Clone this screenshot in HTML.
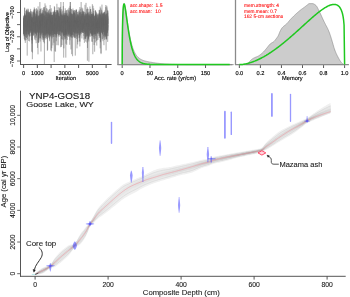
<!DOCTYPE html>
<html><head><meta charset="utf-8"><style>
html,body{margin:0;padding:0;background:#fff;overflow:hidden;}
svg{display:block;will-change:transform;font-family:"Liberation Sans", sans-serif;}
</style></head><body>
<svg width="350" height="297" viewBox="0 0 350 297">
<rect width="350" height="297" fill="#fff"/>
<line x1="20.5" y1="0" x2="20.5" y2="64.9" stroke="#555" stroke-width="1"/>
<line x1="20" y1="64.5" x2="111.6" y2="64.5" stroke="#555" stroke-width="1"/>
<line x1="17" y1="12.5" x2="20.5" y2="12.5" stroke="#555" stroke-width="0.9"/>
<line x1="17" y1="24.62" x2="20.5" y2="24.62" stroke="#555" stroke-width="0.9"/>
<line x1="17" y1="36.75" x2="20.5" y2="36.75" stroke="#555" stroke-width="0.9"/>
<line x1="17" y1="48.88" x2="20.5" y2="48.88" stroke="#555" stroke-width="0.9"/>
<line x1="17" y1="61" x2="20.5" y2="61" stroke="#555" stroke-width="0.9"/>
<text transform="translate(14.1,12.5) rotate(-90)" text-anchor="middle" font-size="5.5" fill="#000" stroke="#000" stroke-width="0.14" text-rendering="geometricPrecision">−700</text>
<text transform="translate(14.1,36.75) rotate(-90)" text-anchor="middle" font-size="5.5" fill="#000" stroke="#000" stroke-width="0.14" text-rendering="geometricPrecision">−720</text>
<text transform="translate(14.1,61) rotate(-90)" text-anchor="middle" font-size="5.5" fill="#000" stroke="#000" stroke-width="0.14" text-rendering="geometricPrecision">−740</text>
<text transform="translate(8.6,32.1) rotate(-90)" text-anchor="middle" font-size="5.5" fill="#000" stroke="#000" stroke-width="0.14" text-rendering="geometricPrecision">Log of Objective</text>
<line x1="23.6" y1="65" x2="23.6" y2="68" stroke="#444" stroke-width="0.9"/>
<line x1="37.35" y1="65" x2="37.35" y2="68" stroke="#444" stroke-width="0.9"/>
<line x1="51.1" y1="65" x2="51.1" y2="68" stroke="#444" stroke-width="0.9"/>
<line x1="64.85" y1="65" x2="64.85" y2="68" stroke="#444" stroke-width="0.9"/>
<line x1="78.6" y1="65" x2="78.6" y2="68" stroke="#444" stroke-width="0.9"/>
<line x1="92.35" y1="65" x2="92.35" y2="68" stroke="#444" stroke-width="0.9"/>
<line x1="106.1" y1="65" x2="106.1" y2="68" stroke="#444" stroke-width="0.9"/>
<text x="23.6" y="75" text-anchor="middle" font-size="5.7" fill="#000" stroke="#000" stroke-width="0.14" text-rendering="geometricPrecision">0</text>
<text x="37.35" y="75" text-anchor="middle" font-size="5.7" fill="#000" stroke="#000" stroke-width="0.14" text-rendering="geometricPrecision">1000</text>
<text x="64.85" y="75" text-anchor="middle" font-size="5.7" fill="#000" stroke="#000" stroke-width="0.14" text-rendering="geometricPrecision">3000</text>
<text x="92.35" y="75" text-anchor="middle" font-size="5.7" fill="#000" stroke="#000" stroke-width="0.14" text-rendering="geometricPrecision">5000</text>
<text x="65.8" y="80.1" text-anchor="middle" font-size="5.7" fill="#000" stroke="#000" stroke-width="0.14" text-rendering="geometricPrecision">Iteration</text>
<polyline points="23.50,22.0 23.52,26.8 23.53,34.3 23.55,26.3 23.57,25.1 23.58,20.7 23.60,22.6 23.61,34.0 23.63,19.4 23.65,34.4 23.66,22.9 23.68,22.9 23.70,17.7 23.71,20.1 23.73,16.7 23.74,20.1 23.76,28.4 23.78,23.6 23.79,24.4 23.81,15.4 23.83,17.5 23.84,20.3 23.86,32.7 23.87,27.2 23.89,20.6 23.91,29.8 23.92,24.0 23.94,20.3 23.96,16.0 23.97,26.1 23.99,18.5 24.00,26.6 24.02,24.1 24.04,26.0 24.05,18.1 24.07,29.6 24.09,22.7 24.10,21.7 24.12,18.6 24.13,28.0 24.15,26.6 24.17,28.5 24.18,36.3 24.20,25.6 24.22,21.5 24.23,26.0 24.25,26.1 24.26,25.1 24.28,38.9 24.30,22.8 24.31,36.1 24.33,21.9 24.35,24.7 24.36,15.9 24.38,35.9 24.39,22.4 24.41,17.9 24.43,22.9 24.44,30.2 24.46,21.7 24.48,24.4 24.49,28.0 24.51,27.5 24.52,24.6 24.54,25.7 24.56,13.3 24.57,28.9 24.59,7.6 24.61,25.2 24.62,26.5 24.64,31.8 24.65,7.9 24.67,40.3 24.69,25.1 24.70,31.8 24.72,15.1 24.74,19.4 24.75,21.1 24.77,15.5 24.78,25.8 24.80,19.9 24.82,32.5 24.83,13.6 24.85,25.3 24.87,24.2 24.88,20.7 24.90,15.5 24.91,23.2 24.93,16.1 24.95,23.3 24.96,32.7 24.98,20.1 25.00,34.9 25.01,19.4 25.03,23.7 25.04,26.1 25.06,21.6 25.08,14.6 25.09,29.7 25.11,21.7 25.13,16.7 25.14,26.8 25.16,29.9 25.17,24.6 25.19,40.4 25.21,30.8 25.22,34.2 25.24,26.3 25.26,25.6 25.27,19.2 25.29,25.4 25.30,42.9 25.32,24.4 25.34,21.1 25.35,19.4 25.37,30.4 25.39,23.8 25.40,26.6 25.42,20.0 25.43,33.6 25.45,36.9 25.47,24.1 25.48,26.3 25.50,22.4 25.52,17.7 25.53,28.3 25.55,21.2 25.56,15.9 25.58,23.3 25.60,18.8 25.61,21.1 25.63,19.1 25.65,19.0 25.66,25.2 25.68,27.0 25.69,22.4 25.71,27.9 25.73,30.6 25.74,22.1 25.76,27.9 25.78,20.9 25.79,10.9 25.81,33.9 25.82,14.7 25.84,24.9 25.86,20.4 25.87,27.5 25.89,16.2 25.91,26.9 25.92,24.3 25.94,17.5 25.95,27.6 25.97,15.8 25.99,23.5 26.00,28.0 26.02,25.8 26.04,17.4 26.05,23.8 26.07,22.0 26.08,21.6 26.10,24.7 26.12,23.2 26.13,21.7 26.15,30.9 26.17,26.6 26.18,40.1 26.20,18.9 26.21,25.2 26.23,28.4 26.25,29.6 26.26,31.0 26.28,17.2 26.30,16.7 26.31,24.0 26.33,23.8 26.34,23.3 26.36,20.5 26.38,10.4 26.39,18.6 26.41,21.1 26.43,20.3 26.44,38.0 26.46,12.6 26.47,34.9 26.49,25.7 26.51,20.7 26.52,37.4 26.54,19.5 26.56,20.5 26.57,33.5 26.59,17.7 26.60,21.4 26.62,19.2 26.64,23.7 26.65,24.6 26.67,26.2 26.69,11.7 26.70,18.0 26.72,21.6 26.73,27.6 26.75,15.0 26.77,14.5 26.78,8.9 26.80,29.0 26.82,27.3 26.83,19.3 26.85,34.0 26.86,10.3 26.88,17.4 26.90,9.9 26.91,21.9 26.93,23.0 26.95,22.5 26.96,26.7 26.98,30.5 26.99,26.9 27.01,28.9 27.03,24.0 27.04,19.0 27.06,24.3 27.08,30.9 27.09,24.6 27.11,30.3 27.12,21.6 27.14,26.6 27.16,13.7 27.17,25.5 27.19,19.5 27.21,55.6 27.22,23.7 27.24,27.4 27.25,28.6 27.27,29.5 27.29,25.9 27.30,28.7 27.32,16.9 27.34,19.2 27.35,29.9 27.37,26.7 27.38,22.7 27.40,30.7 27.42,17.6 27.43,18.2 27.45,33.6 27.47,36.7 27.48,29.0 27.50,21.4 27.51,39.3 27.53,23.5 27.55,24.1 27.56,28.1 27.58,24.3 27.60,23.6 27.61,30.3 27.63,22.8 27.64,11.9 27.66,17.9 27.68,32.0 27.69,31.4 27.71,25.3 27.73,23.4 27.74,26.2 27.76,24.2 27.77,30.1 27.79,22.0 27.81,20.8 27.82,23.3 27.84,19.4 27.86,18.7 27.87,21.0 27.89,26.9 27.90,15.0 27.92,33.4 27.94,11.8 27.95,11.0 27.97,16.3 27.99,26.2 28.00,8.6 28.02,21.2 28.03,26.2 28.05,23.9 28.07,24.5 28.08,26.8 28.10,34.3 28.12,15.0 28.13,20.8 28.15,22.5 28.16,28.9 28.18,12.7 28.20,29.9 28.21,23.8 28.23,24.3 28.25,25.6 28.26,18.9 28.28,31.1 28.29,28.3 28.31,9.4 28.33,21.7 28.34,24.7 28.36,26.7 28.38,29.2 28.39,20.8 28.41,24.6 28.42,19.2 28.44,24.9 28.46,29.8 28.47,26.9 28.49,22.2 28.51,17.1 28.52,18.9 28.54,15.3 28.55,34.0 28.57,24.6 28.59,34.3 28.60,26.2 28.62,25.7 28.64,40.9 28.65,25.9 28.67,17.5 28.68,23.4 28.70,22.3 28.72,12.1 28.73,26.9 28.75,24.5 28.77,30.9 28.78,34.9 28.80,27.4 28.81,20.7 28.83,31.4 28.85,36.1 28.86,29.4 28.88,28.7 28.90,12.2 28.91,17.3 28.93,25.1 28.94,18.9 28.96,13.1 28.98,25.0 28.99,31.9 29.01,23.0 29.03,18.6 29.04,19.1 29.06,25.7 29.07,22.5 29.09,16.3 29.11,19.4 29.12,27.9 29.14,21.8 29.16,20.7 29.17,17.3 29.19,19.4 29.20,18.2 29.22,31.1 29.24,32.3 29.25,26.9 29.27,22.3 29.29,25.1 29.30,34.3 29.32,23.4 29.33,22.9 29.35,19.3 29.37,27.6 29.38,19.5 29.40,12.1 29.42,25.4 29.43,16.2 29.45,24.4 29.46,22.8 29.48,23.5 29.50,18.0 29.51,17.0 29.53,16.5 29.55,19.6 29.56,11.8 29.58,41.4 29.59,32.9 29.61,21.9 29.63,26.5 29.64,23.4 29.66,21.3 29.68,25.4 29.69,22.1 29.71,36.7 29.72,26.6 29.74,20.1 29.76,19.8 29.77,22.7 29.79,29.6 29.81,16.6 29.82,36.1 29.84,13.6 29.85,27.8 29.87,25.4 29.89,23.0 29.90,24.2 29.92,23.5 29.94,17.8 29.95,23.8 29.97,25.7 29.98,33.1 30.00,25.9 30.02,14.1 30.03,26.5 30.05,31.7 30.07,17.4 30.08,23.6 30.10,23.9 30.12,13.1 30.13,28.7 30.15,15.9 30.16,20.7 30.18,22.0 30.20,20.5 30.21,32.9 30.23,20.1 30.25,30.4 30.26,23.2 30.28,20.7 30.29,26.5 30.31,13.8 30.33,28.6 30.34,29.6 30.36,18.9 30.38,18.4 30.39,29.2 30.41,20.0 30.42,21.3 30.44,10.8 30.46,19.2 30.47,18.2 30.49,25.6 30.51,13.8 30.52,18.9 30.54,19.1 30.55,24.7 30.57,22.5 30.59,26.6 30.60,8.9 30.62,22.1 30.64,16.2 30.65,27.7 30.67,22.2 30.68,31.6 30.70,26.5 30.72,21.7 30.73,18.0 30.75,19.2 30.77,22.9 30.78,25.5 30.80,12.3 30.81,29.3 30.83,22.3 30.85,21.4 30.86,31.2 30.88,22.9 30.90,24.6 30.91,22.7 30.93,28.2 30.94,20.4 30.96,30.0 30.98,24.3 30.99,20.3 31.01,20.9 31.03,19.6 31.04,21.5 31.06,26.6 31.07,15.1 31.09,16.7 31.11,26.7 31.12,32.8 31.14,19.0 31.16,21.9 31.17,20.2 31.19,24.3 31.20,35.7 31.22,24.1 31.24,19.0 31.25,28.2 31.27,32.1 31.29,25.1 31.30,11.3 31.32,23.1 31.33,27.5 31.35,19.0 31.37,17.5 31.38,26.2 31.40,17.5 31.42,27.8 31.43,25.1 31.45,18.1 31.46,24.0 31.48,20.4 31.50,27.7 31.51,23.8 31.53,30.9 31.55,18.9 31.56,21.8 31.58,19.6 31.59,51.7 31.61,25.2 31.63,28.5 31.64,13.7 31.66,20.8 31.68,34.6 31.69,26.7 31.71,19.1 31.72,40.0 31.74,16.8 31.76,24.5 31.77,27.1 31.79,29.3 31.81,30.3 31.82,24.4 31.84,25.5 31.85,31.3 31.87,28.1 31.89,33.5 31.90,21.4 31.92,19.8 31.94,33.0 31.95,18.1 31.97,29.7 31.98,17.7 32.00,30.5 32.02,34.0 32.03,43.6 32.05,26.2 32.07,18.6 32.08,21.2 32.10,29.8 32.11,31.5 32.13,16.7 32.15,40.5 32.16,11.5 32.18,21.8 32.20,35.8 32.21,30.5 32.23,27.7 32.24,24.5 32.26,32.2 32.28,23.7 32.29,12.4 32.31,24.5 32.33,31.8 32.34,20.1 32.36,21.4 32.37,17.7 32.39,59.2 32.41,30.6 32.42,29.1 32.44,52.5 32.46,23.4 32.47,22.8 32.49,34.5 32.50,29.8 32.52,22.8 32.54,28.4 32.55,24.5 32.57,35.2 32.59,34.5 32.60,20.6 32.62,18.1 32.63,23.9 32.65,25.3 32.67,24.6 32.68,21.9 32.70,26.9 32.72,24.8 32.73,14.7 32.75,17.8 32.76,19.8 32.78,19.0 32.80,24.2 32.81,25.2 32.83,26.2 32.85,21.4 32.86,18.8 32.88,18.6 32.89,34.5 32.91,27.1 32.93,22.9 32.94,30.1 32.96,27.2 32.98,30.0 32.99,36.1 33.01,28.3 33.02,23.4 33.04,27.8 33.06,27.9 33.07,26.6 33.09,24.7 33.11,16.3 33.12,19.6 33.14,22.9 33.15,26.2 33.17,26.6 33.19,31.0 33.20,28.1 33.22,20.6 33.24,21.1 33.25,23.2 33.27,21.5 33.28,22.5 33.30,23.6 33.32,28.3 33.33,34.5 33.35,31.2 33.37,23.8 33.38,28.7 33.40,12.1 33.41,35.5 33.43,28.4 33.45,22.3 33.46,23.3 33.48,24.2 33.50,31.6 33.51,16.8 33.53,20.1 33.54,26.7 33.56,24.5 33.58,20.8 33.59,25.5 33.61,23.5 33.63,19.8 33.64,27.7 33.66,17.1 33.67,23.9 33.69,29.3 33.71,33.2 33.72,12.4 33.74,15.7 33.76,31.5 33.77,27.0 33.79,24.1 33.80,24.3 33.82,11.4 33.84,22.4 33.85,31.4 33.87,9.5 33.89,29.9 33.90,10.5 33.92,14.8 33.93,25.5 33.95,26.2 33.97,23.7 33.98,26.3 34.00,21.1 34.02,20.2 34.03,18.3 34.05,24.7 34.06,22.8 34.08,23.1 34.10,18.4 34.11,23.9 34.13,35.2 34.15,28.8 34.16,23.3 34.18,20.6 34.19,20.5 34.21,28.6 34.23,13.3 34.24,22.4 34.26,20.0 34.28,19.5 34.29,7.4 34.31,23.8 34.32,18.8 34.34,19.8 34.36,17.4 34.37,28.7 34.39,16.8 34.41,23.6 34.42,21.2 34.44,22.3 34.45,27.7 34.47,22.8 34.49,9.4 34.50,23.8 34.52,14.1 34.54,22.6 34.55,32.6 34.57,20.6 34.58,16.0 34.60,20.5 34.62,8.7 34.63,8.8 34.65,16.4 34.67,39.5 34.68,19.3 34.70,12.7 34.71,21.7 34.73,30.9 34.75,18.9 34.76,23.5 34.78,22.6 34.80,32.6 34.81,26.0 34.83,30.6 34.84,31.8 34.86,23.5 34.88,25.9 34.89,25.4 34.91,34.0 34.93,21.5 34.94,26.0 34.96,27.9 34.97,32.1 34.99,25.5 35.01,37.5 35.02,20.3 35.04,25.8 35.06,18.7 35.07,23.9 35.09,29.9 35.10,12.5 35.12,24.7 35.14,28.7 35.15,22.7 35.17,21.7 35.19,24.9 35.20,21.1 35.22,28.4 35.23,22.8 35.25,20.9 35.27,29.5 35.28,13.8 35.30,27.8 35.32,22.5 35.33,30.3 35.35,30.8 35.36,23.8 35.38,32.2 35.40,18.8 35.41,22.3 35.43,22.5 35.45,29.4 35.46,29.9 35.48,28.7 35.49,21.9 35.51,27.8 35.53,32.7 35.54,17.7 35.56,32.9 35.58,25.4 35.59,22.1 35.61,19.1 35.62,34.0 35.64,33.1 35.66,23.8 35.67,28.7 35.69,28.0 35.71,16.7 35.72,23.4 35.74,16.1 35.75,22.1 35.77,22.4 35.79,40.3 35.80,18.2 35.82,23.1 35.84,26.3 35.85,22.8 35.87,19.6 35.88,9.2 35.90,30.4 35.92,23.0 35.93,31.5 35.95,29.1 35.97,25.8 35.98,21.1 36.00,14.6 36.01,29.0 36.03,21.3 36.05,17.8 36.06,33.6 36.08,17.9 36.10,19.5 36.11,23.0 36.13,26.9 36.14,27.8 36.16,27.2 36.18,43.2 36.19,24.9 36.21,20.8 36.23,22.4 36.24,37.7 36.26,24.3 36.27,17.6 36.29,28.3 36.31,27.1 36.32,31.9 36.34,28.6 36.36,14.5 36.37,18.2 36.39,26.1 36.40,15.5 36.42,15.2 36.44,19.9 36.45,31.2 36.47,8.2 36.49,29.4 36.50,35.7 36.52,23.8 36.54,19.6 36.55,17.2 36.57,29.9 36.58,11.5 36.60,23.7 36.62,27.0 36.63,34.9 36.65,10.8 36.67,19.7 36.68,15.9 36.70,20.4 36.71,20.7 36.73,21.1 36.75,24.5 36.76,15.6 36.78,22.1 36.80,20.7 36.81,22.7 36.83,23.5 36.84,30.9 36.86,18.6 36.88,22.9 36.89,14.1 36.91,20.5 36.93,33.1 36.94,30.7 36.96,24.1 36.97,20.2 36.99,32.0 37.01,24.4 37.02,30.3 37.04,17.9 37.06,28.7 37.07,32.7 37.09,28.0 37.10,24.1 37.12,30.0 37.14,28.3 37.15,23.5 37.17,27.7 37.19,26.6 37.20,24.0 37.22,21.2 37.23,17.9 37.25,31.8 37.27,9.3 37.28,24.1 37.30,22.0 37.32,19.9 37.33,24.2 37.35,28.6 37.36,25.4 37.38,19.1 37.40,25.6 37.41,23.0 37.43,25.7 37.45,22.9 37.46,28.6 37.48,47.9 37.49,18.4 37.51,17.6 37.53,17.0 37.54,32.4 37.56,20.0 37.58,19.7 37.59,21.9 37.61,30.8 37.62,23.1 37.64,24.1 37.66,24.2 37.67,24.7 37.69,27.2 37.71,28.9 37.72,22.7 37.74,29.5 37.75,23.1 37.77,10.2 37.79,26.1 37.80,22.4 37.82,19.4 37.84,21.1 37.85,20.3 37.87,28.3 37.88,11.6 37.90,30.0 37.92,17.3 37.93,19.8 37.95,18.0 37.97,19.9 37.98,19.6 38.00,54.3 38.01,16.3 38.03,25.5 38.05,26.5 38.06,15.5 38.08,21.6 38.10,23.3 38.11,18.7 38.13,26.1 38.14,6.4 38.16,24.2 38.18,24.2 38.19,28.1 38.21,24.2 38.23,15.6 38.24,23.5 38.26,28.1 38.27,42.6 38.29,31.0 38.31,22.8 38.32,17.5 38.34,42.5 38.36,25.1 38.37,21.9 38.39,20.5 38.40,20.4 38.42,26.7 38.44,33.8 38.45,20.3 38.47,22.0 38.49,25.9 38.50,19.0 38.52,20.1 38.53,15.8 38.55,28.0 38.57,19.6 38.58,29.7 38.60,39.2 38.62,23.3 38.63,20.8 38.65,32.3 38.66,20.4 38.68,22.9 38.70,22.0 38.71,42.7 38.73,26.0 38.75,28.0 38.76,28.6 38.78,20.5 38.79,23.6 38.81,27.2 38.83,39.7 38.84,28.0 38.86,26.0 38.88,33.2 38.89,24.2 38.91,36.3 38.92,22.2 38.94,29.7 38.96,22.5 38.97,32.2 38.99,23.9 39.01,23.8 39.02,27.8 39.04,32.8 39.05,26.6 39.07,23.9 39.09,23.6 39.10,28.2 39.12,23.4 39.14,17.6 39.15,28.4 39.17,19.3 39.18,22.4 39.20,22.2 39.22,16.1 39.23,16.0 39.25,22.2 39.27,26.7 39.28,17.3 39.30,29.5 39.31,25.3 39.33,23.6 39.35,26.5 39.36,29.0 39.38,26.9 39.40,26.8 39.41,13.5 39.43,24.1 39.44,31.1 39.46,27.3 39.48,25.0 39.49,25.0 39.51,21.2 39.53,23.6 39.54,15.2 39.56,21.8 39.57,29.8 39.59,11.0 39.61,16.8 39.62,29.9 39.64,18.7 39.66,38.1 39.67,17.4 39.69,17.5 39.70,27.2 39.72,27.8 39.74,22.6 39.75,24.9 39.77,23.9 39.79,32.6 39.80,29.1 39.82,21.5 39.83,23.8 39.85,28.8 39.87,2.0 39.88,22.8 39.90,28.5 39.92,19.4 39.93,23.1 39.95,28.4 39.96,27.8 39.98,18.4 40.00,20.6 40.01,28.8 40.03,25.3 40.05,21.9 40.06,34.7 40.08,9.5 40.09,31.4 40.11,41.5 40.13,27.4 40.14,25.9 40.16,16.6 40.18,25.5 40.19,20.6 40.21,26.9 40.22,8.5 40.24,22.7 40.26,20.2 40.27,18.8 40.29,20.9 40.31,25.6 40.32,18.7 40.34,20.8 40.35,20.1 40.37,15.0 40.39,27.7 40.40,38.5 40.42,23.2 40.44,9.1 40.45,23.9 40.47,21.0 40.48,22.9 40.50,31.6 40.52,37.8 40.53,22.5 40.55,21.9 40.57,28.4 40.58,33.6 40.60,13.1 40.61,24.7 40.63,21.6 40.65,20.9 40.66,25.6 40.68,26.9 40.70,20.0 40.71,24.0 40.73,20.5 40.74,22.9 40.76,20.8 40.78,26.7 40.79,17.3 40.81,18.2 40.83,14.9 40.84,19.5 40.86,29.8 40.87,24.8 40.89,19.5 40.91,21.4 40.92,20.0 40.94,32.1 40.96,17.3 40.97,51.5 40.99,21.3 41.00,25.1 41.02,21.7 41.04,26.5 41.05,34.8 41.07,23.4 41.09,23.7 41.10,14.6 41.12,32.0 41.13,29.1 41.15,23.5 41.17,20.2 41.18,29.2 41.20,13.7 41.22,27.3 41.23,19.7 41.25,34.5 41.26,21.4 41.28,19.1 41.30,24.8 41.31,15.0 41.33,30.5 41.35,21.4 41.36,25.1 41.38,33.3 41.39,14.0 41.41,18.1 41.43,19.3 41.44,21.8 41.46,20.0 41.48,17.8 41.49,20.6 41.51,29.4 41.52,22.0 41.54,17.8 41.56,28.2 41.57,24.6 41.59,20.3 41.61,25.3 41.62,19.1 41.64,17.5 41.65,23.1 41.67,18.7 41.69,18.8 41.70,18.2 41.72,29.0 41.74,25.7 41.75,23.3 41.77,23.7 41.78,12.9 41.80,36.3 41.82,17.7 41.83,23.5 41.85,14.6 41.87,8.3 41.88,31.9 41.90,33.2 41.91,21.3 41.93,28.7 41.95,13.7 41.96,29.0 41.98,34.7 42.00,39.4 42.01,20.3 42.03,20.7 42.04,29.7 42.06,28.4 42.08,22.5 42.09,16.5 42.11,15.3 42.13,14.8 42.14,20.2 42.16,18.5 42.17,15.6 42.19,18.2 42.21,21.2 42.22,13.5 42.24,20.4 42.26,20.4 42.27,32.1 42.29,11.8 42.30,32.8 42.32,21.2 42.34,26.9 42.35,26.3 42.37,21.6 42.39,29.2 42.40,16.1 42.42,29.8 42.43,14.4 42.45,10.1 42.47,23.6 42.48,26.0 42.50,21.3 42.52,31.4 42.53,27.1 42.55,31.5 42.56,28.9 42.58,30.4 42.60,28.9 42.61,30.0 42.63,37.5 42.65,25.0 42.66,32.4 42.68,24.8 42.69,13.4 42.71,30.9 42.73,24.9 42.74,18.1 42.76,20.4 42.78,35.0 42.79,23.3 42.81,20.3 42.82,24.1 42.84,21.4 42.86,27.0 42.87,16.9 42.89,22.9 42.91,14.5 42.92,20.0 42.94,15.4 42.95,13.7 42.97,23.1 42.99,29.5 43.00,27.4 43.02,24.7 43.04,26.0 43.05,25.4 43.07,33.1 43.09,17.7 43.10,16.7 43.12,36.3 43.13,40.3 43.15,17.6 43.17,27.0 43.18,13.7 43.20,39.5 43.22,19.3 43.23,29.0 43.25,18.8 43.26,21.4 43.28,25.6 43.30,15.9 43.31,27.4 43.33,17.3 43.35,24.8 43.36,21.1 43.38,16.9 43.39,24.9 43.41,42.1 43.43,17.3 43.44,15.7 43.46,24.5 43.48,38.1 43.49,22.2 43.51,21.2 43.52,22.6 43.54,19.7 43.56,19.0 43.57,10.7 43.59,14.8 43.61,23.8 43.62,23.8 43.64,29.7 43.65,30.2 43.67,29.9 43.69,18.0 43.70,21.9 43.72,28.4 43.74,27.2 43.75,34.8 43.77,22.2 43.78,16.7 43.80,22.7 43.82,22.4 43.83,7.9 43.85,27.5 43.87,18.2 43.88,22.3 43.90,19.0 43.91,7.0 43.93,29.8 43.95,34.1 43.96,22.2 43.98,34.3 44.00,14.3 44.01,25.7 44.03,16.1 44.04,18.3 44.06,29.4 44.08,9.2 44.09,20.1 44.11,27.3 44.13,27.9 44.14,27.5 44.16,23.3 44.17,19.0 44.19,18.8 44.21,32.4 44.22,21.6 44.24,22.9 44.26,25.8 44.27,7.0 44.29,24.3 44.30,27.9 44.32,26.7 44.34,35.7 44.35,43.3 44.37,30.6 44.39,16.0 44.40,64.0 44.42,31.3 44.43,38.3 44.45,33.9 44.47,24.6 44.48,24.0 44.50,23.0 44.52,20.2 44.53,27.2 44.55,26.7 44.56,24.3 44.58,27.7 44.60,18.2 44.61,23.5 44.63,28.8 44.65,28.3 44.66,25.7 44.68,30.6 44.69,32.6 44.71,20.5 44.73,35.7 44.74,20.7 44.76,29.6 44.78,34.7 44.79,17.6 44.81,26.1 44.82,21.6 44.84,21.8 44.86,22.2 44.87,23.5 44.89,15.0 44.91,23.7 44.92,22.8 44.94,11.2 44.95,11.8 44.97,15.8 44.99,23.5 45.00,3.4 45.02,24.4 45.04,30.7 45.05,20.4 45.07,20.6 45.08,26.0 45.10,39.5 45.12,29.6 45.13,30.6 45.15,15.8 45.17,25.9 45.18,27.1 45.20,22.7 45.21,27.9 45.23,25.2 45.25,30.7 45.26,17.6 45.28,21.9 45.30,26.9 45.31,36.1 45.33,21.0 45.34,19.3 45.36,17.4 45.38,27.9 45.39,25.6 45.41,27.6 45.43,32.4 45.44,22.5 45.46,21.4 45.47,23.9 45.49,22.8 45.51,30.3 45.52,38.0 45.54,25.3 45.56,29.8 45.57,17.7 45.59,30.8 45.60,23.4 45.62,25.3 45.64,10.5 45.65,16.2 45.67,34.2 45.69,30.0 45.70,24.9 45.72,11.7 45.73,27.2 45.75,33.7 45.77,31.1 45.78,18.2 45.80,24.5 45.82,27.7 45.83,19.9 45.85,5.6 45.86,19.7 45.88,30.2 45.90,26.1 45.91,24.5 45.93,22.7 45.95,34.7 45.96,32.0 45.98,20.1 45.99,25.1 46.01,34.8 46.03,20.6 46.04,12.6 46.06,20.4 46.08,22.2 46.09,23.9 46.11,23.3 46.12,24.5 46.14,28.7 46.16,25.1 46.17,28.8 46.19,25.2 46.21,11.9 46.22,25.7 46.24,37.5 46.25,35.3 46.27,18.2 46.29,17.7 46.30,22.8 46.32,29.2 46.34,26.3 46.35,20.6 46.37,30.1 46.38,36.8 46.40,17.1 46.42,23.3 46.43,25.3 46.45,28.7 46.47,20.0 46.48,21.4 46.50,25.3 46.51,26.7 46.53,25.8 46.55,28.5 46.56,33.1 46.58,26.7 46.60,23.0 46.61,8.1 46.63,26.3 46.64,23.3 46.66,20.3 46.68,21.1 46.69,27.6 46.71,27.0 46.73,19.2 46.74,13.4 46.76,38.7 46.77,36.1 46.79,14.4 46.81,19.5 46.82,28.2 46.84,29.1 46.86,20.1 46.87,33.6 46.89,18.1 46.90,23.4 46.92,32.8 46.94,17.6 46.95,33.6 46.97,33.1 46.99,26.8 47.00,17.0 47.02,21.5 47.03,24.9 47.05,22.8 47.07,32.7 47.08,26.0 47.10,28.7 47.12,8.8 47.13,31.9 47.15,17.6 47.16,13.5 47.18,17.4 47.20,21.4 47.21,19.9 47.23,39.3 47.25,33.5 47.26,30.0 47.28,27.8 47.29,23.2 47.31,12.3 47.33,16.4 47.34,30.4 47.36,23.1 47.38,19.6 47.39,50.9 47.41,16.0 47.42,13.5 47.44,20.2 47.46,31.0 47.47,24.7 47.49,31.0 47.51,20.3 47.52,19.7 47.54,20.7 47.55,24.2 47.57,24.0 47.59,23.3 47.60,31.2 47.62,15.0 47.64,18.4 47.65,49.9 47.67,11.9 47.68,22.1 47.70,20.5 47.72,24.1 47.73,18.9 47.75,22.4 47.77,27.1 47.78,19.6 47.80,23.5 47.81,30.3 47.83,21.2 47.85,32.4 47.86,28.0 47.88,17.8 47.90,31.3 47.91,35.9 47.93,24.1 47.94,18.1 47.96,27.5 47.98,27.0 47.99,22.5 48.01,21.1 48.03,18.4 48.04,32.1 48.06,32.5 48.07,14.9 48.09,33.7 48.11,18.0 48.12,24.4 48.14,19.3 48.16,28.1 48.17,17.8 48.19,35.2 48.20,24.8 48.22,20.3 48.24,21.0 48.25,10.0 48.27,29.6 48.29,20.6 48.30,34.3 48.32,30.4 48.33,24.5 48.35,24.5 48.37,27.2 48.38,31.4 48.40,17.9 48.42,26.1 48.43,22.5 48.45,19.8 48.46,28.5 48.48,26.4 48.50,11.2 48.51,27.5 48.53,32.5 48.55,12.8 48.56,23.4 48.58,16.6 48.59,15.6 48.61,28.4 48.63,37.5 48.64,19.6 48.66,32.8 48.68,17.3 48.69,19.2 48.71,33.2 48.72,18.6 48.74,24.0 48.76,29.9 48.77,32.2 48.79,26.1 48.81,22.5 48.82,28.3 48.84,18.7 48.85,29.6 48.87,27.8 48.89,13.9 48.90,33.9 48.92,27.4 48.94,13.7 48.95,20.5 48.97,24.1 48.98,31.4 49.00,23.0 49.02,27.9 49.03,35.2 49.05,30.5 49.07,25.1 49.08,27.3 49.10,21.9 49.11,17.9 49.13,23.6 49.15,23.6 49.16,37.5 49.18,24.8 49.20,14.8 49.21,33.4 49.23,17.7 49.24,30.7 49.26,9.2 49.28,20.4 49.29,25.7 49.31,18.2 49.33,29.5 49.34,12.8 49.36,35.4 49.37,16.7 49.39,28.8 49.41,18.0 49.42,17.7 49.44,18.3 49.46,17.7 49.47,18.4 49.49,39.5 49.51,25.7 49.52,30.8 49.54,41.2 49.55,15.2 49.57,26.8 49.59,22.5 49.60,24.1 49.62,22.7 49.64,28.1 49.65,21.5 49.67,27.1 49.68,29.1 49.70,23.1 49.72,27.1 49.73,32.4 49.75,23.2 49.77,15.0 49.78,34.1 49.80,14.0 49.81,17.6 49.83,17.3 49.85,27.7 49.86,24.2 49.88,35.3 49.90,18.1 49.91,32.8 49.93,9.3 49.94,23.9 49.96,31.3 49.98,28.4 49.99,23.7 50.01,27.3 50.03,21.0 50.04,25.2 50.06,22.1 50.07,22.1 50.09,22.0 50.11,16.2 50.12,36.7 50.14,31.0 50.16,15.9 50.17,5.0 50.19,15.8 50.20,34.3 50.22,26.1 50.24,22.2 50.25,12.1 50.27,23.9 50.29,28.2 50.30,29.2 50.32,25.5 50.33,23.3 50.35,31.5 50.37,26.4 50.38,22.4 50.40,19.3 50.42,29.5 50.43,16.9 50.45,17.0 50.46,30.0 50.48,17.9 50.50,36.1 50.51,14.1 50.53,11.6 50.55,20.4 50.56,28.8 50.58,16.1 50.59,23.5 50.61,21.9 50.63,34.3 50.64,30.3 50.66,20.2 50.68,26.6 50.69,17.0 50.71,21.5 50.72,29.2 50.74,25.6 50.76,14.6 50.77,50.4 50.79,25.8 50.81,25.1 50.82,19.3 50.84,17.6 50.85,24.1 50.87,31.0 50.89,13.3 50.90,25.1 50.92,27.0 50.94,31.5 50.95,13.0 50.97,33.6 50.98,32.9 51.00,28.0 51.02,24.4 51.03,15.3 51.05,15.6 51.07,27.4 51.08,35.4 51.10,22.9 51.11,25.1 51.13,26.7 51.15,26.6 51.16,37.4 51.18,35.9 51.20,22.3 51.21,24.8 51.23,8.3 51.24,26.0 51.26,27.9 51.28,17.0 51.29,23.7 51.31,16.8 51.33,26.4 51.34,23.6 51.36,21.2 51.37,33.1 51.39,17.5 51.41,23.8 51.42,19.1 51.44,51.3 51.46,30.5 51.47,29.7 51.49,20.1 51.50,29.2 51.52,18.7 51.54,15.7 51.55,12.1 51.57,28.4 51.59,19.7 51.60,15.0 51.62,17.7 51.63,15.9 51.65,27.2 51.67,30.2 51.68,21.1 51.70,21.3 51.72,25.1 51.73,15.5 51.75,23.7 51.76,17.6 51.78,48.1 51.80,29.0 51.81,25.8 51.83,34.7 51.85,28.2 51.86,15.2 51.88,22.8 51.89,31.2 51.91,26.4 51.93,28.0 51.94,30.4 51.96,23.2 51.98,23.1 51.99,19.1 52.01,25.9 52.02,20.9 52.04,28.8 52.06,38.5 52.07,21.5 52.09,17.6 52.11,25.3 52.12,23.1 52.14,25.1 52.15,29.2 52.17,31.6 52.19,35.2 52.20,22.6 52.22,17.8 52.24,17.5 52.25,17.9 52.27,23.3 52.28,35.5 52.30,24.5 52.32,18.4 52.33,14.9 52.35,27.3 52.37,20.0 52.38,23.4 52.40,27.0 52.41,31.1 52.43,28.9 52.45,32.8 52.46,19.3 52.48,22.6 52.50,15.4 52.51,26.3 52.53,28.1 52.54,30.1 52.56,30.0 52.58,25.1 52.59,21.4 52.61,30.3 52.63,23.7 52.64,24.4 52.66,37.1 52.67,23.5 52.69,22.7 52.71,25.9 52.72,25.0 52.74,11.8 52.76,15.8 52.77,28.7 52.79,14.8 52.80,15.2 52.82,15.4 52.84,14.7 52.85,23.0 52.87,17.0 52.89,19.7 52.90,31.2 52.92,25.0 52.93,18.4 52.95,45.4 52.97,29.7 52.98,17.1 53.00,23.5 53.02,18.6 53.03,28.1 53.05,26.7 53.06,15.7 53.08,26.6 53.10,20.6 53.11,17.0 53.13,22.8 53.15,22.2 53.16,24.4 53.18,23.0 53.19,21.4 53.21,29.7 53.23,25.4 53.24,26.0 53.26,24.9 53.28,19.4 53.29,34.8 53.31,29.7 53.32,21.4 53.34,20.7 53.36,15.7 53.37,18.9 53.39,25.6 53.41,33.3 53.42,29.4 53.44,13.6 53.45,23.4 53.47,36.8 53.49,22.0 53.50,20.4 53.52,20.8 53.54,34.6 53.55,29.6 53.57,13.9 53.58,25.9 53.60,19.3 53.62,15.8 53.63,16.7 53.65,30.5 53.67,19.6 53.68,23.2 53.70,11.8 53.71,26.2 53.73,30.1 53.75,12.4 53.76,16.0 53.78,31.9 53.80,28.2 53.81,30.4 53.83,22.7 53.84,19.2 53.86,26.6 53.88,42.7 53.89,39.6 53.91,24.3 53.93,17.1 53.94,19.9 53.96,36.7 53.97,30.8 53.99,20.9 54.01,16.1 54.02,20.3 54.04,26.0 54.06,12.0 54.07,15.3 54.09,21.6 54.10,25.7 54.12,15.9 54.14,11.0 54.15,22.3 54.17,26.4 54.19,26.2 54.20,62.0 54.22,30.4 54.23,23.5 54.25,22.1 54.27,25.8 54.28,13.1 54.30,29.9 54.32,17.3 54.33,23.9 54.35,27.4 54.36,27.1 54.38,18.3 54.40,6.2 54.41,28.0 54.43,32.3 54.45,31.8 54.46,29.7 54.48,27.9 54.49,10.2 54.51,33.9 54.53,17.9 54.54,20.6 54.56,33.8 54.58,10.9 54.59,21.9 54.61,21.2 54.62,7.2 54.64,21.8 54.66,14.9 54.67,25.0 54.69,19.2 54.71,19.2 54.72,20.2 54.74,23.7 54.75,31.2 54.77,12.2 54.79,19.7 54.80,29.9 54.82,33.9 54.84,21.8 54.85,26.8 54.87,31.8 54.88,31.4 54.90,26.7 54.92,51.3 54.93,32.4 54.95,29.8 54.97,18.0 54.98,34.1 55.00,28.3 55.01,17.0 55.03,32.0 55.05,13.4 55.06,25.5 55.08,13.0 55.10,12.3 55.11,26.0 55.13,24.9 55.14,25.7 55.16,23.8 55.18,31.2 55.19,24.2 55.21,34.7 55.23,27.9 55.24,28.1 55.26,21.3 55.27,28.2 55.29,36.7 55.31,16.5 55.32,23.4 55.34,26.5 55.36,30.8 55.37,23.2 55.39,30.0 55.40,29.9 55.42,18.4 55.44,23.1 55.45,30.0 55.47,20.4 55.49,20.6 55.50,18.9 55.52,25.7 55.53,19.8 55.55,51.6 55.57,13.9 55.58,11.9 55.60,17.5 55.62,30.5 55.63,26.8 55.65,19.7 55.66,28.9 55.68,19.3 55.70,25.7 55.71,20.8 55.73,21.9 55.75,24.5 55.76,34.3 55.78,18.8 55.79,15.2 55.81,30.9 55.83,25.9 55.84,20.0 55.86,20.0 55.88,26.4 55.89,17.3 55.91,20.0 55.92,18.4 55.94,14.8 55.96,21.8 55.97,30.4 55.99,24.2 56.01,24.7 56.02,33.4 56.04,13.2 56.06,10.1 56.07,31.4 56.09,25.1 56.10,25.3 56.12,25.4 56.14,23.4 56.15,23.6 56.17,14.0 56.19,27.2 56.20,23.0 56.22,19.5 56.23,22.5 56.25,15.4 56.27,25.3 56.28,25.9 56.30,28.4 56.32,21.7 56.33,41.2 56.35,18.7 56.36,24.7 56.38,37.7 56.40,24.3 56.41,26.6 56.43,17.6 56.45,20.4 56.46,15.8 56.48,35.3 56.49,32.3 56.51,33.4 56.53,33.2 56.54,25.7 56.56,14.3 56.58,23.7 56.59,29.5 56.61,32.8 56.62,28.7 56.64,33.6 56.66,25.8 56.67,34.1 56.69,29.2 56.71,22.1 56.72,26.5 56.74,22.5 56.75,36.5 56.77,32.9 56.79,10.2 56.80,17.7 56.82,12.3 56.84,30.0 56.85,29.6 56.87,16.3 56.88,32.1 56.90,45.2 56.92,3.8 56.93,16.5 56.95,33.9 56.97,23.3 56.98,20.7 57.00,25.5 57.01,26.6 57.03,18.8 57.05,16.3 57.06,23.9 57.08,28.3 57.10,19.0 57.11,11.6 57.13,18.0 57.14,29.2 57.16,14.0 57.18,10.7 57.19,24.9 57.21,23.0 57.23,19.4 57.24,17.1 57.26,33.4 57.27,31.5 57.29,29.9 57.31,10.5 57.32,18.2 57.34,24.0 57.36,15.4 57.37,18.1 57.39,21.4 57.40,24.6 57.42,24.2 57.44,33.9 57.45,27.1 57.47,22.6 57.49,25.6 57.50,20.0 57.52,12.9 57.53,31.7 57.55,14.2 57.57,28.7 57.58,24.5 57.60,10.5 57.62,25.8 57.63,19.4 57.65,25.9 57.66,19.1 57.68,30.5 57.70,22.5 57.71,18.1 57.73,28.6 57.75,27.2 57.76,20.0 57.78,22.2 57.79,23.4 57.81,32.0 57.83,10.8 57.84,28.8 57.86,20.5 57.88,29.1 57.89,25.7 57.91,10.1 57.92,14.2 57.94,22.1 57.96,17.4 57.97,31.1 57.99,13.7 58.01,31.8 58.02,23.3 58.04,27.9 58.05,22.3 58.07,28.5 58.09,29.8 58.10,17.5 58.12,27.3 58.14,16.1 58.15,22.6 58.17,25.2 58.18,20.2 58.20,18.7 58.22,29.6 58.23,7.2 58.25,45.3 58.27,33.0 58.28,27.9 58.30,21.6 58.31,29.1 58.33,35.2 58.35,15.7 58.36,17.7 58.38,29.1 58.40,24.2 58.41,20.2 58.43,35.4 58.44,20.5 58.46,25.6 58.48,20.9 58.49,25.5 58.51,24.4 58.53,21.0 58.54,24.3 58.56,15.8 58.57,34.1 58.59,31.0 58.61,20.5 58.62,12.8 58.64,24.3 58.66,13.9 58.67,12.4 58.69,26.4 58.70,28.0 58.72,19.6 58.74,18.0 58.75,21.6 58.77,20.5 58.79,25.7 58.80,17.3 58.82,22.0 58.83,29.7 58.85,30.8 58.87,24.5 58.88,23.9 58.90,24.1 58.92,20.0 58.93,18.6 58.95,24.3 58.96,22.8 58.98,16.4 59.00,15.9 59.01,17.0 59.03,22.0 59.05,16.5 59.06,26.3 59.08,19.0 59.09,18.6 59.11,36.8 59.13,17.2 59.14,21.1 59.16,33.4 59.18,20.8 59.19,28.2 59.21,28.3 59.22,23.8 59.24,24.9 59.26,19.9 59.27,16.4 59.29,22.0 59.31,20.7 59.32,28.5 59.34,35.1 59.35,25.9 59.37,26.3 59.39,18.6 59.40,30.5 59.42,21.0 59.44,28.3 59.45,30.9 59.47,26.6 59.48,7.5 59.50,28.4 59.52,22.9 59.53,31.6 59.55,24.9 59.57,20.2 59.58,18.0 59.60,29.8 59.61,25.7 59.63,22.4 59.65,34.9 59.66,23.4 59.68,18.7 59.70,22.6 59.71,27.2 59.73,18.2 59.74,31.3 59.76,24.8 59.78,26.2 59.79,30.2 59.81,26.9 59.83,27.2 59.84,34.1 59.86,27.6 59.87,8.5 59.89,14.3 59.91,24.7 59.92,30.3 59.94,26.9 59.96,29.0 59.97,30.7 59.99,28.9 60.00,20.7 60.02,18.3 60.04,14.2 60.05,25.2 60.07,10.8 60.09,19.5 60.10,16.6 60.12,16.1 60.13,29.9 60.15,21.1 60.17,25.9 60.18,23.4 60.20,30.3 60.22,24.5 60.23,27.3 60.25,35.5 60.26,17.7 60.28,22.3 60.30,21.9 60.31,23.6 60.33,24.7 60.35,17.4 60.36,35.9 60.38,9.6 60.39,19.5 60.41,15.7 60.43,29.3 60.44,24.3 60.46,23.8 60.48,23.1 60.49,25.9 60.51,12.8 60.52,19.0 60.54,6.9 60.56,14.3 60.57,29.1 60.59,47.2 60.61,16.4 60.62,25.8 60.64,23.4 60.65,21.3 60.67,16.3 60.69,19.7 60.70,11.0 60.72,17.4 60.74,23.0 60.75,22.6 60.77,14.9 60.78,24.7 60.80,31.6 60.82,13.7 60.83,12.8 60.85,21.1 60.87,31.0 60.88,2.0 60.90,18.0 60.91,27.0 60.93,29.7 60.95,22.4 60.96,26.5 60.98,31.9 61.00,26.8 61.01,29.2 61.03,19.5 61.04,15.5 61.06,23.5 61.08,17.5 61.09,29.1 61.11,25.7 61.13,22.2 61.14,31.0 61.16,14.6 61.17,15.2 61.19,19.4 61.21,25.0 61.22,26.7 61.24,30.0 61.26,15.2 61.27,25.1 61.29,25.6 61.30,24.8 61.32,31.9 61.34,33.1 61.35,28.8 61.37,29.6 61.39,21.5 61.40,24.6 61.42,15.8 61.43,23.9 61.45,19.2 61.47,25.4 61.48,33.3 61.50,46.8 61.52,22.1 61.53,27.4 61.55,21.1 61.56,30.5 61.58,28.1 61.60,14.2 61.61,22.4 61.63,20.3 61.65,27.5 61.66,25.2 61.68,29.4 61.69,9.2 61.71,16.2 61.73,39.0 61.74,36.0 61.76,20.4 61.78,19.6 61.79,24.5 61.81,28.5 61.82,24.3 61.84,21.2 61.86,33.4 61.87,32.5 61.89,18.8 61.91,25.4 61.92,12.4 61.94,18.0 61.95,22.4 61.97,37.8 61.99,45.1 62.00,21.2 62.02,15.3 62.04,23.0 62.05,18.3 62.07,22.3 62.08,29.3 62.10,26.2 62.12,28.4 62.13,29.3 62.15,16.3 62.17,25.7 62.18,32.2 62.20,24.2 62.21,25.4 62.23,39.5 62.25,22.2 62.26,31.5 62.28,18.3 62.30,25.5 62.31,28.3 62.33,25.2 62.34,31.5 62.36,31.5 62.38,26.8 62.39,26.6 62.41,24.5 62.43,23.7 62.44,32.2 62.46,27.1 62.47,15.4 62.49,16.5 62.51,26.2 62.52,25.0 62.54,31.7 62.56,21.7 62.57,16.0 62.59,26.9 62.61,17.7 62.62,30.0 62.64,26.6 62.65,17.2 62.67,19.2 62.69,22.7 62.70,30.6 62.72,10.7 62.74,21.1 62.75,18.4 62.77,25.8 62.78,14.3 62.80,32.4 62.82,25.4 62.83,16.1 62.85,25.1 62.87,29.5 62.88,23.7 62.90,33.4 62.91,18.9 62.93,21.9 62.95,23.1 62.96,30.1 62.98,19.1 63.00,20.7 63.01,14.6 63.03,30.6 63.04,16.2 63.06,25.7 63.08,21.5 63.09,21.7 63.11,24.0 63.13,34.9 63.14,29.4 63.16,22.5 63.17,19.9 63.19,19.3 63.21,31.8 63.22,22.6 63.24,19.2 63.26,21.3 63.27,40.3 63.29,6.1 63.30,24.7 63.32,19.7 63.34,17.0 63.35,28.5 63.37,17.0 63.39,2.0 63.40,23.2 63.42,30.4 63.43,34.0 63.45,23.3 63.47,18.6 63.48,23.4 63.50,30.1 63.52,15.7 63.53,24.1 63.55,16.4 63.56,22.0 63.58,36.1 63.60,18.4 63.61,22.0 63.63,25.5 63.65,33.3 63.66,57.6 63.68,18.5 63.69,27.9 63.71,23.2 63.73,24.3 63.74,35.6 63.76,29.8 63.78,22.1 63.79,21.9 63.81,35.2 63.82,21.3 63.84,28.7 63.86,13.4 63.87,17.9 63.89,34.7 63.91,48.3 63.92,25.7 63.94,14.9 63.95,21.8 63.97,16.5 63.99,22.5 64.00,21.6 64.02,20.3 64.04,26.6 64.05,27.5 64.07,17.4 64.08,28.0 64.10,13.5 64.12,21.8 64.13,21.5 64.15,30.0 64.17,15.2 64.18,28.8 64.20,20.5 64.21,18.1 64.23,20.6 64.25,18.7 64.26,29.5 64.28,31.1 64.30,15.8 64.31,27.3 64.33,29.3 64.34,21.6 64.36,19.4 64.38,27.9 64.39,20.7 64.41,16.7 64.43,24.3 64.44,22.4 64.46,18.7 64.47,19.0 64.49,32.8 64.51,32.4 64.52,21.6 64.54,35.3 64.56,30.0 64.57,27.1 64.59,19.7 64.60,34.8 64.62,20.5 64.64,23.7 64.65,31.0 64.67,27.2 64.69,29.3 64.70,37.1 64.72,24.1 64.73,25.1 64.75,28.3 64.77,31.5 64.78,39.4 64.80,36.6 64.82,30.6 64.83,29.9 64.85,20.4 64.86,15.5 64.88,12.9 64.90,31.6 64.91,37.5 64.93,14.5 64.95,29.7 64.96,14.0 64.98,11.3 64.99,20.4 65.01,34.7 65.03,30.5 65.04,16.4 65.06,28.1 65.08,17.3 65.09,25.1 65.11,24.2 65.12,15.7 65.14,32.8 65.16,15.0 65.17,26.1 65.19,20.5 65.21,19.5 65.22,35.6 65.24,22.0 65.25,39.2 65.27,8.3 65.29,19.1 65.30,30.2 65.32,17.5 65.34,29.2 65.35,19.7 65.37,22.0 65.38,21.4 65.40,30.9 65.42,19.0 65.43,29.6 65.45,26.1 65.47,23.2 65.48,12.9 65.50,14.4 65.51,21.8 65.53,34.3 65.55,28.9 65.56,34.0 65.58,26.8 65.60,29.7 65.61,27.2 65.63,25.7 65.64,20.4 65.66,26.3 65.68,28.5 65.69,24.5 65.71,15.4 65.73,20.5 65.74,20.2 65.76,23.0 65.77,27.7 65.79,20.2 65.81,57.6 65.82,19.5 65.84,21.0 65.86,31.1 65.87,34.1 65.89,29.4 65.90,28.6 65.92,21.8 65.94,21.9 65.95,43.7 65.97,13.6 65.99,10.3 66.00,26.5 66.02,22.7 66.03,14.3 66.05,22.8 66.07,35.7 66.08,19.0 66.10,19.5 66.12,21.5 66.13,25.9 66.15,22.9 66.16,38.2 66.18,24.3 66.20,20.8 66.21,32.8 66.23,21.1 66.25,34.2 66.26,29.1 66.28,27.5 66.29,27.6 66.31,26.4 66.33,23.8 66.34,23.5 66.36,12.4 66.38,10.5 66.39,34.8 66.41,19.9 66.42,32.0 66.44,22.3 66.46,16.2 66.47,29.4 66.49,14.3 66.51,16.1 66.52,25.7 66.54,24.8 66.55,26.4 66.57,34.0 66.59,16.5 66.60,25.5 66.62,31.0 66.64,27.6 66.65,27.5 66.67,25.0 66.68,22.3 66.70,44.8 66.72,21.3 66.73,26.3 66.75,24.4 66.77,24.4 66.78,30.7 66.80,22.0 66.81,22.1 66.83,13.0 66.85,24.1 66.86,31.2 66.88,23.8 66.90,16.4 66.91,19.5 66.93,12.6 66.94,22.5 66.96,19.1 66.98,29.4 66.99,19.2 67.01,10.0 67.03,31.8 67.04,15.7 67.06,19.5 67.07,29.3 67.09,27.8 67.11,29.0 67.12,29.8 67.14,30.4 67.16,35.5 67.17,25.4 67.19,22.4 67.20,20.3 67.22,22.2 67.24,30.1 67.25,33.9 67.27,21.7 67.29,32.7 67.30,25.5 67.32,19.9 67.33,39.9 67.35,32.6 67.37,29.6 67.38,22.3 67.40,16.2 67.42,29.4 67.43,19.8 67.45,24.5 67.46,20.3 67.48,35.6 67.50,24.3 67.51,31.7 67.53,16.3 67.55,18.7 67.56,26.5 67.58,28.8 67.59,19.0 67.61,24.8 67.63,17.5 67.64,21.8 67.66,26.1 67.68,23.9 67.69,15.4 67.71,20.3 67.72,21.3 67.74,23.4 67.76,30.9 67.77,23.8 67.79,26.1 67.81,25.3 67.82,21.7 67.84,28.9 67.85,21.4 67.87,19.7 67.89,9.3 67.90,31.1 67.92,23.6 67.94,16.8 67.95,22.4 67.97,16.8 67.98,29.6 68.00,24.1 68.02,20.6 68.03,19.8 68.05,20.6 68.07,29.2 68.08,27.1 68.10,27.5 68.11,14.1 68.13,27.7 68.15,15.7 68.16,36.5 68.18,32.0 68.20,21.7 68.21,27.6 68.23,30.2 68.24,27.4 68.26,28.3 68.28,22.7 68.29,17.4 68.31,27.1 68.33,28.4 68.34,20.1 68.36,21.9 68.37,16.9 68.39,32.2 68.41,26.0 68.42,29.5 68.44,23.4 68.46,27.2 68.47,34.1 68.49,20.9 68.50,17.4 68.52,21.1 68.54,25.9 68.55,20.4 68.57,32.4 68.59,22.8 68.60,24.0 68.62,17.1 68.63,33.9 68.65,22.6 68.67,21.0 68.68,29.4 68.70,20.9 68.72,31.4 68.73,34.8 68.75,22.4 68.76,36.5 68.78,25.3 68.80,21.2 68.81,30.5 68.83,25.9 68.85,20.6 68.86,22.1 68.88,7.8 68.89,26.4 68.91,17.7 68.93,17.5 68.94,20.4 68.96,10.2 68.98,28.6 68.99,15.6 69.01,25.5 69.03,34.9 69.04,15.5 69.06,10.5 69.07,32.7 69.09,28.5 69.11,22.6 69.12,36.4 69.14,17.2 69.16,25.6 69.17,30.1 69.19,19.3 69.20,22.5 69.22,18.2 69.24,19.0 69.25,25.6 69.27,31.9 69.29,26.9 69.30,32.2 69.32,24.0 69.33,25.3 69.35,30.6 69.37,11.9 69.38,20.7 69.40,32.3 69.42,31.4 69.43,23.8 69.45,22.4 69.46,22.4 69.48,18.0 69.50,28.6 69.51,20.2 69.53,22.2 69.55,29.7 69.56,26.0 69.58,17.2 69.59,19.5 69.61,20.0 69.63,18.6 69.64,24.1 69.66,21.7 69.68,21.8 69.69,16.3 69.71,44.8 69.72,16.5 69.74,25.7 69.76,28.3 69.77,25.3 69.79,12.9 69.81,34.6 69.82,18.8 69.84,25.5 69.85,22.4 69.87,26.7 69.89,30.1 69.90,22.7 69.92,26.2 69.94,21.3 69.95,40.3 69.97,21.9 69.98,32.4 70.00,23.5 70.02,20.7 70.03,26.9 70.05,20.8 70.07,5.9 70.08,29.0 70.10,7.7 70.11,28.0 70.13,2.0 70.15,21.3 70.16,37.3 70.18,20.9 70.20,23.8 70.21,26.0 70.23,16.7 70.24,18.1 70.26,33.0 70.28,33.8 70.29,19.6 70.31,31.3 70.33,25.3 70.34,33.7 70.36,23.5 70.37,31.5 70.39,13.4 70.41,18.8 70.42,29.1 70.44,26.9 70.46,21.5 70.47,23.3 70.49,18.3 70.50,2.0 70.52,7.0 70.54,30.0 70.55,12.0 70.57,26.5 70.59,18.4 70.60,24.9 70.62,21.8 70.63,20.3 70.65,33.8 70.67,23.5 70.68,35.9 70.70,29.5 70.72,23.7 70.73,22.8 70.75,33.9 70.76,35.5 70.78,26.0 70.80,24.3 70.81,23.1 70.83,36.7 70.85,18.4 70.86,31.8 70.88,33.3 70.89,8.9 70.91,20.9 70.93,14.4 70.94,31.1 70.96,49.4 70.98,26.4 70.99,26.1 71.01,24.5 71.02,18.2 71.04,17.3 71.06,26.4 71.07,19.0 71.09,17.8 71.11,26.2 71.12,18.5 71.14,24.3 71.15,27.1 71.17,32.0 71.19,17.3 71.20,35.3 71.22,25.7 71.24,30.3 71.25,26.6 71.27,19.2 71.28,26.8 71.30,14.0 71.32,37.7 71.33,28.1 71.35,13.4 71.37,20.0 71.38,25.3 71.40,17.3 71.41,17.7 71.43,20.0 71.45,9.0 71.46,23.4 71.48,28.5 71.50,17.3 71.51,28.9 71.53,25.0 71.54,27.2 71.56,35.5 71.58,25.4 71.59,24.8 71.61,28.9 71.63,54.2 71.64,17.4 71.66,15.0 71.67,34.8 71.69,16.2 71.71,21.6 71.72,26.9 71.74,13.4 71.76,37.3 71.77,19.7 71.79,29.3 71.80,33.5 71.82,28.6 71.84,31.6 71.85,22.8 71.87,29.9 71.89,14.5 71.90,30.8 71.92,26.8 71.93,22.9 71.95,17.0 71.97,35.0 71.98,20.1 72.00,27.0 72.02,15.4 72.03,26.8 72.05,25.7 72.06,16.2 72.08,24.3 72.10,9.8 72.11,16.2 72.13,21.8 72.15,21.1 72.16,29.2 72.18,14.8 72.19,21.1 72.21,22.0 72.23,23.8 72.24,14.0 72.26,34.9 72.28,22.3 72.29,28.9 72.31,26.7 72.32,28.1 72.34,29.1 72.36,30.6 72.37,29.1 72.39,20.6 72.41,20.9 72.42,21.3 72.44,34.3 72.45,27.4 72.47,18.3 72.49,23.9 72.50,19.4 72.52,23.7 72.54,15.5 72.55,22.0 72.57,56.2 72.58,15.6 72.60,20.7 72.62,25.6 72.63,14.1 72.65,13.8 72.67,30.7 72.68,25.1 72.70,21.2 72.71,20.5 72.73,25.4 72.75,28.1 72.76,22.1 72.78,17.5 72.80,38.1 72.81,18.8 72.83,28.7 72.84,25.2 72.86,27.7 72.88,19.0 72.89,19.3 72.91,23.0 72.93,24.7 72.94,16.8 72.96,30.1 72.97,8.5 72.99,34.8 73.01,25.2 73.02,21.2 73.04,18.9 73.06,28.0 73.07,24.6 73.09,24.2 73.10,23.8 73.12,24.7 73.14,31.3 73.15,16.5 73.17,22.3 73.19,29.4 73.20,21.5 73.22,23.5 73.23,18.0 73.25,36.8 73.27,16.1 73.28,21.0 73.30,27.5 73.32,25.2 73.33,19.3 73.35,32.2 73.36,18.6 73.38,10.8 73.40,19.0 73.41,32.1 73.43,20.3 73.45,10.1 73.46,21.1 73.48,16.4 73.49,32.0 73.51,19.2 73.53,35.6 73.54,27.8 73.56,18.5 73.58,24.7 73.59,26.5 73.61,23.1 73.62,26.0 73.64,21.9 73.66,11.2 73.67,30.9 73.69,13.7 73.71,26.1 73.72,12.8 73.74,29.8 73.75,19.1 73.77,27.3 73.79,17.7 73.80,24.9 73.82,18.8 73.84,22.3 73.85,19.3 73.87,30.3 73.88,21.1 73.90,21.3 73.92,24.2 73.93,15.9 73.95,28.8 73.97,15.4 73.98,31.1 74.00,26.6 74.01,24.0 74.03,22.4 74.05,13.1 74.06,26.9 74.08,13.1 74.10,26.7 74.11,19.6 74.13,21.6 74.14,22.8 74.16,37.1 74.18,19.7 74.19,12.1 74.21,18.3 74.23,19.6 74.24,19.6 74.26,22.2 74.27,23.9 74.29,20.3 74.31,33.4 74.32,24.6 74.34,36.6 74.36,34.6 74.37,16.5 74.39,30.4 74.40,13.8 74.42,25.7 74.44,25.6 74.45,26.2 74.47,21.9 74.49,19.1 74.50,21.9 74.52,15.8 74.53,26.3 74.55,23.4 74.57,10.0 74.58,27.5 74.60,38.2 74.62,12.5 74.63,15.2 74.65,30.8 74.66,25.8 74.68,19.6 74.70,23.9 74.71,33.0 74.73,23.1 74.75,15.7 74.76,21.7 74.78,24.9 74.79,10.6 74.81,20.4 74.83,26.1 74.84,17.5 74.86,28.9 74.88,22.9 74.89,13.1 74.91,29.2 74.92,20.9 74.94,35.4 74.96,14.7 74.97,38.0 74.99,35.8 75.01,21.0 75.02,13.8 75.04,26.0 75.05,15.3 75.07,23.9 75.09,20.9 75.10,22.5 75.12,23.3 75.14,26.2 75.15,18.9 75.17,22.9 75.18,27.7 75.20,25.6 75.22,17.9 75.23,29.8 75.25,21.9 75.27,20.6 75.28,25.9 75.30,55.6 75.31,21.7 75.33,19.6 75.35,29.4 75.36,23.4 75.38,30.6 75.40,33.8 75.41,32.3 75.43,24.2 75.44,18.2 75.46,29.3 75.48,29.4 75.49,10.9 75.51,17.8 75.53,21.9 75.54,30.6 75.56,32.0 75.58,19.5 75.59,24.8 75.61,20.3 75.62,27.3 75.64,26.1 75.66,21.0 75.67,37.7 75.69,26.4 75.71,27.7 75.72,26.3 75.74,26.6 75.75,21.9 75.77,31.3 75.79,24.6 75.80,28.8 75.82,33.4 75.84,22.8 75.85,26.4 75.87,21.3 75.88,9.7 75.90,18.9 75.92,21.8 75.93,28.3 75.95,29.9 75.97,24.0 75.98,20.5 76.00,17.2 76.01,21.5 76.03,29.6 76.05,22.5 76.06,32.6 76.08,19.1 76.10,28.6 76.11,29.4 76.13,28.6 76.14,30.4 76.16,31.1 76.18,25.8 76.19,21.5 76.21,33.0 76.23,22.3 76.24,27.5 76.26,18.9 76.27,20.7 76.29,25.4 76.31,21.6 76.32,26.2 76.34,22.9 76.36,21.1 76.37,9.9 76.39,25.5 76.40,9.7 76.42,29.4 76.44,20.3 76.45,22.6 76.47,36.5 76.49,31.1 76.50,9.6 76.52,14.3 76.53,33.8 76.55,25.6 76.57,28.1 76.58,28.0 76.60,22.1 76.62,17.8 76.63,18.3 76.65,38.9 76.66,16.6 76.68,25.8 76.70,27.5 76.71,29.8 76.73,23.8 76.75,26.6 76.76,18.8 76.78,18.8 76.79,31.4 76.81,22.4 76.83,17.9 76.84,22.5 76.86,28.8 76.88,17.5 76.89,21.7 76.91,21.2 76.92,24.7 76.94,20.8 76.96,22.2 76.97,26.2 76.99,14.5 77.01,48.3 77.02,26.9 77.04,29.7 77.05,25.6 77.07,21.2 77.09,26.0 77.10,27.6 77.12,26.5 77.14,27.7 77.15,25.1 77.17,28.8 77.18,23.7 77.20,18.4 77.22,25.9 77.23,15.6 77.25,18.8 77.27,29.0 77.28,23.6 77.30,22.3 77.31,27.3 77.33,15.4 77.35,24.6 77.36,23.6 77.38,25.4 77.40,26.7 77.41,22.4 77.43,23.4 77.44,26.9 77.46,21.9 77.48,33.3 77.49,27.8 77.51,26.4 77.53,22.2 77.54,20.4 77.56,32.8 77.57,19.5 77.59,20.5 77.61,44.4 77.62,21.5 77.64,30.4 77.66,32.9 77.67,17.2 77.69,14.3 77.70,36.2 77.72,16.3 77.74,12.0 77.75,17.5 77.77,31.1 77.79,41.9 77.80,11.7 77.82,16.5 77.83,26.4 77.85,21.1 77.87,19.7 77.88,24.4 77.90,19.5 77.92,17.1 77.93,24.5 77.95,16.6 77.96,20.3 77.98,13.7 78.00,27.9 78.01,38.2 78.03,27.3 78.05,21.3 78.06,22.2 78.08,26.9 78.09,15.2 78.11,15.1 78.13,17.0 78.14,16.7 78.16,19.2 78.18,33.0 78.19,21.5 78.21,33.4 78.22,29.8 78.24,22.0 78.26,24.9 78.27,24.1 78.29,14.4 78.31,31.0 78.32,22.0 78.34,21.5 78.35,20.7 78.37,25.2 78.39,30.5 78.40,20.4 78.42,26.5 78.44,18.4 78.45,28.1 78.47,22.3 78.48,16.7 78.50,21.7 78.52,21.3 78.53,18.0 78.55,15.6 78.57,24.8 78.58,20.4 78.60,21.0 78.61,18.6 78.63,20.7 78.65,22.4 78.66,21.3 78.68,16.2 78.70,23.8 78.71,24.4 78.73,21.0 78.74,27.5 78.76,20.4 78.78,24.4 78.79,27.6 78.81,20.8 78.83,28.6 78.84,32.4 78.86,34.5 78.87,21.7 78.89,21.9 78.91,27.8 78.92,17.7 78.94,29.2 78.96,34.6 78.97,16.7 78.99,21.1 79.00,16.1 79.02,26.4 79.04,35.1 79.05,31.7 79.07,27.5 79.09,22.4 79.10,23.4 79.12,11.1 79.13,27.3 79.15,9.7 79.17,30.0 79.18,25.8 79.20,24.9 79.22,18.0 79.23,12.8 79.25,25.6 79.26,31.3 79.28,25.8 79.30,11.7 79.31,21.8 79.33,30.9 79.35,19.6 79.36,20.7 79.38,26.5 79.39,23.7 79.41,37.8 79.43,26.9 79.44,21.4 79.46,21.9 79.48,22.2 79.49,30.1 79.51,19.0 79.52,21.6 79.54,17.2 79.56,18.6 79.57,18.4 79.59,20.0 79.61,22.4 79.62,17.0 79.64,41.2 79.65,36.0 79.67,25.8 79.69,18.9 79.70,20.6 79.72,25.4 79.74,21.1 79.75,18.1 79.77,23.5 79.78,37.5 79.80,24.5 79.82,26.9 79.83,46.4 79.85,17.9 79.87,29.7 79.88,19.2 79.90,7.0 79.91,17.5 79.93,13.0 79.95,15.9 79.96,15.2 79.98,41.8 80.00,24.1 80.01,29.8 80.03,21.9 80.04,23.0 80.06,26.0 80.08,28.0 80.09,25.0 80.11,26.2 80.13,23.5 80.14,29.5 80.16,18.8 80.17,21.7 80.19,33.3 80.21,32.8 80.22,18.7 80.24,28.7 80.26,19.6 80.27,24.1 80.29,30.1 80.30,25.9 80.32,13.7 80.34,11.9 80.35,22.7 80.37,33.5 80.39,28.0 80.40,31.7 80.42,18.5 80.43,16.2 80.45,30.8 80.47,18.8 80.48,24.9 80.50,23.9 80.52,12.3 80.53,28.0 80.55,23.5 80.56,18.8 80.58,35.4 80.60,35.2 80.61,27.8 80.63,18.5 80.65,16.7 80.66,20.5 80.68,32.1 80.69,17.3 80.71,8.8 80.73,15.9 80.74,20.7 80.76,32.4 80.78,18.3 80.79,17.6 80.81,28.8 80.82,25.0 80.84,25.5 80.86,29.0 80.87,23.7 80.89,21.3 80.91,22.9 80.92,22.3 80.94,33.3 80.95,27.4 80.97,22.2 80.99,24.8 81.00,23.5 81.02,18.6 81.04,18.3 81.05,16.9 81.07,24.6 81.08,26.1 81.10,21.9 81.12,14.1 81.13,27.5 81.15,2.0 81.17,22.3 81.18,18.8 81.20,23.9 81.21,22.6 81.23,25.1 81.25,16.9 81.26,16.2 81.28,32.0 81.30,23.2 81.31,33.7 81.33,26.1 81.34,26.6 81.36,23.5 81.38,19.3 81.39,24.8 81.41,19.4 81.43,22.0 81.44,24.8 81.46,29.7 81.47,16.5 81.49,26.8 81.51,27.5 81.52,26.0 81.54,19.2 81.56,24.3 81.57,25.9 81.59,32.1 81.60,14.2 81.62,21.2 81.64,16.2 81.65,25.1 81.67,22.6 81.69,18.7 81.70,23.5 81.72,12.4 81.73,20.9 81.75,28.9 81.77,23.5 81.78,16.4 81.80,21.2 81.82,23.7 81.83,26.4 81.85,19.1 81.86,23.0 81.88,38.4 81.90,7.6 81.91,25.7 81.93,30.5 81.95,19.8 81.96,19.8 81.98,20.6 81.99,21.1 82.01,32.0 82.03,20.8 82.04,19.5 82.06,11.7 82.08,22.2 82.09,26.2 82.11,27.6 82.13,21.1 82.14,18.6 82.16,22.5 82.17,17.3 82.19,23.0 82.21,22.3 82.22,14.8 82.24,30.3 82.26,19.6 82.27,14.1 82.29,29.9 82.30,21.5 82.32,29.6 82.34,27.7 82.35,18.3 82.37,17.0 82.39,16.0 82.40,29.3 82.42,22.5 82.43,17.6 82.45,26.2 82.47,21.5 82.48,32.5 82.50,30.4 82.52,26.0 82.53,27.9 82.55,23.6 82.56,24.0 82.58,15.8 82.60,31.8 82.61,10.4 82.63,30.2 82.65,17.6 82.66,23.4 82.68,23.7 82.69,8.5 82.71,20.5 82.73,20.8 82.74,19.1 82.76,31.4 82.78,23.5 82.79,24.9 82.81,28.0 82.82,24.3 82.84,32.9 82.86,30.9 82.87,24.5 82.89,21.4 82.91,30.7 82.92,25.1 82.94,29.1 82.95,21.0 82.97,16.7 82.99,32.9 83.00,27.4 83.02,11.6 83.04,25.7 83.05,24.3 83.07,32.1 83.08,33.0 83.10,12.8 83.12,11.0 83.13,20.1 83.15,25.8 83.17,28.1 83.18,28.7 83.20,13.4 83.21,31.5 83.23,20.1 83.25,13.5 83.26,18.8 83.28,16.5 83.30,26.4 83.31,20.0 83.33,16.5 83.34,27.6 83.36,14.2 83.38,22.2 83.39,25.7 83.41,21.0 83.43,27.4 83.44,24.3 83.46,28.7 83.47,23.4 83.49,26.5 83.51,20.6 83.52,21.7 83.54,19.7 83.56,23.6 83.57,17.0 83.59,28.4 83.60,25.2 83.62,24.1 83.64,21.2 83.65,19.0 83.67,18.6 83.69,11.8 83.70,23.6 83.72,33.0 83.73,22.1 83.75,28.8 83.77,25.1 83.78,21.5 83.80,12.0 83.82,25.2 83.83,39.6 83.85,18.5 83.86,24.9 83.88,25.5 83.90,25.6 83.91,23.5 83.93,36.0 83.95,22.2 83.96,25.2 83.98,24.1 83.99,30.8 84.01,27.1 84.03,19.4 84.04,16.1 84.06,26.7 84.08,18.7 84.09,26.0 84.11,28.4 84.12,24.7 84.14,27.2 84.16,19.7 84.17,11.8 84.19,13.3 84.21,15.6 84.22,27.9 84.24,27.7 84.25,17.9 84.27,22.5 84.29,26.5 84.30,14.5 84.32,32.0 84.34,23.5 84.35,17.8 84.37,26.9 84.38,26.3 84.40,42.9 84.42,27.2 84.43,23.9 84.45,21.0 84.47,28.8 84.48,23.3 84.50,22.6 84.51,28.5 84.53,15.7 84.55,25.4 84.56,22.7 84.58,27.5 84.60,30.0 84.61,34.2 84.63,33.6 84.64,23.8 84.66,32.0 84.68,24.8 84.69,23.2 84.71,23.9 84.73,38.7 84.74,33.4 84.76,14.3 84.77,28.5 84.79,31.1 84.81,26.6 84.82,26.9 84.84,26.5 84.86,23.6 84.87,15.8 84.89,18.8 84.90,17.3 84.92,23.8 84.94,21.5 84.95,18.5 84.97,25.0 84.99,4.8 85.00,28.3 85.02,20.8 85.03,31.1 85.05,17.0 85.07,21.7 85.08,20.2 85.10,23.0 85.12,25.8 85.13,19.2 85.15,21.3 85.16,26.9 85.18,29.8 85.20,19.6 85.21,22.5 85.23,22.7 85.25,25.0 85.26,19.2 85.28,20.0 85.29,17.3 85.31,18.7 85.33,19.1 85.34,31.9 85.36,38.6 85.38,22.4 85.39,18.7 85.41,26.3 85.42,26.1 85.44,27.1 85.46,20.3 85.47,20.0 85.49,12.5 85.51,15.4 85.52,15.9 85.54,17.8 85.55,28.0 85.57,22.8 85.59,14.8 85.60,41.6 85.62,15.9 85.64,23.9 85.65,20.4 85.67,38.9 85.68,34.0 85.70,15.4 85.72,13.7 85.73,32.4 85.75,30.6 85.77,27.2 85.78,20.6 85.80,32.5 85.81,27.1 85.83,37.8 85.85,38.3 85.86,30.8 85.88,33.9 85.90,24.4 85.91,36.2 85.93,30.1 85.94,28.6 85.96,28.7 85.98,23.0 85.99,24.4 86.01,24.3 86.03,2.9 86.04,14.5 86.06,32.0 86.07,23.1 86.09,33.7 86.11,15.4 86.12,25.2 86.14,19.4 86.16,28.3 86.17,22.2 86.19,36.6 86.20,28.6 86.22,25.3 86.24,17.0 86.25,18.0 86.27,17.9 86.29,18.5 86.30,14.0 86.32,20.1 86.33,19.8 86.35,17.9 86.37,26.6 86.38,20.7 86.40,22.9 86.42,24.1 86.43,18.6 86.45,15.9 86.46,16.7 86.48,24.1 86.50,31.4 86.51,26.9 86.53,22.0 86.55,29.4 86.56,23.0 86.58,17.7 86.59,29.0 86.61,14.3 86.63,24.5 86.64,36.6 86.66,20.3 86.68,9.3 86.69,27.8 86.71,31.3 86.72,28.9 86.74,31.7 86.76,22.5 86.77,26.2 86.79,29.6 86.81,23.1 86.82,21.8 86.84,27.1 86.85,21.9 86.87,16.8 86.89,24.3 86.90,42.5 86.92,21.2 86.94,13.4 86.95,24.4 86.97,26.0 86.98,22.8 87.00,35.0 87.02,25.8 87.03,26.2 87.05,22.5 87.07,16.1 87.08,17.6 87.10,26.8 87.11,22.8 87.13,25.9 87.15,33.0 87.16,18.0 87.18,33.0 87.20,13.6 87.21,9.0 87.23,29.2 87.24,24.6 87.26,15.7 87.28,29.7 87.29,35.6 87.31,22.0 87.33,26.3 87.34,19.8 87.36,23.7 87.37,22.5 87.39,22.0 87.41,60.7 87.42,30.3 87.44,19.2 87.46,7.4 87.47,22.9 87.49,14.0 87.50,48.0 87.52,24.8 87.54,35.5 87.55,18.8 87.57,17.0 87.59,27.1 87.60,23.7 87.62,35.9 87.63,29.7 87.65,34.3 87.67,32.3 87.68,26.6 87.70,31.8 87.72,23.3 87.73,19.3 87.75,24.4 87.76,23.5 87.78,13.5 87.80,26.2 87.81,24.8 87.83,13.5 87.85,34.5 87.86,22.5 87.88,11.7 87.89,16.2 87.91,21.3 87.93,27.5 87.94,26.1 87.96,19.6 87.98,25.6 87.99,16.3 88.01,32.5 88.02,26.7 88.04,16.4 88.06,17.2 88.07,32.6 88.09,18.2 88.11,16.9 88.12,37.3 88.14,17.0 88.15,8.9 88.17,20.3 88.19,13.4 88.20,33.9 88.22,12.3 88.24,20.9 88.25,36.0 88.27,18.3 88.28,23.1 88.30,27.0 88.32,19.9 88.33,23.5 88.35,23.4 88.37,17.7 88.38,15.0 88.40,14.9 88.41,23.8 88.43,28.9 88.45,26.6 88.46,23.9 88.48,33.3 88.50,39.4 88.51,23.4 88.53,39.3 88.55,16.1 88.56,37.8 88.58,29.7 88.59,27.9 88.61,26.3 88.63,28.0 88.64,23.6 88.66,26.1 88.68,25.9 88.69,18.0 88.71,22.4 88.72,23.0 88.74,24.8 88.76,20.9 88.77,29.8 88.79,41.5 88.81,20.6 88.82,22.6 88.84,24.6 88.85,21.5 88.87,24.0 88.89,61.7 88.90,41.6 88.92,26.4 88.94,24.6 88.95,15.2 88.97,24.5 88.98,30.0 89.00,19.6 89.02,20.0 89.03,19.8 89.05,22.3 89.07,29.7 89.08,20.0 89.10,24.9 89.11,27.5 89.13,22.8 89.15,25.9 89.16,16.9 89.18,17.5 89.20,26.7 89.21,34.7 89.23,17.7 89.24,18.2 89.26,18.8 89.28,31.0 89.29,26.3 89.31,20.0 89.33,14.5 89.34,34.2 89.36,35.8 89.37,26.2 89.39,19.5 89.41,27.1 89.42,22.1 89.44,11.7 89.46,17.0 89.47,24.6 89.49,26.7 89.50,24.6 89.52,22.4 89.54,20.5 89.55,25.8 89.57,20.1 89.59,20.2 89.60,26.7 89.62,28.3 89.63,19.5 89.65,25.3 89.67,19.7 89.68,13.6 89.70,16.5 89.72,22.5 89.73,20.1 89.75,24.8 89.76,27.2 89.78,27.9 89.80,30.2 89.81,24.3 89.83,22.7 89.85,24.3 89.86,37.1 89.88,25.4 89.89,24.4 89.91,32.1 89.93,26.3 89.94,25.4 89.96,8.1 89.98,6.5 89.99,29.8 90.01,23.0 90.02,23.1 90.04,16.3 90.06,15.9 90.07,23.8 90.09,17.0 90.11,16.5 90.12,36.4 90.14,36.0 90.15,21.6 90.17,15.0 90.19,26.9 90.20,21.8 90.22,27.6 90.24,20.6 90.25,33.7 90.27,9.3 90.28,12.3 90.30,26.2 90.32,21.9 90.33,33.2 90.35,19.8 90.37,28.0 90.38,9.1 90.40,27.9 90.41,25.2 90.43,28.6 90.45,25.2 90.46,24.9 90.48,24.6 90.50,31.6 90.51,29.5 90.53,24.3 90.54,25.1 90.56,20.7 90.58,22.3 90.59,16.9 90.61,25.0 90.63,32.7 90.64,32.6 90.66,22.9 90.67,17.5 90.69,16.7 90.71,27.5 90.72,28.2 90.74,9.0 90.76,15.5 90.77,31.8 90.79,32.7 90.80,22.4 90.82,20.6 90.84,17.9 90.85,23.4 90.87,19.9 90.89,30.4 90.90,24.4 90.92,24.8 90.93,24.0 90.95,14.5 90.97,13.8 90.98,19.9 91.00,27.2 91.02,26.8 91.03,26.1 91.05,29.7 91.06,26.0 91.08,21.8 91.10,19.1 91.11,26.2 91.13,34.3 91.15,22.2 91.16,23.8 91.18,28.9 91.19,21.9 91.21,30.0 91.23,19.5 91.24,21.9 91.26,16.7 91.28,33.2 91.29,22.1 91.31,25.6 91.32,22.2 91.34,17.1 91.36,29.6 91.37,17.7 91.39,33.2 91.41,30.4 91.42,15.4 91.44,22.7 91.45,22.3 91.47,14.0 91.49,33.3 91.50,32.3 91.52,18.7 91.54,20.8 91.55,35.8 91.57,14.0 91.58,32.1 91.60,24.2 91.62,17.9 91.63,20.1 91.65,32.8 91.67,21.2 91.68,19.4 91.70,21.4 91.71,17.2 91.73,11.7 91.75,14.5 91.76,34.0 91.78,29.6 91.80,21.3 91.81,20.3 91.83,27.9 91.84,28.8 91.86,25.3 91.88,26.8 91.89,19.7 91.91,41.4 91.93,14.7 91.94,36.2 91.96,20.1 91.97,34.2 91.99,21.6 92.01,24.5 92.02,19.8 92.04,14.8 92.06,35.2 92.07,32.3 92.09,13.7 92.10,25.7 92.12,17.7 92.14,31.7 92.15,19.8 92.17,25.5 92.19,31.6 92.20,42.0 92.22,36.3 92.23,16.2 92.25,30.3 92.27,34.1 92.28,21.7 92.30,29.7 92.32,24.8 92.33,30.6 92.35,20.8 92.36,4.2 92.38,28.0 92.40,27.4 92.41,16.4 92.43,28.5 92.45,25.2 92.46,13.6 92.48,23.8 92.49,25.5 92.51,27.6 92.53,35.9 92.54,27.2 92.56,24.9 92.58,25.4 92.59,22.0 92.61,24.1 92.62,29.2 92.64,23.0 92.66,26.7 92.67,22.8 92.69,33.6 92.71,28.9 92.72,23.4 92.74,18.1 92.75,26.9 92.77,36.4 92.79,25.8 92.80,16.7 92.82,54.2 92.84,17.7 92.85,34.3 92.87,19.0 92.88,21.3 92.90,26.9 92.92,14.8 92.93,23.9 92.95,15.1 92.97,34.4 92.98,22.3 93.00,27.0 93.01,21.7 93.03,5.8 93.05,29.3 93.06,34.9 93.08,18.1 93.10,30.0 93.11,30.0 93.13,29.1 93.14,13.7 93.16,20.4 93.18,32.9 93.19,23.5 93.21,17.5 93.23,26.7 93.24,25.5 93.26,16.8 93.27,22.4 93.29,26.3 93.31,14.2 93.32,15.4 93.34,28.8 93.36,31.7 93.37,15.2 93.39,29.0 93.40,27.0 93.42,29.8 93.44,27.0 93.45,20.4 93.47,13.3 93.49,26.7 93.50,31.5 93.52,22.6 93.53,21.3 93.55,28.4 93.57,16.3 93.58,24.2 93.60,34.4 93.62,29.5 93.63,24.8 93.65,29.1 93.66,18.8 93.68,17.9 93.70,8.4 93.71,37.4 93.73,25.5 93.75,25.2 93.76,11.0 93.78,18.5 93.79,28.2 93.81,24.4 93.83,28.7 93.84,27.2 93.86,25.6 93.88,26.9 93.89,17.4 93.91,21.6 93.92,39.1 93.94,25.2 93.96,21.6 93.97,24.1 93.99,20.9 94.01,29.3 94.02,15.8 94.04,22.3 94.05,27.4 94.07,23.8 94.09,30.2 94.10,45.0 94.12,39.4 94.14,27.1 94.15,16.2 94.17,24.6 94.18,29.3 94.20,30.4 94.22,29.3 94.23,23.8 94.25,24.1 94.27,28.9 94.28,17.9 94.30,24.8 94.31,19.3 94.33,19.1 94.35,33.3 94.36,19.5 94.38,26.0 94.40,20.1 94.41,30.2 94.43,34.8 94.44,30.5 94.46,24.9 94.48,29.8 94.49,25.4 94.51,31.4 94.53,27.4 94.54,25.1 94.56,30.7 94.57,19.6 94.59,24.2 94.61,51.7 94.62,36.4 94.64,25.7 94.66,27.1 94.67,26.6 94.69,15.8 94.70,24.5 94.72,33.7 94.74,23.0 94.75,27.1 94.77,32.2 94.79,31.9 94.80,21.9 94.82,22.6 94.83,27.8 94.85,25.7 94.87,31.6 94.88,25.8 94.90,30.5 94.92,15.6 94.93,24.7 94.95,33.2 94.96,28.2 94.98,18.7 95.00,27.1 95.01,18.9 95.03,22.6 95.05,33.8 95.06,20.6 95.08,22.2 95.10,16.3 95.11,18.0 95.13,19.4 95.14,14.7 95.16,14.8 95.18,17.4 95.19,19.5 95.21,33.8 95.23,21.5 95.24,18.9 95.26,38.5 95.27,26.4 95.29,17.0 95.31,27.6 95.32,25.9 95.34,17.0 95.36,19.1 95.37,42.4 95.39,27.5 95.40,10.1 95.42,18.1 95.44,28.5 95.45,21.7 95.47,27.3 95.49,10.7 95.50,34.2 95.52,19.4 95.53,27.3 95.55,27.8 95.57,22.6 95.58,23.9 95.60,20.2 95.62,31.4 95.63,25.7 95.65,14.2 95.66,31.0 95.68,35.9 95.70,19.2 95.71,28.7 95.73,32.2 95.75,21.8 95.76,14.3 95.78,20.8 95.79,19.3 95.81,11.2 95.83,28.4 95.84,17.2 95.86,27.5 95.88,20.7 95.89,34.1 95.91,26.8 95.92,23.9 95.94,20.9 95.96,22.0 95.97,22.2 95.99,29.1 96.01,27.4 96.02,24.1 96.04,22.1 96.05,20.9 96.07,30.7 96.09,25.8 96.10,12.8 96.12,23.8 96.14,16.1 96.15,27.5 96.17,35.6 96.18,21.0 96.20,19.8 96.22,14.6 96.23,29.9 96.25,22.9 96.27,18.4 96.28,16.5 96.30,30.0 96.31,15.4 96.33,12.2 96.35,17.0 96.36,21.8 96.38,23.1 96.40,26.2 96.41,20.4 96.43,24.8 96.44,22.1 96.46,24.3 96.48,17.1 96.49,31.4 96.51,29.7 96.53,26.1 96.54,26.4 96.56,26.2 96.57,19.4 96.59,15.6 96.61,40.8 96.62,20.4 96.64,31.5 96.66,32.8 96.67,13.6 96.69,27.2 96.70,27.4 96.72,26.7 96.74,45.5 96.75,22.1 96.77,20.8 96.79,22.9 96.80,25.8 96.82,24.6 96.83,31.7 96.85,25.9 96.87,22.3 96.88,27.9 96.90,23.3 96.92,25.1 96.93,28.5 96.95,20.8 96.96,17.9 96.98,21.6 97.00,40.2 97.01,20.2 97.03,22.9 97.05,25.6 97.06,21.4 97.08,31.6 97.09,23.7 97.11,27.6 97.13,27.5 97.14,25.9 97.16,24.0 97.18,20.3 97.19,33.3 97.21,25.8 97.22,19.2 97.24,25.7 97.26,21.1 97.27,23.7 97.29,33.2 97.31,24.8 97.32,26.6 97.34,21.6 97.35,21.7 97.37,22.3 97.39,32.7 97.40,26.7 97.42,30.0 97.44,20.4 97.45,27.3 97.47,27.8 97.48,22.2 97.50,26.6 97.52,33.5 97.53,22.9 97.55,26.2 97.57,15.1 97.58,24.9 97.60,20.9 97.61,28.4 97.63,23.5 97.65,21.6 97.66,30.1 97.68,13.5 97.70,20.6 97.71,22.1 97.73,19.4 97.74,24.8 97.76,26.5 97.78,17.4 97.79,19.8 97.81,23.1 97.83,27.6 97.84,25.4 97.86,27.1 97.87,14.8 97.89,24.1 97.91,20.8 97.92,36.8 97.94,39.8 97.96,24.0 97.97,31.0 97.99,16.5 98.00,28.7 98.02,20.3 98.04,21.5 98.05,31.0 98.07,16.7 98.09,16.2 98.10,14.1 98.12,27.6 98.13,26.0 98.15,28.3 98.17,19.5 98.18,22.7 98.20,26.8 98.22,18.2 98.23,33.8 98.25,32.6 98.26,21.9 98.28,25.0 98.30,23.2 98.31,23.3 98.33,29.2 98.35,23.6 98.36,32.5 98.38,25.4 98.39,18.6 98.41,28.0 98.43,26.4 98.44,24.1 98.46,29.9 98.48,25.4 98.49,22.2 98.51,25.5 98.52,16.6 98.54,21.0 98.56,24.3 98.57,31.9 98.59,22.1 98.61,19.9 98.62,23.8 98.64,23.5 98.65,25.5 98.67,29.3 98.69,23.2 98.70,23.6 98.72,31.1 98.74,24.4 98.75,13.4 98.77,20.8 98.78,20.7 98.80,26.5 98.82,32.2 98.83,14.9 98.85,35.8 98.87,21.6 98.88,20.4 98.90,27.4 98.91,24.7 98.93,26.0 98.95,20.8 98.96,25.6 98.98,28.2 99.00,19.9 99.01,29.2 99.03,23.8 99.04,21.7 99.06,26.3 99.08,18.4 99.09,29.0 99.11,15.7 99.13,32.2 99.14,17.8 99.16,25.0 99.17,17.8 99.19,33.8 99.21,30.0 99.22,10.0 99.24,27.0 99.26,25.8 99.27,26.9 99.29,25.0 99.30,38.0 99.32,26.9 99.34,13.6 99.35,24.4 99.37,31.8 99.39,17.4 99.40,11.5 99.42,21.9 99.43,20.0 99.45,9.8 99.47,21.9 99.48,27.6 99.50,31.2 99.52,22.2 99.53,21.5 99.55,28.9 99.56,31.9 99.58,22.9 99.60,16.9 99.61,36.4 99.63,20.5 99.65,28.0 99.66,19.4 99.68,20.7 99.69,21.0 99.71,33.8 99.73,20.3 99.74,19.3 99.76,20.5 99.78,21.2 99.79,18.6 99.81,29.1 99.82,20.5 99.84,19.1 99.86,21.1 99.87,27.2 99.89,25.7 99.91,27.7 99.92,31.3 99.94,14.9 99.95,27.6 99.97,28.5 99.99,13.4 100.00,22.4 100.02,15.5 100.04,25.5 100.05,19.8 100.07,13.9 100.08,24.2 100.10,22.5 100.12,25.3 100.13,14.3 100.15,19.1 100.17,14.9 100.18,48.3 100.20,6.6 100.21,13.4 100.23,36.9 100.25,27.1 100.26,16.2 100.28,23.7 100.30,38.1 100.31,24.0 100.33,25.2 100.34,34.7 100.36,32.3 100.38,29.2 100.39,20.1 100.41,32.6 100.43,41.5 100.44,25.6 100.46,16.5 100.47,42.3 100.49,31.9 100.51,30.8 100.52,23.8 100.54,26.4 100.56,27.8 100.57,28.1 100.59,27.2 100.60,25.0 100.62,16.1 100.64,27.2 100.65,26.5 100.67,25.2 100.69,23.9 100.70,18.8 100.72,31.1 100.73,27.4 100.75,30.5 100.77,15.8 100.78,8.2 100.80,12.6 100.82,17.0 100.83,14.8 100.85,23.4 100.86,21.6 100.88,21.6 100.90,18.6 100.91,28.1 100.93,28.7 100.95,18.2 100.96,25.0 100.98,21.9 100.99,53.0 101.01,17.6 101.03,27.7 101.04,54.1 101.06,25.1 101.08,22.9 101.09,19.7 101.11,19.9 101.12,12.7 101.14,26.4 101.16,29.8 101.17,25.8 101.19,24.6 101.21,28.3 101.22,17.0 101.24,16.5 101.25,23.3 101.27,19.2 101.29,19.9 101.30,21.6 101.32,9.7 101.34,21.3 101.35,27.6 101.37,20.1 101.38,28.6 101.40,25.1 101.42,19.5 101.43,17.2 101.45,21.1 101.47,29.1 101.48,18.3 101.50,29.1 101.52,22.1 101.53,31.0 101.55,19.7 101.56,15.5 101.58,22.1 101.60,23.5 101.61,29.8 101.63,28.8 101.65,18.7 101.66,25.0 101.68,28.9 101.69,32.5 101.71,26.6 101.73,12.4 101.74,15.4 101.76,32.5 101.78,21.7 101.79,18.2 101.81,24.2 101.82,27.1 101.84,29.6 101.86,25.8 101.87,22.4 101.89,29.2 101.91,32.7 101.92,10.6 101.94,32.6 101.95,22.7 101.97,4.6 101.99,27.1 102.00,18.9 102.02,25.8 102.04,17.3 102.05,27.4 102.07,23.9 102.08,18.3 102.10,31.4 102.12,19.1 102.13,35.8 102.15,39.4 102.17,37.2 102.18,17.1 102.20,26.5 102.21,27.7 102.23,33.2 102.25,14.0 102.26,23.7 102.28,25.5 102.30,20.1 102.31,18.2 102.33,30.1 102.34,28.5 102.36,12.9 102.38,28.3 102.39,18.3 102.41,22.6 102.43,17.5 102.44,34.3 102.46,32.8 102.47,19.3 102.49,25.3 102.51,34.2 102.52,26.5 102.54,15.7 102.56,26.1 102.57,17.4 102.59,23.3 102.60,33.2 102.62,27.0 102.64,26.6 102.65,28.9 102.67,22.8 102.69,22.0 102.70,26.3 102.72,17.8 102.73,25.9 102.75,16.5 102.77,38.9 102.78,21.1 102.80,24.1 102.82,18.1 102.83,34.3 102.85,24.4 102.86,13.5 102.88,21.9 102.90,14.1 102.91,15.1 102.93,24.9 102.95,41.2 102.96,32.3 102.98,21.4 102.99,30.5 103.01,23.7 103.03,26.4 103.04,21.8 103.06,19.7 103.08,14.2 103.09,20.4 103.11,27.0 103.12,22.3 103.14,27.3 103.16,18.1 103.17,25.8 103.19,29.7 103.21,21.6 103.22,28.9 103.24,18.9 103.25,15.8 103.27,27.1 103.29,23.4 103.30,30.6 103.32,20.8 103.34,15.3 103.35,15.0 103.37,31.7 103.38,14.8 103.40,25.7 103.42,32.0 103.43,16.3 103.45,27.8 103.47,12.8 103.48,24.8 103.50,26.1 103.51,24.4 103.53,27.9 103.55,27.9 103.56,27.8 103.58,20.4 103.60,24.6 103.61,21.8 103.63,25.9 103.64,20.6 103.66,26.1 103.68,13.8 103.69,26.8 103.71,13.7 103.73,23.2 103.74,23.3 103.76,25.2 103.77,27.8 103.79,16.7 103.81,12.1 103.82,19.6 103.84,19.2 103.86,32.4 103.87,36.0 103.89,28.4 103.90,30.4 103.92,37.3 103.94,45.2 103.95,13.0 103.97,37.8 103.99,18.3 104.00,25.9 104.02,27.5 104.03,17.1 104.05,27.2 104.07,27.9 104.08,16.4 104.10,13.8 104.12,16.4 104.13,26.3 104.15,21.7 104.16,29.9 104.18,24.3 104.20,23.2 104.21,22.9 104.23,18.4 104.25,36.6 104.26,21.2 104.28,17.3 104.29,30.2 104.31,23.6 104.33,31.7 104.34,32.4 104.36,27.3 104.38,19.1 104.39,26.3 104.41,24.5 104.42,17.3 104.44,22.4 104.46,20.5 104.47,12.0 104.49,39.8 104.51,26.2 104.52,12.0 104.54,15.2 104.55,26.7 104.57,27.1 104.59,31.3 104.60,20.0 104.62,34.9 104.64,19.3 104.65,20.0 104.67,27.6 104.68,22.7 104.70,33.3 104.72,18.2 104.73,18.3 104.75,27.7 104.77,28.2 104.78,24.4 104.80,20.3 104.81,10.6 104.83,30.1 104.85,30.6 104.86,23.0 104.88,27.0 104.90,22.7 104.91,24.0 104.93,14.8 104.94,20.5 104.96,23.3 104.98,26.1 104.99,13.6 105.01,23.6 105.03,15.8 105.04,26.9 105.06,16.7 105.07,32.1 105.09,27.6 105.11,23.7 105.12,25.4 105.14,13.9 105.16,28.6 105.17,24.8 105.19,15.0 105.20,25.5 105.22,24.5 105.24,34.6 105.25,27.7 105.27,30.7 105.29,25.4 105.30,29.7 105.32,25.4 105.33,15.7 105.35,23.0 105.37,24.7 105.38,21.5 105.40,25.5 105.42,21.2 105.43,24.9 105.45,35.8 105.46,19.8 105.48,37.1 105.50,21.8 105.51,29.0 105.53,27.9 105.55,25.3 105.56,26.5 105.58,24.6 105.59,25.0 105.61,19.5 105.63,20.4 105.64,32.9 105.66,29.5 105.68,28.5 105.69,7.1 105.71,25.7 105.72,21.9 105.74,25.1 105.76,23.6 105.77,22.7 105.79,36.3 105.81,16.4 105.82,5.0 105.84,22.9 105.85,29.8 105.87,27.2 105.89,20.2 105.90,19.7 105.92,28.5 105.94,30.6 105.95,15.5 105.97,23.2 105.98,17.1 106.00,20.2 106.02,23.5 106.03,18.1 106.05,22.6 106.07,17.8 106.08,38.7 106.10,50.4 106.11,21.7 106.13,39.3 106.15,17.2 106.16,31.4 106.18,13.6 106.20,19.6 106.21,25.4 106.23,22.7 106.24,29.3 106.26,38.7 106.28,20.9 106.29,39.6 106.31,30.5 106.33,30.3 106.34,35.2 106.36,27.2 106.37,17.2 106.39,27.5 106.41,35.7 106.42,19.9 106.44,23.2 106.46,36.2 106.47,27.2 106.49,18.1 106.50,31.3 106.52,20.9 106.54,30.0 106.55,23.7 106.57,31.3 106.59,27.6 106.60,38.9 106.62,25.1 106.63,14.2 106.65,25.9 106.67,34.2 106.68,18.5 106.70,33.2 106.72,14.1 106.73,17.5 106.75,20.1 106.76,26.2 106.78,26.5 106.80,5.8 106.81,30.3 106.83,17.6 106.85,30.7 106.86,26.2 106.88,30.4 106.89,26.5 106.91,29.2 106.93,22.6 106.94,25.4 106.96,7.4 106.98,23.1 106.99,32.8 107.01,19.4 107.02,28.4 107.04,30.2 107.06,17.4 107.07,30.0 107.09,13.2 107.11,23.8 107.12,25.4 107.14,13.8 107.15,24.2 107.17,32.0 107.19,20.4 107.20,30.0 107.22,26.4 107.24,33.0 107.25,30.7 107.27,24.8 107.28,32.4 107.30,11.0 107.32,22.9 107.33,25.3 107.35,23.3 107.37,29.9 107.38,29.6 107.40,23.6 107.41,25.5 107.43,25.8 107.45,21.3 107.46,16.7 107.48,20.7 107.50,19.9 107.51,21.2 107.53,22.4 107.54,17.8 107.56,9.8 107.58,23.7 107.59,24.5 107.61,21.8 107.63,25.4 107.64,25.4 107.66,41.9 107.67,15.7 107.69,30.9 107.71,18.8 107.72,36.3 107.74,28.8 107.76,20.5 107.77,17.5 107.79,19.6 107.80,18.8 107.82,30.3 107.84,25.1 107.85,27.5 107.87,12.6 107.89,14.3 107.90,20.6 107.92,24.2 107.93,36.0 107.95,29.3 107.97,10.7 107.98,23.7 108.00,15.6" fill="none" stroke="#666" stroke-width="0.3"/>
<polygon points="122.2,64.6 122.26,47.89 122.31,41.25 122.37,36.38 122.42,32.44 122.48,29.13 122.53,26.27 122.59,23.77 122.64,21.55 122.7,19.57 122.76,17.8 122.81,16.21 122.87,14.77 122.92,13.46 122.98,12.28 123.03,11.22 123.09,10.25 123.14,9.37 123.2,8.58 123.26,7.87 123.31,7.23 123.37,6.65 123.42,6.14 123.48,5.68 123.53,5.28 123.59,4.92 123.64,4.62 123.7,4.35 123.76,4.13 123.81,3.94 123.87,3.79 123.92,3.68 123.98,3.6 124.03,3.54 124.09,3.52 124.14,3.52 124.2,3.55 124.26,3.6 124.31,3.67 124.37,3.76 124.42,3.87 124.48,4.01 124.53,4.16 124.59,4.32 124.64,4.5 124.7,4.7 124.76,4.91 124.81,5.14 124.87,5.37 124.92,5.62 124.98,5.88 125.03,6.15 125.09,6.43 125.14,6.72 125.2,7.01 125.26,7.32 125.31,7.63 125.37,7.95 125.42,8.28 125.48,8.61 125.53,8.95 125.81,10.71 126.09,12.56 126.37,14.47 126.64,16.41 126.92,18.35 127.2,20.28 127.48,22.19 127.76,24.06 128.03,25.88 128.31,27.65 128.59,29.37 128.87,31.02 129.15,32.62 129.42,34.15 129.7,35.62 129.98,37.02 130.26,38.36 130.53,39.64 130.81,40.86 131.09,42.02 131.37,43.12 131.65,44.17 131.92,45.16 132.2,46.1 132.48,46.98 132.76,47.83 133.03,48.62 133.31,49.37 133.59,50.08 133.87,50.76 134.15,51.39 134.42,51.99 134.7,52.55 134.98,53.08 135.26,53.58 135.53,54.05 135.81,54.5 136.09,54.92 136.37,55.31 136.65,55.69 136.92,56.04 137.2,56.37 137.48,56.68 137.76,56.98 138.03,57.25 138.31,57.51 138.59,57.76 138.87,58 139.15,58.22 139.42,58.42 139.7,58.62 139.98,58.81 140.26,58.98 140.53,59.15 140.81,59.31 141.09,59.46 141.37,59.6 141.65,59.74 141.92,59.87 142.2,59.99 142.48,60.11 142.76,60.22 143.03,60.33 143.31,60.43 143.59,60.53 143.87,60.62 144.15,60.71 144.42,60.8 144.7,60.88 144.98,60.96 145.26,61.04 145.54,61.11 145.81,61.19 146.09,61.26 146.37,61.33 146.65,61.39 146.92,61.46 147.2,61.52 147.48,61.58 147.76,61.64 148.04,61.7 148.31,61.76 148.59,61.82 148.87,61.87 149.15,61.92 149.42,61.98 149.7,62.03 149.98,62.08 150.26,62.13 150.54,62.18 150.81,62.23 151.09,62.28 151.37,62.32 151.65,62.37 151.92,62.42 152.2,62.46 152.48,62.51 152.76,62.55 153.04,62.59 153.31,62.64 153.59,62.68 153.87,62.72 154.15,62.76 154.42,62.8 154.7,62.84 154.98,62.88 155.26,62.92 155.54,62.96 155.81,63 156.09,63.04 156.37,63.07 156.65,63.11 156.93,63.15 157.2,63.18 157.48,63.22 157.76,63.25 158.04,63.28 158.31,63.32 158.59,63.35 158.87,63.38 159.15,63.42 159.43,63.45 159.7,63.48 159.98,63.51 160.26,63.54 160.54,63.57 160.81,63.6 161.09,63.62 161.37,63.65 161.65,63.68 161.93,63.71 162.2,63.73 162.48,63.76 162.76,63.78 163.04,63.81 163.31,63.83 163.59,63.85 163.87,63.88 164.15,63.9 164.43,63.92 164.7,63.94 164.98,63.97 165.26,63.99 165.54,64.01 165.81,64.03 166.09,64.04 166.37,64.06 166.65,64.08 166.93,64.1 167.2,64.12 167.48,64.13 167.76,64.15 168.04,64.17 168.31,64.18 168.59,64.2 168.87,64.21 169.15,64.22 169.43,64.24 169.7,64.25 169.98,64.26 170.26,64.28 170.54,64.29 170.81,64.3 171.09,64.31 171.37,64.32 171.65,64.34 171.93,64.35 172.2,64.36 172.48,64.37 172.76,64.37 173.04,64.38 173.32,64.39 173.59,64.4 173.87,64.41 174.15,64.42 174.43,64.43 174.7,64.43 174.98,64.44 175.26,64.45 175.54,64.45 175.82,64.46 176.09,64.47 176.37,64.47 176.65,64.48 176.93,64.48 177.2,64.49 177.48,64.49 177.76,64.5 178.04,64.5 178.32,64.51 178.59,64.51 178.87,64.52 179.15,64.52 179.43,64.52 179.7,64.53 179.98,64.53 180.26,64.53 180.54,64.54 180.82,64.54 181.09,64.54 181.37,64.55 181.65,64.55 181.93,64.55 182.2,64.55 182.48,64.56 182.76,64.56 183.04,64.56 183.32,64.56 183.59,64.56 183.87,64.57 184.15,64.57 184.43,64.57 184.7,64.57 184.98,64.57 185.26,64.57 185.54,64.58 185.82,64.58 186.09,64.58 186.37,64.58 186.65,64.58 186.93,64.58 187.21,64.58 187.48,64.58 187.76,64.58 188.04,64.59 188.32,64.59 188.59,64.59 188.87,64.59 189.15,64.59 189.43,64.59 189.71,64.59 189.98,64.59 190.26,64.59 190.54,64.59 190.82,64.59 191.09,64.59 191.37,64.59 191.65,64.59 191.93,64.59 192.21,64.59 192.48,64.59 192.76,64.59 193.04,64.6 193.32,64.6 193.59,64.6 193.87,64.6 194.15,64.6 194.43,64.6 194.71,64.6 194.98,64.6 195.26,64.6 195.54,64.6 195.82,64.6 196.09,64.6 196.37,64.6 196.65,64.6 196.93,64.6 197.21,64.6 197.48,64.6 197.76,64.6 198.04,64.6 198.32,64.6 198.59,64.6 198.87,64.6 199.15,64.6 199.43,64.6 199.71,64.6 199.98,64.6 200.26,64.6 200.54,64.6 200.82,64.6 201.1,64.6 201.37,64.6 201.65,64.6 201.93,64.6 202.21,64.6 202.48,64.6 202.76,64.6 203.04,64.6 203.32,64.6 203.6,64.6 203.87,64.6 204.15,64.6 204.43,64.6 204.71,64.6 204.98,64.6 205.26,64.6 205.54,64.6 205.82,64.6 206.1,64.6 206.37,64.6 206.65,64.6 206.93,64.6 207.21,64.6 207.48,64.6 207.76,64.6 208.04,64.6 208.32,64.6 208.6,64.6 208.87,64.6 209.15,64.6 209.43,64.6 209.71,64.6 209.98,64.6 210.26,64.6 210.54,64.6 210.82,64.6 211.1,64.6 211.37,64.6 211.65,64.6 211.93,64.6 212.21,64.6 212.49,64.6 212.76,64.6 213.04,64.6 213.32,64.6 213.6,64.6 213.87,64.6 214.15,64.6 214.43,64.6 214.71,64.6 214.99,64.6 215.26,64.6 215.54,64.6 215.82,64.6 216.1,64.6 216.37,64.6 216.65,64.6 216.93,64.6 217.21,64.6 217.49,64.6 217.76,64.6 218.04,64.6 218.32,64.6 218.6,64.6 218.87,64.6 219.15,64.6 219.43,64.6 219.71,64.6 219.99,64.6 220.26,64.6 220.54,64.6 220.82,64.6 221.1,64.6 221.37,64.6 221.65,64.6 221.93,64.6 222.21,64.6 222.49,64.6 222.76,64.6 223.04,64.6 223.32,64.6 223.6,64.6 223.87,64.6 224.15,64.6 224.43,64.6 224.71,64.6 224.99,64.6 225.26,64.6 225.54,64.6 225.82,64.6 226.1,64.6 226.38,64.6 226.65,64.6 226.93,64.6 227.21,64.6 227.49,64.6 227.76,64.6 228.04,64.6 228.32,64.6 228.6,64.6 228.88,64.6 229.15,64.6 229.43,64.6 229.71,64.6 229.99,64.6 230.26,64.6 230.54,64.6 230.82,64.6 231.1,64.6 231.38,64.6 231.65,64.6 231.93,64.6 232.21,64.6 232.49,64.6 232.76,64.6 233.04,64.6 233.32,64.6 233.6,64.6 233.32,64.6" fill="#cccccc" stroke="#888" stroke-width="0.6"/>
<line x1="118" y1="0" x2="118" y2="65" stroke="#9a9a9a" stroke-width="1.6"/>
<line x1="117.4" y1="64.6" x2="232.3" y2="64.6" stroke="#8a8a8a" stroke-width="1.2"/>
<polyline points="122.2,64.6 122.26,47.55 122.31,40.85 122.37,35.95 122.42,32 122.48,28.7 122.53,25.86 122.59,23.38 122.64,21.19 122.7,19.24 122.76,17.5 122.81,15.93 122.87,14.53 122.92,13.26 122.98,12.11 123.03,11.08 123.09,10.15 123.14,9.31 123.2,8.55 123.26,7.87 123.31,7.27 123.37,6.73 123.42,6.25 123.48,5.82 123.53,5.45 123.59,5.13 123.64,4.86 123.7,4.62 123.76,4.43 123.81,4.28 123.87,4.16 123.92,4.08 123.98,4.02 124.03,4 124.09,4.01 124.14,4.04 124.2,4.09 124.26,4.17 124.31,4.27 124.37,4.39 124.42,4.53 124.7,5.49 124.98,6.8 125.26,8.36 125.53,10.1 125.81,11.97 126.09,13.93 126.37,15.94 126.64,17.98 126.92,20.02 127.2,22.04 127.48,24.03 127.76,25.99 128.03,27.89 128.31,29.74 128.59,31.53 128.87,33.26 129.15,34.93 129.42,36.53 129.7,38.06 129.98,39.53 130.26,40.93 130.53,42.26 130.81,43.53 131.09,44.74 131.37,45.89 131.65,46.98 131.92,48.02 132.2,49 132.48,49.92 132.76,50.8 133.03,51.63 133.31,52.42 133.59,53.16 133.87,53.85 134.15,54.51 134.42,55.13 134.7,55.72 134.98,56.27 135.26,56.79 135.53,57.27 135.81,57.73 136.09,58.17 136.37,58.57 136.65,58.95 136.92,59.31 137.2,59.65 137.48,59.96 137.76,60.26 138.03,60.54 138.31,60.8 138.59,61.04 138.87,61.27 139.15,61.49 139.42,61.69 139.7,61.88 139.98,62.05 140.26,62.22 140.53,62.37 140.81,62.52 141.09,62.65 141.37,62.78 141.65,62.9 141.92,63.01 142.2,63.12 142.48,63.21 142.76,63.31 143.03,63.39 143.31,63.47 143.59,63.55 143.87,63.62 144.15,63.68 144.42,63.74 144.7,63.8 144.98,63.85 145.26,63.9 145.54,63.95 145.81,63.99 146.09,64.03 146.37,64.07 146.65,64.11 146.92,64.14 147.2,64.17 147.48,64.2 147.76,64.23 148.04,64.25 148.31,64.27 148.59,64.3 148.87,64.32 149.15,64.34 149.42,64.35 149.7,64.37 149.98,64.39 150.26,64.4 150.54,64.41 150.81,64.43 151.09,64.44 151.37,64.45 151.65,64.46 151.92,64.47 152.2,64.48 152.48,64.49 152.76,64.49 153.04,64.5 153.31,64.51 153.59,64.51 153.87,64.52 154.15,64.53 154.42,64.53 154.7,64.54 154.98,64.54 155.26,64.54 155.54,64.55 155.81,64.55 156.09,64.55 156.37,64.56 156.65,64.56 156.93,64.56 157.2,64.57 157.48,64.57 157.76,64.57 158.04,64.57 158.31,64.57 158.59,64.58 158.87,64.58 159.15,64.58 159.43,64.58 159.7,64.58 159.98,64.58 160.26,64.58 160.54,64.59 160.81,64.59 161.09,64.59 161.37,64.59 161.65,64.59 161.93,64.59 162.2,64.59 162.48,64.59 162.76,64.59 163.04,64.59 163.31,64.59 163.59,64.59 163.87,64.59 164.15,64.59 164.43,64.59 164.7,64.6 164.98,64.6 165.26,64.6 165.54,64.6 165.81,64.6 166.09,64.6 166.37,64.6 166.65,64.6 166.93,64.6 167.2,64.6 167.48,64.6 167.76,64.6 168.04,64.6 168.31,64.6 168.59,64.6 168.87,64.6 169.15,64.6 169.43,64.6 169.7,64.6 169.98,64.6 170.26,64.6 170.54,64.6 170.81,64.6 171.09,64.6 171.37,64.6 171.65,64.6 171.93,64.6 172.2,64.6 172.48,64.6 172.76,64.6 173.04,64.6 173.32,64.6 173.59,64.6 173.87,64.6 174.15,64.6 174.43,64.6 174.7,64.6 174.98,64.6 175.26,64.6 175.54,64.6 175.82,64.6 176.09,64.6 176.37,64.6 176.65,64.6 176.93,64.6 177.2,64.6 177.48,64.6 177.76,64.6 178.04,64.6 178.32,64.6 178.59,64.6 178.87,64.6 179.15,64.6 179.43,64.6 179.7,64.6 179.98,64.6 180.26,64.6 180.54,64.6 180.82,64.6 181.09,64.6 181.37,64.6 181.65,64.6 181.93,64.6 182.2,64.6 182.48,64.6 182.76,64.6 183.04,64.6 183.32,64.6 183.59,64.6 183.87,64.6 184.15,64.6 184.43,64.6 184.7,64.6 184.98,64.6 185.26,64.6 185.54,64.6 185.82,64.6 186.09,64.6 186.37,64.6 186.65,64.6 186.93,64.6 187.21,64.6 187.48,64.6 187.76,64.6 188.04,64.6 188.32,64.6 188.59,64.6 188.87,64.6 189.15,64.6 189.43,64.6 189.71,64.6 189.98,64.6 190.26,64.6 190.54,64.6 190.82,64.6 191.09,64.6 191.37,64.6 191.65,64.6 191.93,64.6 192.21,64.6 192.48,64.6 192.76,64.6 193.04,64.6 193.32,64.6 193.59,64.6 193.87,64.6 194.15,64.6 194.43,64.6 194.71,64.6 194.98,64.6 195.26,64.6 195.54,64.6 195.82,64.6 196.09,64.6 196.37,64.6 196.65,64.6 196.93,64.6 197.21,64.6 197.48,64.6 197.76,64.6 198.04,64.6 198.32,64.6 198.59,64.6 198.87,64.6 199.15,64.6 199.43,64.6 199.71,64.6 199.98,64.6 200.26,64.6 200.54,64.6 200.82,64.6 201.1,64.6 201.37,64.6 201.65,64.6 201.93,64.6 202.21,64.6 202.48,64.6 202.76,64.6 203.04,64.6 203.32,64.6 203.6,64.6 203.87,64.6 204.15,64.6 204.43,64.6 204.71,64.6 204.98,64.6 205.26,64.6 205.54,64.6 205.82,64.6 206.1,64.6 206.37,64.6 206.65,64.6 206.93,64.6 207.21,64.6 207.48,64.6 207.76,64.6 208.04,64.6 208.32,64.6 208.6,64.6 208.87,64.6 209.15,64.6 209.43,64.6 209.71,64.6 209.98,64.6 210.26,64.6 210.54,64.6 210.82,64.6 211.1,64.6 211.37,64.6 211.65,64.6 211.93,64.6 212.21,64.6 212.49,64.6 212.76,64.6 213.04,64.6 213.32,64.6 213.6,64.6 213.87,64.6 214.15,64.6 214.43,64.6 214.71,64.6 214.99,64.6 215.26,64.6 215.54,64.6 215.82,64.6 216.1,64.6 216.37,64.6 216.65,64.6 216.93,64.6 217.21,64.6 217.49,64.6 217.76,64.6 218.04,64.6 218.32,64.6 218.6,64.6 218.87,64.6 219.15,64.6 219.43,64.6 219.71,64.6 219.99,64.6 220.26,64.6 220.54,64.6 220.82,64.6 221.1,64.6 221.37,64.6 221.65,64.6 221.93,64.6 222.21,64.6 222.49,64.6 222.76,64.6 223.04,64.6 223.32,64.6 223.6,64.6 223.87,64.6 224.15,64.6 224.43,64.6 224.71,64.6 224.99,64.6 225.26,64.6 225.54,64.6 225.82,64.6 226.1,64.6 226.38,64.6 226.65,64.6 226.93,64.6 227.21,64.6 227.49,64.6 227.76,64.6 228.04,64.6 228.32,64.6 228.6,64.6 228.88,64.6 229.15,64.6 229.43,64.6 229.71,64.6" fill="none" stroke="#1fc81f" stroke-width="1.5"/>
<line x1="122.2" y1="65.2" x2="122.2" y2="68" stroke="#444" stroke-width="0.9"/>
<text x="122.2" y="75" text-anchor="middle" font-size="5.7" fill="#000" stroke="#000" stroke-width="0.14" text-rendering="geometricPrecision">0</text>
<line x1="149.98" y1="65.2" x2="149.98" y2="68" stroke="#444" stroke-width="0.9"/>
<text x="149.98" y="75" text-anchor="middle" font-size="5.7" fill="#000" stroke="#000" stroke-width="0.14" text-rendering="geometricPrecision">50</text>
<line x1="177.76" y1="65.2" x2="177.76" y2="68" stroke="#444" stroke-width="0.9"/>
<text x="177.76" y="75" text-anchor="middle" font-size="5.7" fill="#000" stroke="#000" stroke-width="0.14" text-rendering="geometricPrecision">100</text>
<line x1="205.54" y1="65.2" x2="205.54" y2="68" stroke="#444" stroke-width="0.9"/>
<text x="205.54" y="75" text-anchor="middle" font-size="5.7" fill="#000" stroke="#000" stroke-width="0.14" text-rendering="geometricPrecision">150</text>
<text x="175.2" y="80.1" text-anchor="middle" font-size="5.7" fill="#000" stroke="#000" stroke-width="0.14" text-rendering="geometricPrecision">Acc. rate (yr/cm)</text>
<text x="130" y="7.0" font-size="5.0" textLength="23.0" lengthAdjust="spacingAndGlyphs" fill="#ff0000" stroke="#ff0000" stroke-width="0.07" text-rendering="geometricPrecision">acc.shape:</text>
<text x="155.6" y="7.0" font-size="5.0" fill="#ff0000" stroke="#ff0000" stroke-width="0.07" text-rendering="geometricPrecision">1.5</text>
<text x="130" y="13.1" font-size="5.0" textLength="21.8" lengthAdjust="spacingAndGlyphs" fill="#ff0000" stroke="#ff0000" stroke-width="0.07" text-rendering="geometricPrecision">acc.mean:</text>
<text x="155.2" y="13.1" font-size="5.0" fill="#ff0000" stroke="#ff0000" stroke-width="0.07" text-rendering="geometricPrecision">10</text>
<polygon points="246.50,64.60 246.95,64.18 247.39,63.76 247.84,63.34 248.28,62.91 248.73,62.47 249.18,62.01 249.62,61.52 250.07,61.03 250.52,60.55 250.96,60.09 251.41,59.66 251.85,59.28 252.30,58.96 252.75,58.68 253.19,58.42 253.64,58.18 254.08,57.95 254.53,57.73 254.98,57.51 255.42,57.30 255.87,57.12 256.31,56.94 256.76,56.76 257.21,56.58 257.65,56.38 258.10,56.15 258.55,55.90 258.99,55.63 259.44,55.33 259.88,55.02 260.33,54.69 260.78,54.34 261.22,53.97 261.67,53.59 262.11,53.20 262.56,52.80 263.01,52.39 263.45,51.96 263.90,51.49 264.34,51.00 264.79,50.48 265.24,49.95 265.68,49.41 266.13,48.88 266.58,48.35 267.02,47.82 267.47,47.25 267.91,46.67 268.36,46.09 268.81,45.52 269.25,44.98 269.70,44.48 270.14,44.04 270.59,43.66 271.04,43.35 271.48,43.06 271.93,42.80 272.37,42.55 272.82,42.29 273.27,41.99 273.71,41.66 274.16,41.26 274.61,40.79 275.05,40.27 275.50,39.70 275.94,39.11 276.39,38.51 276.84,37.92 277.28,37.31 277.73,36.65 278.17,35.91 278.62,35.04 279.07,33.90 279.51,32.67 279.96,31.59 280.41,30.69 280.85,29.84 281.30,29.06 281.74,28.37 282.19,27.79 282.64,27.29 283.08,26.83 283.53,26.42 283.97,26.05 284.42,25.69 284.87,25.34 285.31,24.99 285.76,24.64 286.20,24.26 286.65,23.85 287.10,23.40 287.54,22.91 287.99,22.39 288.44,21.85 288.88,21.31 289.33,20.76 289.77,20.23 290.22,19.71 290.67,19.22 291.11,18.75 291.56,18.28 292.00,17.82 292.45,17.36 292.90,16.91 293.34,16.47 293.79,16.03 294.23,15.60 294.68,15.18 295.13,14.76 295.57,14.34 296.02,13.93 296.47,13.52 296.91,13.11 297.36,12.71 297.80,12.32 298.25,11.93 298.70,11.54 299.14,11.17 299.59,10.80 300.03,10.43 300.48,10.08 300.93,9.74 301.37,9.40 301.82,9.08 302.26,8.75 302.71,8.44 303.16,8.12 303.60,7.80 304.05,7.48 304.50,7.15 304.94,6.82 305.39,6.48 305.83,6.12 306.28,5.75 306.73,5.39 307.17,5.04 307.62,4.71 308.06,4.33 308.51,3.95 308.96,3.68 309.40,3.60 309.85,3.60 310.29,3.60 310.74,3.60 311.19,3.60 311.63,3.60 312.08,3.60 312.53,3.60 312.97,3.67 313.42,3.80 313.86,3.99 314.31,4.24 314.76,4.54 315.20,4.86 315.65,5.21 316.09,5.58 316.54,6.10 316.99,6.80 317.43,7.62 317.88,8.52 318.33,9.44 318.77,10.35 319.22,11.22 319.66,12.14 320.11,13.09 320.56,14.05 321.00,15.00 321.45,15.97 321.89,16.94 322.34,17.93 322.79,18.90 323.23,19.86 323.68,20.79 324.12,21.72 324.57,22.63 325.02,23.54 325.46,24.43 325.91,25.29 326.36,26.11 326.80,26.93 327.25,27.78 327.69,28.67 328.14,29.65 328.59,30.68 329.03,31.78 329.48,32.94 329.92,34.18 330.37,35.52 330.82,36.90 331.26,38.32 331.71,39.79 332.15,41.31 332.60,42.83 333.05,44.35 333.49,45.92 333.94,47.45 334.39,48.86 334.83,50.11 335.28,51.27 335.72,52.36 336.17,53.38 336.62,54.34 337.06,55.26 337.51,56.13 337.95,57.00 338.40,57.85 338.85,58.67 339.29,59.45 339.74,60.19 340.18,60.90 340.63,61.57 341.08,62.17 341.52,62.72 341.97,63.24 342.42,63.66 342.86,63.97 343.31,64.25 343.75,64.46 344.20,64.60" fill="#cccccc" stroke="#888" stroke-width="0.6"/>
<line x1="235.5" y1="0" x2="235.5" y2="65" stroke="#8a8a8a" stroke-width="1.3"/>
<line x1="235" y1="64.7" x2="348.9" y2="64.7" stroke="#8a8a8a" stroke-width="1.2"/>
<polyline points="239.35,64.6 239.88,64.59 240.4,64.57 240.93,64.54 241.45,64.5 241.98,64.45 242.51,64.39 243.03,64.33 243.56,64.25 244.09,64.17 244.61,64.08 245.14,63.98 245.66,63.88 246.19,63.77 246.72,63.65 247.24,63.53 247.77,63.4 248.3,63.26 248.82,63.12 249.35,62.97 249.88,62.81 250.4,62.65 250.93,62.48 251.45,62.31 251.98,62.13 252.51,61.94 253.03,61.75 253.56,61.55 254.09,61.35 254.61,61.14 255.14,60.93 255.66,60.71 256.19,60.49 256.72,60.26 257.24,60.02 257.77,59.78 258.3,59.54 258.82,59.29 259.35,59.04 259.87,58.78 260.4,58.51 260.93,58.24 261.45,57.97 261.98,57.69 262.5,57.41 263.03,57.12 263.56,56.83 264.08,56.53 264.61,56.23 265.14,55.93 265.66,55.62 266.19,55.31 266.71,54.99 267.24,54.67 267.77,54.34 268.29,54.01 268.82,53.68 269.35,53.34 269.87,53 270.4,52.65 270.93,52.3 271.45,51.95 271.98,51.59 272.5,51.23 273.03,50.87 273.56,50.5 274.08,50.13 274.61,49.75 275.13,49.38 275.66,48.99 276.19,48.61 276.71,48.22 277.24,47.83 277.77,47.44 278.29,47.04 278.82,46.64 279.34,46.23 279.87,45.83 280.4,45.42 280.92,45 281.45,44.59 281.98,44.17 282.5,43.75 283.03,43.32 283.56,42.9 284.08,42.47 284.61,42.04 285.13,41.6 285.66,41.17 286.19,40.73 286.71,40.29 287.24,39.85 287.76,39.4 288.29,38.95 288.82,38.5 289.34,38.05 289.87,37.6 290.4,37.14 290.92,36.69 291.45,36.23 291.98,35.77 292.5,35.3 293.03,34.84 293.55,34.38 294.08,33.91 294.61,33.44 295.13,32.97 295.66,32.5 296.19,32.03 296.71,31.56 297.24,31.08 297.76,30.61 298.29,30.13 298.82,29.66 299.34,29.18 299.87,28.7 300.39,28.23 300.92,27.75 301.45,27.27 301.97,26.79 302.5,26.31 303.03,25.84 303.55,25.36 304.08,24.88 304.61,24.4 305.13,23.92 305.66,23.45 306.18,22.97 306.71,22.49 307.24,22.02 307.76,21.55 308.29,21.07 308.81,20.6 309.34,20.13 309.87,19.66 310.39,19.2 310.92,18.73 311.45,18.27 311.97,17.81 312.5,17.35 313.02,16.9 313.55,16.44 314.08,15.99 314.6,15.55 315.13,15.1 315.66,14.66 316.18,14.23 316.71,13.79 317.24,13.36 317.76,12.94 318.29,12.52 318.81,12.11 319.34,11.7 319.87,11.3 320.39,10.9 320.92,10.51 321.44,10.12 321.97,9.75 322.5,9.38 323.02,9.01 323.55,8.66 324.08,8.31 324.6,7.98 325.13,7.65 325.65,7.34 326.18,7.03 326.71,6.74 327.23,6.46 327.76,6.19 328.29,5.94 328.81,5.7 329.34,5.47 329.87,5.27 330.39,5.08 330.92,4.91 331.44,4.76 331.97,4.64 332.5,4.54 333.02,4.46 333.55,4.42 334.07,4.4 334.6,4.42 335.13,4.47 335.65,4.57 336.18,4.7 336.71,4.89 337.23,5.14 337.76,5.44 338.28,5.82 338.81,6.28 339.34,6.84 339.86,7.5 340.39,8.31 340.92,9.27 341.44,10.45 341.97,11.91 342.5,13.74 343.02,16.14 343.55,19.51 344.07,24.99 344.6,64.6" fill="none" stroke="#1fc81f" stroke-width="1.5"/>
<line x1="239.35" y1="65.2" x2="239.35" y2="68" stroke="#444" stroke-width="0.9"/>
<text x="239.35" y="75" text-anchor="middle" font-size="5.7" fill="#000" stroke="#000" stroke-width="0.14" text-rendering="geometricPrecision">0.0</text>
<line x1="260.4" y1="65.2" x2="260.4" y2="68" stroke="#444" stroke-width="0.9"/>
<text x="260.4" y="75" text-anchor="middle" font-size="5.7" fill="#000" stroke="#000" stroke-width="0.14" text-rendering="geometricPrecision">0.2</text>
<line x1="281.45" y1="65.2" x2="281.45" y2="68" stroke="#444" stroke-width="0.9"/>
<text x="281.45" y="75" text-anchor="middle" font-size="5.7" fill="#000" stroke="#000" stroke-width="0.14" text-rendering="geometricPrecision">0.4</text>
<line x1="302.5" y1="65.2" x2="302.5" y2="68" stroke="#444" stroke-width="0.9"/>
<text x="302.5" y="75" text-anchor="middle" font-size="5.7" fill="#000" stroke="#000" stroke-width="0.14" text-rendering="geometricPrecision">0.6</text>
<line x1="323.55" y1="65.2" x2="323.55" y2="68" stroke="#444" stroke-width="0.9"/>
<text x="323.55" y="75" text-anchor="middle" font-size="5.7" fill="#000" stroke="#000" stroke-width="0.14" text-rendering="geometricPrecision">0.8</text>
<line x1="344.6" y1="65.2" x2="344.6" y2="68" stroke="#444" stroke-width="0.9"/>
<text x="344.6" y="75" text-anchor="middle" font-size="5.7" fill="#000" stroke="#000" stroke-width="0.14" text-rendering="geometricPrecision">1.0</text>
<text x="292.3" y="80.1" text-anchor="middle" font-size="5.7" fill="#000" stroke="#000" stroke-width="0.14" text-rendering="geometricPrecision">Memory</text>
<text x="244" y="6.8" font-size="5.1" textLength="35.0" lengthAdjust="spacingAndGlyphs" fill="#ff0000" stroke="#ff0000" stroke-width="0.07" text-rendering="geometricPrecision">mem.strength: 4</text>
<text x="244" y="12.9" font-size="5.1" textLength="32.9" lengthAdjust="spacingAndGlyphs" fill="#ff0000" stroke="#ff0000" stroke-width="0.07" text-rendering="geometricPrecision">mem.mean: 0.7</text>
<text x="244" y="18.2" font-size="5.1" textLength="39.2" lengthAdjust="spacingAndGlyphs" fill="#ff0000" stroke="#ff0000" stroke-width="0.07" text-rendering="geometricPrecision">162 5-cm sections</text>
<polygon points="35.30,273.20 36.29,272.34 37.27,271.52 38.26,270.75 39.25,269.99 40.24,269.25 41.22,268.55 42.21,267.93 43.20,267.43 44.19,267.03 45.17,266.69 46.16,266.37 47.15,266.05 48.13,265.67 49.12,265.20 50.11,264.61 51.10,263.69 52.08,262.30 53.07,260.67 54.06,259.01 55.05,257.53 56.03,256.39 57.02,255.28 58.01,254.18 58.99,253.12 59.98,252.10 60.97,251.15 61.96,250.28 62.94,249.45 63.93,248.66 64.92,247.90 65.91,247.16 66.89,246.44 67.88,245.73 68.87,245.13 69.86,244.79 70.84,244.60 71.83,244.46 72.82,244.25 73.80,243.85 74.79,243.15 75.78,242.01 76.77,240.48 77.75,238.70 78.74,236.82 79.73,235.00 80.72,233.40 81.70,232.11 82.69,230.91 83.68,229.72 84.66,228.53 85.65,227.29 86.64,226.02 87.63,224.91 88.61,223.86 89.60,222.68 90.59,221.22 91.58,219.57 92.56,217.85 93.55,216.13 94.54,214.31 95.52,212.45 96.51,210.67 97.50,209.04 98.49,207.66 99.47,206.43 100.46,205.30 101.45,204.23 102.44,203.22 103.42,202.22 104.41,201.21 105.40,200.22 106.38,199.24 107.37,198.28 108.36,197.34 109.35,196.42 110.33,195.52 111.32,194.63 112.31,193.72 113.30,192.82 114.28,191.93 115.27,191.06 116.26,190.20 117.25,189.35 118.23,188.50 119.22,187.65 120.21,186.81 121.19,186.00 122.18,185.23 123.17,184.50 124.16,183.90 125.14,183.41 126.13,182.99 127.12,182.62 128.11,182.25 129.09,181.83 130.08,181.35 131.07,180.87 132.05,180.42 133.04,179.99 134.03,179.57 135.02,179.15 136.00,178.73 136.99,178.31 137.98,177.89 138.97,177.49 139.95,177.09 140.94,176.67 141.93,176.20 142.91,175.69 143.90,175.17 144.89,174.65 145.88,174.15 146.86,173.67 147.85,173.19 148.84,172.69 149.83,172.18 150.81,171.67 151.80,171.19 152.79,170.73 153.77,170.32 154.76,169.96 155.75,169.65 156.74,169.37 157.72,169.10 158.71,168.85 159.70,168.62 160.69,168.40 161.67,168.20 162.66,168.01 163.65,167.83 164.64,167.70 165.62,167.63 166.61,167.57 167.60,167.46 168.58,167.29 169.57,167.10 170.56,166.90 171.55,166.70 172.53,166.48 173.52,166.26 174.51,166.04 175.50,165.82 176.48,165.59 177.47,165.37 178.46,165.15 179.44,164.93 180.43,164.72 181.42,164.50 182.41,164.29 183.39,164.08 184.38,163.87 185.37,163.66 186.36,163.45 187.34,163.24 188.33,163.02 189.32,162.81 190.30,162.59 191.29,162.36 192.28,162.13 193.27,161.89 194.25,161.64 195.24,161.39 196.23,161.14 197.22,160.90 198.20,160.65 199.19,160.41 200.18,160.18 201.16,159.96 202.15,159.75 203.14,159.57 204.13,159.43 205.11,159.30 206.10,159.15 207.09,158.96 208.08,158.71 209.06,158.39 210.05,158.03 211.04,157.65 212.03,157.29 213.01,156.96 214.00,156.68 214.99,156.45 215.97,156.25 216.96,156.07 217.95,155.91 218.94,155.76 219.92,155.60 220.91,155.42 221.90,155.23 222.89,155.03 223.87,154.83 224.86,154.64 225.85,154.45 226.83,154.26 227.82,154.08 228.81,153.90 229.80,153.72 230.78,153.54 231.77,153.37 232.76,153.19 233.75,153.02 234.73,152.84 235.72,152.66 236.71,152.49 237.69,152.31 238.68,152.14 239.67,151.97 240.66,151.81 241.64,151.64 242.63,151.48 243.62,151.32 244.61,151.16 245.59,150.99 246.58,150.83 247.57,150.66 248.55,150.50 249.54,150.34 250.53,150.18 251.52,150.02 252.50,149.86 253.49,149.70 254.48,149.53 255.47,149.35 256.45,149.17 257.44,148.98 258.43,148.81 259.42,148.63 260.40,148.40 261.39,148.08 262.38,147.37 263.36,146.16 264.35,144.75 265.34,143.43 266.33,142.39 267.31,141.42 268.30,140.48 269.29,139.59 270.28,138.72 271.26,137.89 272.25,137.07 273.24,136.24 274.22,135.41 275.21,134.60 276.20,133.79 277.19,133.01 278.17,132.27 279.16,131.56 280.15,130.90 281.14,130.29 282.12,129.71 283.11,129.16 284.10,128.63 285.08,128.13 286.07,127.64 287.06,127.17 288.05,126.70 289.03,126.24 290.02,125.77 291.01,125.30 292.00,124.83 292.98,124.37 293.97,123.92 294.96,123.47 295.94,123.03 296.93,122.60 297.92,122.17 298.91,121.74 299.89,121.30 300.88,120.87 301.87,120.42 302.86,119.99 303.84,119.60 304.83,119.23 305.82,118.82 306.81,118.33 307.79,117.69 308.78,116.93 309.77,116.17 310.75,115.47 311.74,114.76 312.73,114.05 313.72,113.34 314.70,112.63 315.69,111.93 316.68,111.24 317.67,110.56 318.65,109.90 319.64,109.26 320.63,108.64 321.61,108.03 322.60,107.42 323.59,106.83 324.58,106.25 325.56,105.68 326.55,105.12 327.54,104.57 328.53,104.04 329.51,103.51 330.50,103.00 330.50,113.31 329.51,113.71 328.53,114.11 327.54,114.51 326.55,114.91 325.56,115.31 324.58,115.72 323.59,116.12 322.60,116.53 321.61,116.93 320.63,117.33 319.64,117.74 318.65,118.14 317.67,118.55 316.68,118.95 315.69,119.37 314.70,119.78 313.72,120.21 312.73,120.64 311.74,121.07 310.75,121.52 309.77,121.97 308.78,122.40 307.79,122.86 306.81,123.38 305.82,124.04 304.83,124.81 303.84,125.65 302.86,126.47 301.87,127.22 300.88,127.97 299.89,128.73 298.91,129.49 297.92,130.24 296.93,130.99 295.94,131.73 294.96,132.45 293.97,133.14 292.98,133.81 292.00,134.46 291.01,135.06 290.02,135.64 289.03,136.22 288.05,136.79 287.06,137.36 286.07,137.93 285.08,138.50 284.10,139.07 283.11,139.64 282.12,140.22 281.14,140.81 280.15,141.40 279.16,142.00 278.17,142.61 277.19,143.23 276.20,143.86 275.21,144.49 274.22,145.12 273.24,145.75 272.25,146.36 271.26,146.96 270.28,147.54 269.29,148.10 268.30,148.65 267.31,149.20 266.33,149.75 265.34,150.30 264.35,150.86 263.36,151.40 262.38,151.90 261.39,152.32 260.40,152.67 259.42,152.97 258.43,153.23 257.44,153.47 256.45,153.71 255.47,153.94 254.48,154.15 253.49,154.36 252.50,154.56 251.52,154.76 250.53,154.95 249.54,155.15 248.55,155.35 247.57,155.55 246.58,155.76 245.59,155.98 244.61,156.20 243.62,156.42 242.63,156.65 241.64,156.88 240.66,157.11 239.67,157.35 238.68,157.59 237.69,157.83 236.71,158.07 235.72,158.31 234.73,158.57 233.75,158.83 232.76,159.11 231.77,159.38 230.78,159.66 229.80,159.94 228.81,160.22 227.82,160.50 226.83,160.77 225.85,161.04 224.86,161.30 223.87,161.56 222.89,161.80 221.90,162.03 220.91,162.25 219.92,162.45 218.94,162.65 217.95,162.85 216.96,163.05 215.97,163.26 214.99,163.49 214.00,163.75 213.01,164.03 212.03,164.40 211.04,164.84 210.05,165.32 209.06,165.78 208.08,166.18 207.09,166.51 206.10,166.80 205.11,167.07 204.13,167.33 203.14,167.62 202.15,167.93 201.16,168.30 200.18,168.71 199.19,169.17 198.20,169.64 197.22,170.14 196.23,170.64 195.24,171.13 194.25,171.60 193.27,172.04 192.28,172.43 191.29,172.78 190.30,173.07 189.32,173.33 188.33,173.57 187.34,173.79 186.36,173.99 185.37,174.19 184.38,174.39 183.39,174.59 182.41,174.80 181.42,175.02 180.43,175.26 179.44,175.51 178.46,175.79 177.47,176.07 176.48,176.36 175.50,176.66 174.51,176.96 173.52,177.26 172.53,177.56 171.55,177.86 170.56,178.17 169.57,178.46 168.58,178.76 167.60,179.05 166.61,179.33 165.62,179.62 164.64,179.90 163.65,180.18 162.66,180.46 161.67,180.76 160.69,181.07 159.70,181.39 158.71,181.71 157.72,182.03 156.74,182.35 155.75,182.66 154.76,182.97 153.77,183.30 152.79,183.66 151.80,184.04 150.81,184.44 149.83,184.86 148.84,185.28 147.85,185.72 146.86,186.16 145.88,186.60 144.89,187.06 143.90,187.53 142.91,188.02 141.93,188.53 140.94,189.05 139.95,189.58 138.97,190.17 137.98,190.80 136.99,191.41 136.00,191.94 135.02,192.45 134.03,192.96 133.04,193.47 132.05,193.98 131.07,194.50 130.08,195.02 129.09,195.56 128.11,196.10 127.12,196.65 126.13,197.22 125.14,197.82 124.16,198.45 123.17,199.13 122.18,199.86 121.19,200.62 120.21,201.40 119.22,202.21 118.23,203.03 117.25,203.86 116.26,204.70 115.27,205.54 114.28,206.34 113.30,207.11 112.31,207.87 111.32,208.62 110.33,209.39 109.35,210.17 108.36,210.95 107.37,211.73 106.38,212.51 105.40,213.29 104.41,214.06 103.42,214.81 102.44,215.51 101.45,216.19 100.46,216.86 99.47,217.56 98.49,218.31 97.50,219.14 96.51,220.05 95.52,221.01 94.54,222.00 93.55,222.97 92.56,223.88 91.58,224.63 90.59,225.57 89.60,227.12 88.61,229.56 87.63,232.35 86.64,234.86 85.65,236.72 84.66,238.41 83.68,239.99 82.69,241.46 81.70,242.81 80.72,244.02 79.73,244.86 78.74,245.44 77.75,245.88 76.77,246.30 75.78,246.85 74.79,247.66 73.80,248.74 72.82,249.99 71.83,251.35 70.84,252.72 69.86,254.05 68.87,255.24 67.88,256.23 66.89,257.14 65.91,258.03 64.92,258.92 63.93,259.79 62.94,260.66 61.96,261.53 60.97,262.39 59.98,263.23 58.99,264.03 58.01,264.81 57.02,265.55 56.03,266.26 55.05,266.88 54.06,267.23 53.07,267.40 52.08,267.53 51.10,267.78 50.11,268.31 49.12,269.02 48.13,269.77 47.15,270.53 46.16,271.28 45.17,272.00 44.19,272.67 43.20,273.26 42.21,273.75 41.22,274.08 40.24,274.29 39.25,274.45 38.26,274.60 37.27,274.77 36.29,274.90 35.30,275.00" fill="#f0f0f0" stroke="none"/>
<polygon points="35.05,273.80 36.54,273.04 36.54,274.20 35.05,274.40" fill="#c7c7c7"/>
<polygon points="36.04,273.04 37.52,272.31 37.52,273.98 36.04,274.20" fill="#c7c7c7"/>
<polygon points="37.02,272.31 38.51,271.62 38.51,273.73 37.02,273.98" fill="#c7c7c7"/>
<polygon points="38.01,271.62 39.50,270.94 39.50,273.50 38.01,273.73" fill="#c7c7c7"/>
<polygon points="39.00,270.94 40.49,270.27 40.49,273.27 39.00,273.50" fill="#cecece"/>
<polygon points="39.99,270.27 41.47,269.64 41.47,272.99 39.99,273.27" fill="#d3d3d3"/>
<polygon points="40.97,269.64 42.46,269.06 42.46,272.63 40.97,272.99" fill="#d6d6d6"/>
<polygon points="41.96,269.06 43.45,268.56 43.45,272.14 41.96,272.63" fill="#d7d7d7"/>
<polygon points="42.95,268.56 44.44,268.13 44.44,271.57 42.95,272.14" fill="#d6d6d6"/>
<polygon points="43.94,268.13 45.42,267.75 45.42,270.94 43.94,271.57" fill="#d4d4d4"/>
<polygon points="44.92,267.75 46.41,267.38 46.41,270.27 44.92,270.94" fill="#d1d1d1"/>
<polygon points="45.91,267.38 47.40,267.00 47.40,269.58 45.91,270.27" fill="#cdcdcd"/>
<polygon points="46.90,267.00 48.38,266.57 48.38,268.87 46.90,269.58" fill="#c8c8c8"/>
<polygon points="47.88,266.57 49.37,266.07 49.37,268.16 47.88,268.87" fill="#c7c7c7"/>
<polygon points="48.87,266.07 50.36,265.46 50.36,267.46 48.87,268.16" fill="#c7c7c7"/>
<polygon points="49.86,265.46 51.35,264.59 51.35,266.88 49.86,267.46" fill="#c7c7c7"/>
<polygon points="50.85,264.59 52.33,263.35 52.33,266.48 50.85,266.88" fill="#cdcdcd"/>
<polygon points="51.83,263.35 53.32,261.91 53.32,266.15 51.83,266.48" fill="#d8d8d8"/>
<polygon points="52.82,261.91 54.31,260.44 54.31,265.80 52.82,266.15" fill="#dfdfdf"/>
<polygon points="53.81,260.44 55.30,259.12 55.30,265.30 53.81,265.80" fill="#e3e3e3"/>
<polygon points="54.80,259.12 56.28,258.04 56.28,264.61 54.80,265.30" fill="#e5e5e5"/>
<polygon points="55.78,258.04 57.27,256.98 57.27,263.85 55.78,264.61" fill="#e6e6e6"/>
<polygon points="56.77,256.98 58.26,255.93 58.26,263.06 56.77,263.85" fill="#e7e7e7"/>
<polygon points="57.76,255.93 59.24,254.90 59.24,262.25 57.76,263.06" fill="#e7e7e7"/>
<polygon points="58.74,254.90 60.23,253.91 60.23,261.41 58.74,262.25" fill="#e8e8e8"/>
<polygon points="59.73,253.91 61.22,252.97 61.22,260.56 59.73,261.41" fill="#e8e8e8"/>
<polygon points="60.72,252.97 62.21,252.10 62.21,259.70 60.72,260.56" fill="#e8e8e8"/>
<polygon points="61.71,252.10 63.19,251.28 63.19,258.84 61.71,259.70" fill="#e8e8e8"/>
<polygon points="62.69,251.28 64.18,250.47 64.18,257.98 62.69,258.84" fill="#e8e8e8"/>
<polygon points="63.68,250.47 65.17,249.70 65.17,257.12 63.68,257.98" fill="#e8e8e8"/>
<polygon points="64.67,249.70 66.16,248.94 66.16,256.25 64.67,257.12" fill="#e7e7e7"/>
<polygon points="65.66,248.94 67.14,248.20 67.14,255.38 65.66,256.25" fill="#e7e7e7"/>
<polygon points="66.64,248.20 68.13,247.46 68.13,254.50 66.64,255.38" fill="#e7e7e7"/>
<polygon points="67.63,247.46 69.12,246.81 69.12,253.56 67.63,254.50" fill="#e6e6e6"/>
<polygon points="68.62,246.81 70.11,246.36 70.11,252.48 68.62,253.56" fill="#e5e5e5"/>
<polygon points="69.61,246.36 71.09,246.03 71.09,251.30 69.61,252.48" fill="#e3e3e3"/>
<polygon points="70.59,246.03 72.08,245.72 72.08,250.08 70.59,251.30" fill="#dfdfdf"/>
<polygon points="71.58,245.72 73.07,245.36 73.07,248.88 71.58,250.08" fill="#dadada"/>
<polygon points="72.57,245.36 74.05,244.85 74.05,247.73 72.57,248.88" fill="#d3d3d3"/>
<polygon points="73.55,244.85 75.04,244.10 75.04,246.70 73.55,247.73" fill="#cdcdcd"/>
<polygon points="74.54,244.10 76.03,243.01 76.03,245.86 74.54,246.70" fill="#cdcdcd"/>
<polygon points="75.53,243.01 77.02,241.61 77.02,245.18 75.53,245.86" fill="#d3d3d3"/>
<polygon points="76.52,241.61 78.00,240.00 78.00,244.57 76.52,245.18" fill="#dbdbdb"/>
<polygon points="77.50,240.00 78.99,238.31 78.99,243.95 77.50,244.57" fill="#e0e0e0"/>
<polygon points="78.49,238.31 79.98,236.65 79.98,243.22 78.49,243.95" fill="#e4e4e4"/>
<polygon points="79.48,236.65 80.97,235.15 80.97,242.27 79.48,243.22" fill="#e6e6e6"/>
<polygon points="80.47,235.15 81.95,233.87 81.95,241.06 80.47,242.27" fill="#e7e7e7"/>
<polygon points="81.45,233.87 82.94,232.65 82.94,239.72 81.45,241.06" fill="#e7e7e7"/>
<polygon points="82.44,232.65 83.93,231.43 83.93,238.29 82.44,239.72" fill="#e6e6e6"/>
<polygon points="83.43,231.43 84.91,230.18 84.91,236.76 83.43,238.29" fill="#e6e6e6"/>
<polygon points="84.41,230.18 85.90,228.89 85.90,235.13 84.41,236.76" fill="#e5e5e5"/>
<polygon points="85.40,228.89 86.89,227.54 86.89,233.35 85.40,235.13" fill="#e4e4e4"/>
<polygon points="86.39,227.54 87.88,226.24 87.88,231.01 86.39,233.35" fill="#e1e1e1"/>
<polygon points="87.38,226.24 88.86,224.97 88.86,228.45 87.38,231.01" fill="#dbdbdb"/>
<polygon points="88.36,224.97 89.85,223.63 89.85,226.18 88.36,228.45" fill="#d1d1d1"/>
<polygon points="89.35,223.63 90.84,222.15 90.84,224.63 89.35,226.18" fill="#c9c9c9"/>
<polygon points="90.34,222.15 91.83,220.60 91.83,223.61 90.34,224.63" fill="#cdcdcd"/>
<polygon points="91.33,220.60 92.81,219.01 92.81,222.73 91.33,223.61" fill="#d5d5d5"/>
<polygon points="92.31,219.01 93.80,217.39 93.80,221.72 92.31,222.73" fill="#dadada"/>
<polygon points="93.30,217.39 94.79,215.68 94.79,220.63 93.30,221.72" fill="#dedede"/>
<polygon points="94.29,215.68 95.77,213.94 95.77,219.54 94.29,220.63" fill="#e1e1e1"/>
<polygon points="95.27,213.94 96.76,212.26 96.76,218.47 95.27,219.54" fill="#e4e4e4"/>
<polygon points="96.26,212.26 97.75,210.73 97.75,217.46 96.26,218.47" fill="#e5e5e5"/>
<polygon points="97.25,210.73 98.74,209.41 98.74,216.56 97.25,217.46" fill="#e6e6e6"/>
<polygon points="98.24,209.41 99.72,208.23 99.72,215.74 98.24,216.56" fill="#e7e7e7"/>
<polygon points="99.22,208.23 100.71,207.15 100.71,214.97 99.22,215.74" fill="#e8e8e8"/>
<polygon points="100.21,207.15 101.70,206.12 101.70,214.24 100.21,214.97" fill="#e9e9e9"/>
<polygon points="101.20,206.12 102.69,205.14 102.69,213.51 101.20,214.24" fill="#e9e9e9"/>
<polygon points="102.19,205.14 103.67,204.17 103.67,212.76 102.19,213.51" fill="#e9e9e9"/>
<polygon points="103.17,204.17 104.66,203.19 104.66,211.97 103.17,212.76" fill="#eaeaea"/>
<polygon points="104.16,203.19 105.65,202.22 105.65,211.16 104.16,211.97" fill="#eaeaea"/>
<polygon points="105.15,202.22 106.63,201.27 106.63,210.36 105.15,211.16" fill="#eaeaea"/>
<polygon points="106.13,201.27 107.62,200.33 107.62,209.55 106.13,210.36" fill="#eaeaea"/>
<polygon points="107.12,200.33 108.61,199.40 108.61,208.74 107.12,209.55" fill="#ebebeb"/>
<polygon points="108.11,199.40 109.60,198.49 109.60,207.93 108.11,208.74" fill="#ebebeb"/>
<polygon points="109.10,198.49 110.58,197.60 110.58,207.13 109.10,207.93" fill="#ebebeb"/>
<polygon points="110.08,197.60 111.57,196.70 111.57,206.33 110.08,207.13" fill="#ebebeb"/>
<polygon points="111.07,196.70 112.56,195.80 112.56,205.54 111.07,206.33" fill="#ebebeb"/>
<polygon points="112.06,195.80 113.55,194.90 113.55,204.74 112.06,205.54" fill="#ebebeb"/>
<polygon points="113.05,194.90 114.53,194.01 114.53,203.94 113.05,204.74" fill="#ebebeb"/>
<polygon points="114.03,194.01 115.52,193.13 115.52,203.12 114.03,203.94" fill="#ebebeb"/>
<polygon points="115.02,193.13 116.51,192.28 116.51,202.28 115.02,203.12" fill="#ebebeb"/>
<polygon points="116.01,192.28 117.50,191.43 117.50,201.44 116.01,202.28" fill="#ececec"/>
<polygon points="117.00,191.43 118.48,190.58 118.48,200.60 117.00,201.44" fill="#ececec"/>
<polygon points="117.98,190.58 119.47,189.74 119.47,199.78 117.98,200.60" fill="#ececec"/>
<polygon points="118.97,189.74 120.46,188.91 120.46,198.98 118.97,199.78" fill="#ececec"/>
<polygon points="119.96,188.91 121.44,188.11 121.44,198.19 119.96,198.98" fill="#ececec"/>
<polygon points="120.94,188.11 122.43,187.34 122.43,197.43 120.94,198.19" fill="#ececec"/>
<polygon points="121.93,187.34 123.42,186.61 123.42,196.71 121.93,197.43" fill="#ececec"/>
<polygon points="122.92,186.61 124.41,185.98 124.41,196.02 122.92,196.71" fill="#ececec"/>
<polygon points="123.91,185.98 125.39,185.43 125.39,195.37 123.91,196.02" fill="#ebebeb"/>
<polygon points="124.89,185.43 126.38,184.95 126.38,194.75 124.89,195.37" fill="#ebebeb"/>
<polygon points="125.88,184.95 127.37,184.50 127.37,194.16 125.88,194.75" fill="#ebebeb"/>
<polygon points="126.87,184.50 128.36,184.06 128.36,193.59 126.87,194.16" fill="#ebebeb"/>
<polygon points="127.86,184.06 129.34,183.60 129.34,193.03 127.86,193.59" fill="#ebebeb"/>
<polygon points="128.84,183.60 130.33,183.11 130.33,192.49 128.84,193.03" fill="#ebebeb"/>
<polygon points="129.83,183.11 131.32,182.62 131.32,191.97 129.83,192.49" fill="#ebebeb"/>
<polygon points="130.82,182.62 132.30,182.16 132.30,191.47 130.82,191.97" fill="#ebebeb"/>
<polygon points="131.80,182.16 133.29,181.72 133.29,190.97 131.80,191.47" fill="#ebebeb"/>
<polygon points="132.79,181.72 134.28,181.30 134.28,190.48 132.79,190.97" fill="#ebebeb"/>
<polygon points="133.78,181.30 135.27,180.88 135.27,189.99 133.78,190.48" fill="#eaeaea"/>
<polygon points="134.77,180.88 136.25,180.46 136.25,189.50 134.77,189.99" fill="#eaeaea"/>
<polygon points="135.75,180.46 137.24,180.03 137.24,189.00 135.75,189.50" fill="#eaeaea"/>
<polygon points="136.74,180.03 138.23,179.62 138.23,188.44 136.74,189.00" fill="#eaeaea"/>
<polygon points="137.73,179.62 139.22,179.22 139.22,187.86 137.73,188.44" fill="#eaeaea"/>
<polygon points="138.72,179.22 140.20,178.82 140.20,187.32 138.72,187.86" fill="#eaeaea"/>
<polygon points="139.70,178.82 141.19,178.40 141.19,186.83 139.70,187.32" fill="#e9e9e9"/>
<polygon points="140.69,178.40 142.18,177.95 142.18,186.34 140.69,186.83" fill="#e9e9e9"/>
<polygon points="141.68,177.95 143.16,177.47 143.16,185.86 141.68,186.34" fill="#e9e9e9"/>
<polygon points="142.66,177.47 144.15,176.98 144.15,185.40 142.66,185.86" fill="#e9e9e9"/>
<polygon points="143.65,176.98 145.14,176.50 145.14,184.94 143.65,185.40" fill="#e9e9e9"/>
<polygon points="144.64,176.50 146.13,176.03 146.13,184.51 144.64,184.94" fill="#e9e9e9"/>
<polygon points="145.63,176.03 147.11,175.58 147.11,184.09 145.63,184.51" fill="#e9e9e9"/>
<polygon points="146.61,175.58 148.10,175.14 148.10,183.68 146.61,184.09" fill="#eaeaea"/>
<polygon points="147.60,175.14 149.09,174.69 149.09,183.28 147.60,183.68" fill="#eaeaea"/>
<polygon points="148.59,174.69 150.08,174.23 150.08,182.88 148.59,183.28" fill="#eaeaea"/>
<polygon points="149.58,174.23 151.06,173.78 151.06,182.50 149.58,182.88" fill="#eaeaea"/>
<polygon points="150.56,173.78 152.05,173.35 152.05,182.13 150.56,182.50" fill="#eaeaea"/>
<polygon points="151.55,173.35 153.04,172.93 153.04,181.77 151.55,182.13" fill="#eaeaea"/>
<polygon points="152.54,172.93 154.02,172.55 154.02,181.43 152.54,181.77" fill="#eaeaea"/>
<polygon points="153.52,172.55 155.01,172.21 155.01,181.11 153.52,181.43" fill="#eaeaea"/>
<polygon points="154.51,172.21 156.00,171.90 156.00,180.80 154.51,181.11" fill="#eaeaea"/>
<polygon points="155.50,171.90 156.99,171.61 156.99,180.48 155.50,180.80" fill="#eaeaea"/>
<polygon points="156.49,171.61 157.97,171.33 157.97,180.16 156.49,180.48" fill="#eaeaea"/>
<polygon points="157.47,171.33 158.96,171.06 158.96,179.84 157.47,180.16" fill="#eaeaea"/>
<polygon points="158.46,171.06 159.95,170.80 159.95,179.52 158.46,179.84" fill="#eaeaea"/>
<polygon points="159.45,170.80 160.94,170.56 160.94,179.20 159.45,179.52" fill="#eaeaea"/>
<polygon points="160.44,170.56 161.92,170.33 161.92,178.90 160.44,179.20" fill="#eaeaea"/>
<polygon points="161.42,170.33 162.91,170.11 162.91,178.60 161.42,178.90" fill="#eaeaea"/>
<polygon points="162.41,170.11 163.90,169.91 163.90,178.31 162.41,178.60" fill="#e9e9e9"/>
<polygon points="163.40,169.91 164.89,169.75 164.89,178.04 163.40,178.31" fill="#e9e9e9"/>
<polygon points="164.39,169.75 165.87,169.63 165.87,177.77 164.39,178.04" fill="#e9e9e9"/>
<polygon points="165.37,169.63 166.86,169.51 166.86,177.49 165.37,177.77" fill="#e9e9e9"/>
<polygon points="166.36,169.51 167.85,169.37 167.85,177.21 166.36,177.49" fill="#e8e8e8"/>
<polygon points="167.35,169.37 168.83,169.18 168.83,176.93 167.35,177.21" fill="#e8e8e8"/>
<polygon points="168.33,169.18 169.82,168.97 169.82,176.65 168.33,176.93" fill="#e8e8e8"/>
<polygon points="169.32,168.97 170.81,168.76 170.81,176.36 169.32,176.65" fill="#e8e8e8"/>
<polygon points="170.31,168.76 171.80,168.54 171.80,176.07 170.31,176.36" fill="#e8e8e8"/>
<polygon points="171.30,168.54 172.78,168.32 172.78,175.78 171.30,176.07" fill="#e8e8e8"/>
<polygon points="172.28,168.32 173.77,168.09 173.77,175.49 172.28,175.78" fill="#e8e8e8"/>
<polygon points="173.27,168.09 174.76,167.86 174.76,175.20 173.27,175.49" fill="#e7e7e7"/>
<polygon points="174.26,167.86 175.75,167.62 175.75,174.91 174.26,175.20" fill="#e7e7e7"/>
<polygon points="175.25,167.62 176.73,167.39 176.73,174.62 175.25,174.91" fill="#e7e7e7"/>
<polygon points="176.23,167.39 177.72,167.15 177.72,174.34 176.23,174.62" fill="#e7e7e7"/>
<polygon points="177.22,167.15 178.71,166.92 178.71,174.06 177.22,174.34" fill="#e7e7e7"/>
<polygon points="178.21,166.92 179.69,166.69 179.69,173.79 178.21,174.06" fill="#e7e7e7"/>
<polygon points="179.19,166.69 180.68,166.46 180.68,173.53 179.19,173.79" fill="#e7e7e7"/>
<polygon points="180.18,166.46 181.67,166.23 181.67,173.28 180.18,173.53" fill="#e7e7e7"/>
<polygon points="181.17,166.23 182.66,166.00 182.66,173.05 181.17,173.28" fill="#e7e7e7"/>
<polygon points="182.16,166.00 183.64,165.78 183.64,172.82 182.16,173.05" fill="#e7e7e7"/>
<polygon points="183.14,165.78 184.63,165.55 184.63,172.60 183.14,172.82" fill="#e7e7e7"/>
<polygon points="184.13,165.55 185.62,165.32 185.62,172.38 184.13,172.60" fill="#e7e7e7"/>
<polygon points="185.12,165.32 186.61,165.09 186.61,172.15 185.12,172.38" fill="#e7e7e7"/>
<polygon points="186.11,165.09 187.59,164.85 187.59,171.93 186.11,172.15" fill="#e7e7e7"/>
<polygon points="187.09,164.85 188.58,164.62 188.58,171.69 187.09,171.93" fill="#e7e7e7"/>
<polygon points="188.08,164.62 189.57,164.38 189.57,171.44 188.08,171.69" fill="#e7e7e7"/>
<polygon points="189.07,164.38 190.55,164.15 190.55,171.17 189.07,171.44" fill="#e7e7e7"/>
<polygon points="190.05,164.15 191.54,163.90 191.54,170.88 190.05,171.17" fill="#e7e7e7"/>
<polygon points="191.04,163.90 192.53,163.65 192.53,170.55 191.04,170.88" fill="#e6e6e6"/>
<polygon points="192.03,163.65 193.52,163.40 193.52,170.18 192.03,170.55" fill="#e6e6e6"/>
<polygon points="193.02,163.40 194.50,163.14 194.50,169.77 193.02,170.18" fill="#e6e6e6"/>
<polygon points="194.00,163.14 195.49,162.87 195.49,169.34 194.00,169.77" fill="#e5e5e5"/>
<polygon points="194.99,162.87 196.48,162.61 196.48,168.90 194.99,169.34" fill="#e5e5e5"/>
<polygon points="195.98,162.61 197.47,162.35 197.47,168.46 195.98,168.90" fill="#e4e4e4"/>
<polygon points="196.97,162.35 198.45,162.09 198.45,168.01 196.97,168.46" fill="#e4e4e4"/>
<polygon points="197.95,162.09 199.44,161.84 199.44,167.58 197.95,168.01" fill="#e3e3e3"/>
<polygon points="198.94,161.84 200.43,161.59 200.43,167.17 198.94,167.58" fill="#e3e3e3"/>
<polygon points="199.93,161.59 201.41,161.36 201.41,166.79 199.93,167.17" fill="#e2e2e2"/>
<polygon points="200.91,161.36 202.40,161.13 202.40,166.45 200.91,166.79" fill="#e2e2e2"/>
<polygon points="201.90,161.13 203.39,160.93 203.39,166.15 201.90,166.45" fill="#e1e1e1"/>
<polygon points="202.89,160.93 204.38,160.77 204.38,165.88 202.89,166.15" fill="#e1e1e1"/>
<polygon points="203.88,160.77 205.36,160.61 205.36,165.62 203.88,165.88" fill="#e0e0e0"/>
<polygon points="204.86,160.61 206.35,160.44 206.35,165.36 204.86,165.62" fill="#e0e0e0"/>
<polygon points="205.85,160.44 207.34,160.24 207.34,165.09 205.85,165.36" fill="#dfdfdf"/>
<polygon points="206.84,160.24 208.33,159.98 208.33,164.77 206.84,165.09" fill="#dfdfdf"/>
<polygon points="207.83,159.98 209.31,159.66 209.31,164.39 207.83,164.77" fill="#dfdfdf"/>
<polygon points="208.81,159.66 210.30,159.30 210.30,163.96 208.81,164.39" fill="#dfdfdf"/>
<polygon points="209.80,159.30 211.29,158.92 211.29,163.51 209.80,163.96" fill="#dedede"/>
<polygon points="210.79,158.92 212.28,158.56 212.28,163.08 210.79,163.51" fill="#dedede"/>
<polygon points="211.78,158.56 213.26,158.23 213.26,162.73 211.78,163.08" fill="#dedede"/>
<polygon points="212.76,158.23 214.25,157.95 214.25,162.44 212.76,162.73" fill="#dddddd"/>
<polygon points="213.75,157.95 215.24,157.70 215.24,162.18 213.75,162.44" fill="#dddddd"/>
<polygon points="214.74,157.70 216.22,157.48 216.22,161.94 214.74,162.18" fill="#dddddd"/>
<polygon points="215.72,157.48 217.21,157.29 217.21,161.71 215.72,161.94" fill="#dddddd"/>
<polygon points="216.71,157.29 218.20,157.10 218.20,161.50 216.71,161.71" fill="#dddddd"/>
<polygon points="217.70,157.10 219.19,156.93 219.19,161.29 217.70,161.50" fill="#dddddd"/>
<polygon points="218.69,156.93 220.17,156.75 220.17,161.08 218.69,161.29" fill="#dddddd"/>
<polygon points="219.67,156.75 221.16,156.56 221.16,160.87 219.67,161.08" fill="#dcdcdc"/>
<polygon points="220.66,156.56 222.15,156.36 222.15,160.66 220.66,160.87" fill="#dcdcdc"/>
<polygon points="221.65,156.36 223.14,156.15 223.14,160.43 221.65,160.66" fill="#dcdcdc"/>
<polygon points="222.64,156.15 224.12,155.95 224.12,160.19 222.64,160.43" fill="#dcdcdc"/>
<polygon points="223.62,155.95 225.11,155.76 225.11,159.95 223.62,160.19" fill="#dcdcdc"/>
<polygon points="224.61,155.76 226.10,155.57 226.10,159.71 224.61,159.95" fill="#dbdbdb"/>
<polygon points="225.60,155.57 227.08,155.38 227.08,159.46 225.60,159.71" fill="#dbdbdb"/>
<polygon points="226.58,155.38 228.07,155.19 228.07,159.21 226.58,159.46" fill="#dbdbdb"/>
<polygon points="227.57,155.19 229.06,155.01 229.06,158.95 227.57,159.21" fill="#dadada"/>
<polygon points="228.56,155.01 230.05,154.83 230.05,158.70 228.56,158.95" fill="#dadada"/>
<polygon points="229.55,154.83 231.03,154.65 231.03,158.44 229.55,158.70" fill="#d9d9d9"/>
<polygon points="230.53,154.65 232.02,154.47 232.02,158.19 230.53,158.44" fill="#d8d8d8"/>
<polygon points="231.52,154.47 233.01,154.30 233.01,157.94 231.52,158.19" fill="#d8d8d8"/>
<polygon points="232.51,154.30 234.00,154.12 234.00,157.69 232.51,157.94" fill="#d7d7d7"/>
<polygon points="233.50,154.12 234.98,153.94 234.98,157.44 233.50,157.69" fill="#d6d6d6"/>
<polygon points="234.48,153.94 235.97,153.76 235.97,157.21 234.48,157.44" fill="#d6d6d6"/>
<polygon points="235.47,153.76 236.96,153.58 236.96,156.98 235.47,157.21" fill="#d5d5d5"/>
<polygon points="236.46,153.58 237.94,153.40 237.94,156.75 236.46,156.98" fill="#d5d5d5"/>
<polygon points="237.44,153.40 238.93,153.22 238.93,156.52 237.44,156.75" fill="#d4d4d4"/>
<polygon points="238.43,153.22 239.92,153.05 239.92,156.29 238.43,156.52" fill="#d4d4d4"/>
<polygon points="239.42,153.05 240.91,152.88 240.91,156.07 239.42,156.29" fill="#d3d3d3"/>
<polygon points="240.41,152.88 241.89,152.71 241.89,155.85 240.41,156.07" fill="#d3d3d3"/>
<polygon points="241.39,152.71 242.88,152.54 242.88,155.62 241.39,155.85" fill="#d2d2d2"/>
<polygon points="242.38,152.54 243.87,152.37 243.87,155.41 242.38,155.62" fill="#d1d1d1"/>
<polygon points="243.37,152.37 244.86,152.20 244.86,155.19 243.37,155.41" fill="#d1d1d1"/>
<polygon points="244.36,152.20 245.84,152.03 245.84,154.98 244.36,155.19" fill="#d0d0d0"/>
<polygon points="245.34,152.03 246.83,151.86 246.83,154.77 245.34,154.98" fill="#d0d0d0"/>
<polygon points="246.33,151.86 247.82,151.68 247.82,154.56 246.33,154.77" fill="#cfcfcf"/>
<polygon points="247.32,151.68 248.80,151.52 248.80,154.36 247.32,154.56" fill="#cfcfcf"/>
<polygon points="248.30,151.52 249.79,151.35 249.79,154.17 248.30,154.36" fill="#cecece"/>
<polygon points="249.29,151.35 250.78,151.18 250.78,153.98 249.29,154.17" fill="#cecece"/>
<polygon points="250.28,151.18 251.77,151.02 251.77,153.78 250.28,153.98" fill="#cecece"/>
<polygon points="251.27,151.02 252.75,150.85 252.75,153.59 251.27,153.78" fill="#cdcdcd"/>
<polygon points="252.25,150.85 253.74,150.68 253.74,153.39 252.25,153.59" fill="#cdcdcd"/>
<polygon points="253.24,150.68 254.73,150.50 254.73,153.19 253.24,153.39" fill="#cccccc"/>
<polygon points="254.23,150.50 255.72,150.32 255.72,152.98 254.23,153.19" fill="#cccccc"/>
<polygon points="255.22,150.32 256.70,150.13 256.70,152.75 255.22,152.98" fill="#cbcbcb"/>
<polygon points="256.20,150.13 257.69,149.93 257.69,152.52 256.20,152.75" fill="#cbcbcb"/>
<polygon points="257.19,149.93 258.68,149.75 258.68,152.28 257.19,152.52" fill="#cacaca"/>
<polygon points="258.18,149.75 259.67,149.56 259.67,152.03 258.18,152.28" fill="#c9c9c9"/>
<polygon points="259.17,149.56 260.65,149.33 260.65,151.75 259.17,152.03" fill="#c8c8c8"/>
<polygon points="260.15,149.33 261.64,149.00 261.64,151.40 260.15,151.75" fill="#c7c7c7"/>
<polygon points="261.14,149.00 262.63,148.33 262.63,150.95 261.14,151.40" fill="#c9c9c9"/>
<polygon points="262.13,148.33 263.61,147.24 263.61,150.38 262.13,150.95" fill="#cfcfcf"/>
<polygon points="263.11,147.24 264.60,145.97 264.60,149.76 263.11,150.38" fill="#d6d6d6"/>
<polygon points="264.10,145.97 265.59,144.77 265.59,149.12 264.10,149.76" fill="#dbdbdb"/>
<polygon points="265.09,144.77 266.58,143.81 266.58,148.52 265.09,149.12" fill="#dedede"/>
<polygon points="266.08,143.81 267.56,142.92 267.56,147.94 266.08,148.52" fill="#dfdfdf"/>
<polygon points="267.06,142.92 268.55,142.05 268.55,147.36 267.06,147.94" fill="#e1e1e1"/>
<polygon points="268.05,142.05 269.54,141.21 269.54,146.78 268.05,147.36" fill="#e2e2e2"/>
<polygon points="269.04,141.21 270.53,140.40 270.53,146.19 269.04,146.78" fill="#e3e3e3"/>
<polygon points="270.03,140.40 271.51,139.61 271.51,145.59 270.03,146.19" fill="#e3e3e3"/>
<polygon points="271.01,139.61 272.50,138.82 272.50,144.96 271.01,145.59" fill="#e4e4e4"/>
<polygon points="272.00,138.82 273.49,138.03 273.49,144.33 272.00,144.96" fill="#e5e5e5"/>
<polygon points="272.99,138.03 274.47,137.23 274.47,143.68 272.99,144.33" fill="#e5e5e5"/>
<polygon points="273.97,137.23 275.46,136.44 275.46,143.03 273.97,143.68" fill="#e5e5e5"/>
<polygon points="274.96,136.44 276.45,135.66 276.45,142.37 274.96,143.03" fill="#e6e6e6"/>
<polygon points="275.95,135.66 277.44,134.90 277.44,141.72 275.95,142.37" fill="#e6e6e6"/>
<polygon points="276.94,134.90 278.42,134.16 278.42,141.08 276.94,141.72" fill="#e6e6e6"/>
<polygon points="277.92,134.16 279.41,133.46 279.41,140.45 277.92,141.08" fill="#e6e6e6"/>
<polygon points="278.91,133.46 280.40,132.80 280.40,139.83 278.91,140.45" fill="#e7e7e7"/>
<polygon points="279.90,132.80 281.39,132.17 281.39,139.22 279.90,139.83" fill="#e7e7e7"/>
<polygon points="280.89,132.17 282.37,131.57 282.37,138.62 280.89,139.22" fill="#e7e7e7"/>
<polygon points="281.87,131.57 283.36,130.99 283.36,138.02 281.87,138.62" fill="#e7e7e7"/>
<polygon points="282.86,130.99 284.35,130.43 284.35,137.43 282.86,138.02" fill="#e7e7e7"/>
<polygon points="283.85,130.43 285.33,129.90 285.33,136.84 283.85,137.43" fill="#e6e6e6"/>
<polygon points="284.83,129.90 286.32,129.37 286.32,136.25 284.83,136.84" fill="#e6e6e6"/>
<polygon points="285.82,129.37 287.31,128.86 287.31,135.66 285.82,136.25" fill="#e6e6e6"/>
<polygon points="286.81,128.86 288.30,128.35 288.30,135.08 286.81,135.66" fill="#e6e6e6"/>
<polygon points="287.80,128.35 289.28,127.85 289.28,134.50 287.80,135.08" fill="#e6e6e6"/>
<polygon points="288.78,127.85 290.27,127.35 290.27,133.92 288.78,134.50" fill="#e6e6e6"/>
<polygon points="289.77,127.35 291.26,126.84 291.26,133.34 289.77,133.92" fill="#e5e5e5"/>
<polygon points="290.76,126.84 292.25,126.35 292.25,132.74 290.76,133.34" fill="#e5e5e5"/>
<polygon points="291.75,126.35 293.23,125.87 293.23,132.12 291.75,132.74" fill="#e5e5e5"/>
<polygon points="292.73,125.87 294.22,125.39 294.22,131.49 292.73,132.12" fill="#e4e4e4"/>
<polygon points="293.72,125.39 295.21,124.93 295.21,130.83 293.72,131.49" fill="#e4e4e4"/>
<polygon points="294.71,124.93 296.19,124.47 296.19,130.17 294.71,130.83" fill="#e3e3e3"/>
<polygon points="295.69,124.47 297.18,124.01 297.18,129.49 295.69,130.17" fill="#e2e2e2"/>
<polygon points="296.68,124.01 298.17,123.56 298.17,128.80 296.68,129.49" fill="#e2e2e2"/>
<polygon points="297.67,123.56 299.16,123.11 299.16,128.11 297.67,128.80" fill="#e1e1e1"/>
<polygon points="298.66,123.11 300.14,122.65 300.14,127.41 298.66,128.11" fill="#dfdfdf"/>
<polygon points="299.64,122.65 301.13,122.18 301.13,126.71 299.64,127.41" fill="#dedede"/>
<polygon points="300.63,122.18 302.12,121.71 302.12,126.01 300.63,126.71" fill="#dddddd"/>
<polygon points="301.62,121.71 303.11,121.23 303.11,125.29 301.62,126.01" fill="#dbdbdb"/>
<polygon points="302.61,121.23 304.09,120.78 304.09,124.52 302.61,125.29" fill="#d9d9d9"/>
<polygon points="303.59,120.78 305.08,120.34 305.08,123.74 303.59,124.52" fill="#d7d7d7"/>
<polygon points="304.58,120.34 306.07,119.87 306.07,123.00 304.58,123.74" fill="#d4d4d4"/>
<polygon points="305.57,119.87 307.06,119.35 307.06,122.35 305.57,123.00" fill="#d1d1d1"/>
<polygon points="306.56,119.35 308.04,118.74 308.04,121.83 306.56,122.35" fill="#d1d1d1"/>
<polygon points="307.54,118.74 309.03,118.04 309.03,121.36 307.54,121.83" fill="#d3d3d3"/>
<polygon points="308.53,118.04 310.02,117.35 310.02,120.91 308.53,121.36" fill="#d6d6d6"/>
<polygon points="309.52,117.35 311.00,116.72 311.00,120.46 309.52,120.91" fill="#d7d7d7"/>
<polygon points="310.50,116.72 311.99,116.08 311.99,120.01 310.50,120.46" fill="#d9d9d9"/>
<polygon points="311.49,116.08 312.98,115.44 312.98,119.58 311.49,120.01" fill="#dbdbdb"/>
<polygon points="312.48,115.44 313.97,114.81 313.97,119.16 312.48,119.58" fill="#dcdcdc"/>
<polygon points="313.47,114.81 314.95,114.19 314.95,118.74 313.47,119.16" fill="#dddddd"/>
<polygon points="314.45,114.19 315.94,113.57 315.94,118.34 314.45,118.74" fill="#dedede"/>
<polygon points="315.44,113.57 316.93,112.96 316.93,117.93 315.44,118.34" fill="#dfdfdf"/>
<polygon points="316.43,112.96 317.92,112.36 317.92,117.53 316.43,117.93" fill="#e0e0e0"/>
<polygon points="317.42,112.36 318.90,111.77 318.90,117.14 317.42,117.53" fill="#e1e1e1"/>
<polygon points="318.40,111.77 319.89,111.20 319.89,116.74 318.40,117.14" fill="#e2e2e2"/>
<polygon points="319.39,111.20 320.88,110.65 320.88,116.35 319.39,116.74" fill="#e3e3e3"/>
<polygon points="320.38,110.65 321.86,110.10 321.86,115.96 320.38,116.35" fill="#e3e3e3"/>
<polygon points="321.36,110.10 322.85,109.56 322.85,115.57 321.36,115.96" fill="#e4e4e4"/>
<polygon points="322.35,109.56 323.84,109.04 323.84,115.18 322.35,115.57" fill="#e4e4e4"/>
<polygon points="323.34,109.04 324.83,108.52 324.83,114.79 323.34,115.18" fill="#e4e4e4"/>
<polygon points="324.33,108.52 325.81,108.00 325.81,114.40 324.33,114.79" fill="#e5e5e5"/>
<polygon points="325.31,108.00 326.80,107.50 326.80,114.01 325.31,114.40" fill="#e5e5e5"/>
<polygon points="326.30,107.50 327.79,107.01 327.79,113.63 326.30,114.01" fill="#e5e5e5"/>
<polygon points="327.29,107.01 328.78,106.53 328.78,113.25 327.29,113.63" fill="#e6e6e6"/>
<polygon points="328.28,106.53 329.76,106.06 329.76,112.87 328.28,113.25" fill="#e6e6e6"/>
<polygon points="329.26,106.06 330.75,105.60 330.75,112.50 329.26,112.87" fill="#e6e6e6"/>
<polygon points="35.05,273.95 36.54,273.33 36.54,273.91 35.05,274.25" fill="#a5a5a5"/>
<polygon points="36.04,273.33 37.52,272.73 37.52,273.56 36.04,273.91" fill="#a5a5a5"/>
<polygon points="37.02,272.73 38.51,272.15 38.51,273.20 37.02,273.56" fill="#a5a5a5"/>
<polygon points="38.01,272.15 39.50,271.58 39.50,272.86 38.01,273.20" fill="#a5a5a5"/>
<polygon points="39.00,271.58 40.49,271.02 40.49,272.52 39.00,272.86" fill="#a5a5a5"/>
<polygon points="39.99,271.02 41.47,270.48 41.47,272.16 39.99,272.52" fill="#b0b0b0"/>
<polygon points="40.97,270.48 42.46,269.95 42.46,271.74 40.97,272.16" fill="#b7b7b7"/>
<polygon points="41.96,269.95 43.45,269.45 43.45,271.24 41.96,271.74" fill="#b9b9b9"/>
<polygon points="42.95,269.45 44.44,268.99 44.44,270.71 42.95,271.24" fill="#b8b8b8"/>
<polygon points="43.94,268.99 45.42,268.55 45.42,270.14 43.94,270.71" fill="#b4b4b4"/>
<polygon points="44.92,268.55 46.41,268.10 46.41,269.55 44.92,270.14" fill="#adadad"/>
<polygon points="45.91,268.10 47.40,267.64 47.40,268.93 45.91,269.55" fill="#a5a5a5"/>
<polygon points="46.90,267.64 48.38,267.14 48.38,268.29 46.90,268.93" fill="#a5a5a5"/>
<polygon points="47.88,267.14 49.37,266.59 49.37,267.64 47.88,268.29" fill="#a5a5a5"/>
<polygon points="48.87,266.59 50.36,265.96 50.36,266.96 48.87,267.64" fill="#a5a5a5"/>
<polygon points="49.86,265.96 51.35,265.16 51.35,266.31 49.86,266.96" fill="#a5a5a5"/>
<polygon points="50.85,265.16 52.33,264.13 52.33,265.70 50.85,266.31" fill="#a5a5a5"/>
<polygon points="51.83,264.13 53.32,262.97 53.32,265.09 51.83,265.70" fill="#bbbbbb"/>
<polygon points="52.82,262.97 54.31,261.78 54.31,264.46 52.82,265.09" fill="#cbcbcb"/>
<polygon points="53.81,261.78 55.30,260.66 55.30,263.76 53.81,264.46" fill="#d4d4d4"/>
<polygon points="54.80,260.66 56.28,259.68 56.28,262.96 54.80,263.76" fill="#d8d8d8"/>
<polygon points="55.78,259.68 57.27,258.70 57.27,262.13 55.78,262.96" fill="#dadada"/>
<polygon points="56.77,258.70 58.26,257.71 58.26,261.28 56.77,262.13" fill="#dbdbdb"/>
<polygon points="57.76,257.71 59.24,256.74 59.24,260.41 57.76,261.28" fill="#dcdcdc"/>
<polygon points="58.74,256.74 60.23,255.79 60.23,259.54 58.74,260.41" fill="#dddddd"/>
<polygon points="59.73,255.79 61.22,254.87 61.22,258.67 59.73,259.54" fill="#dedede"/>
<polygon points="60.72,254.87 62.21,254.00 62.21,257.80 60.72,258.67" fill="#dedede"/>
<polygon points="61.71,254.00 63.19,253.17 63.19,256.95 61.71,257.80" fill="#dedede"/>
<polygon points="62.69,253.17 64.18,252.35 64.18,256.10 62.69,256.95" fill="#dedede"/>
<polygon points="63.68,252.35 65.17,251.55 65.17,255.26 63.68,256.10" fill="#dddddd"/>
<polygon points="64.67,251.55 66.16,250.77 66.16,254.42 64.67,255.26" fill="#dddddd"/>
<polygon points="65.66,250.77 67.14,249.99 67.14,253.58 65.66,254.42" fill="#dcdcdc"/>
<polygon points="66.64,249.99 68.13,249.22 68.13,252.74 66.64,253.58" fill="#dcdcdc"/>
<polygon points="67.63,249.22 69.12,248.50 69.12,251.87 67.63,252.74" fill="#dbdbdb"/>
<polygon points="68.62,248.50 70.11,247.89 70.11,250.95 68.62,251.87" fill="#d8d8d8"/>
<polygon points="69.61,247.89 71.09,247.34 71.09,249.98 69.61,250.95" fill="#d3d3d3"/>
<polygon points="70.59,247.34 72.08,246.81 72.08,248.99 70.59,249.98" fill="#cbcbcb"/>
<polygon points="71.58,246.81 73.07,246.24 73.07,248.00 71.58,248.99" fill="#c0c0c0"/>
<polygon points="72.57,246.24 74.05,245.57 74.05,247.01 72.57,248.00" fill="#b1b1b1"/>
<polygon points="73.55,245.57 75.04,244.75 75.04,246.05 73.55,247.01" fill="#a5a5a5"/>
<polygon points="74.54,244.75 76.03,243.72 76.03,245.14 74.54,246.05" fill="#a5a5a5"/>
<polygon points="75.53,243.72 77.02,242.50 77.02,244.28 75.53,245.14" fill="#b1b1b1"/>
<polygon points="76.52,242.50 78.00,241.14 78.00,243.43 76.52,244.28" fill="#c2c2c2"/>
<polygon points="77.50,241.14 78.99,239.72 78.99,242.54 77.50,243.43" fill="#cecece"/>
<polygon points="78.49,239.72 79.98,238.29 79.98,241.58 78.49,242.54" fill="#d6d6d6"/>
<polygon points="79.48,238.29 80.97,236.93 80.97,240.49 79.48,241.58" fill="#dadada"/>
<polygon points="80.47,236.93 81.95,235.67 81.95,239.26 80.47,240.49" fill="#dcdcdc"/>
<polygon points="81.45,235.67 82.94,234.42 82.94,237.95 81.45,239.26" fill="#dcdcdc"/>
<polygon points="82.44,234.42 83.93,233.14 83.93,236.57 82.44,237.95" fill="#dbdbdb"/>
<polygon points="83.43,233.14 84.91,231.82 84.91,235.12 83.43,236.57" fill="#dadada"/>
<polygon points="84.41,231.82 85.90,230.45 85.90,233.57 84.41,235.12" fill="#d8d8d8"/>
<polygon points="85.40,230.45 86.89,228.99 86.89,231.89 85.40,233.57" fill="#d6d6d6"/>
<polygon points="86.39,228.99 87.88,227.44 87.88,229.82 86.39,231.89" fill="#d0d0d0"/>
<polygon points="87.38,227.44 88.86,225.84 88.86,227.58 87.38,229.82" fill="#c2c2c2"/>
<polygon points="88.36,225.84 89.85,224.27 89.85,225.54 88.36,227.58" fill="#acacac"/>
<polygon points="89.35,224.27 90.84,222.77 90.84,224.01 89.35,225.54" fill="#a5a5a5"/>
<polygon points="90.34,222.77 91.83,221.35 91.83,222.85 90.34,224.01" fill="#a5a5a5"/>
<polygon points="91.33,221.35 92.81,219.94 92.81,221.80 91.33,222.85" fill="#b5b5b5"/>
<polygon points="92.31,219.94 93.80,218.47 93.80,220.63 92.31,221.80" fill="#c1c1c1"/>
<polygon points="93.30,218.47 94.79,216.92 94.79,219.40 93.30,220.63" fill="#c9c9c9"/>
<polygon points="94.29,216.92 95.77,215.35 95.77,218.15 94.29,219.40" fill="#d0d0d0"/>
<polygon points="95.27,215.35 96.76,213.82 96.76,216.93 95.27,218.15" fill="#d5d5d5"/>
<polygon points="96.26,213.82 97.75,212.42 97.75,215.78 96.26,216.93" fill="#d8d8d8"/>
<polygon points="97.25,212.42 98.74,211.19 98.74,214.77 97.25,215.78" fill="#dbdbdb"/>
<polygon points="98.24,211.19 99.72,210.09 99.72,213.84 98.24,214.77" fill="#dddddd"/>
<polygon points="99.22,210.09 100.71,209.07 100.71,212.99 99.22,213.84" fill="#dedede"/>
<polygon points="100.21,209.07 101.70,208.11 101.70,212.17 100.21,212.99" fill="#e0e0e0"/>
<polygon points="101.20,208.11 102.69,207.18 102.69,211.36 101.20,212.17" fill="#e1e1e1"/>
<polygon points="102.19,207.18 103.67,206.25 103.67,210.54 102.19,211.36" fill="#e2e2e2"/>
<polygon points="103.17,206.25 104.66,205.31 104.66,209.69 103.17,210.54" fill="#e2e2e2"/>
<polygon points="104.16,205.31 105.65,204.37 105.65,208.84 104.16,209.69" fill="#e3e3e3"/>
<polygon points="105.15,204.37 106.63,203.45 106.63,207.99 105.15,208.84" fill="#e3e3e3"/>
<polygon points="106.13,203.45 107.62,202.54 107.62,207.15 106.13,207.99" fill="#e4e4e4"/>
<polygon points="107.12,202.54 108.61,201.63 108.61,206.30 107.12,207.15" fill="#e4e4e4"/>
<polygon points="108.11,201.63 109.60,200.74 109.60,205.46 108.11,206.30" fill="#e4e4e4"/>
<polygon points="109.10,200.74 110.58,199.85 110.58,204.61 109.10,205.46" fill="#e5e5e5"/>
<polygon points="110.08,199.85 111.57,198.95 111.57,203.76 110.08,204.61" fill="#e5e5e5"/>
<polygon points="111.07,198.95 112.56,198.05 112.56,202.92 111.07,203.76" fill="#e5e5e5"/>
<polygon points="112.06,198.05 113.55,197.15 113.55,202.07 112.06,202.92" fill="#e5e5e5"/>
<polygon points="113.05,197.15 114.53,196.26 114.53,201.22 113.05,202.07" fill="#e6e6e6"/>
<polygon points="114.03,196.26 115.52,195.38 115.52,200.37 114.03,201.22" fill="#e6e6e6"/>
<polygon points="115.02,195.38 116.51,194.53 116.51,199.53 115.02,200.37" fill="#e6e6e6"/>
<polygon points="116.01,194.53 117.50,193.68 117.50,198.69 116.01,199.53" fill="#e6e6e6"/>
<polygon points="117.00,193.68 118.48,192.84 118.48,197.85 117.00,198.69" fill="#e6e6e6"/>
<polygon points="117.98,192.84 119.47,192.01 119.47,197.03 117.98,197.85" fill="#e6e6e6"/>
<polygon points="118.97,192.01 120.46,191.19 120.46,196.23 118.97,197.03" fill="#e6e6e6"/>
<polygon points="119.96,191.19 121.44,190.40 121.44,195.44 119.96,196.23" fill="#e6e6e6"/>
<polygon points="120.94,190.40 122.43,189.63 122.43,194.68 120.94,195.44" fill="#e6e6e6"/>
<polygon points="121.93,189.63 123.42,188.91 123.42,193.95 121.93,194.68" fill="#e6e6e6"/>
<polygon points="122.92,188.91 124.41,188.23 124.41,193.25 122.92,193.95" fill="#e6e6e6"/>
<polygon points="123.91,188.23 125.39,187.61 125.39,192.58 123.91,193.25" fill="#e6e6e6"/>
<polygon points="124.89,187.61 126.38,187.03 126.38,191.93 124.89,192.58" fill="#e6e6e6"/>
<polygon points="125.88,187.03 127.37,186.48 127.37,191.30 125.88,191.93" fill="#e5e5e5"/>
<polygon points="126.87,186.48 128.36,185.95 128.36,190.71 126.87,191.30" fill="#e5e5e5"/>
<polygon points="127.86,185.95 129.34,185.42 129.34,190.14 127.86,190.71" fill="#e5e5e5"/>
<polygon points="128.84,185.42 130.33,184.90 130.33,189.59 128.84,190.14" fill="#e4e4e4"/>
<polygon points="129.83,184.90 131.32,184.40 131.32,189.08 129.83,189.59" fill="#e4e4e4"/>
<polygon points="130.82,184.40 132.30,183.94 132.30,188.59 130.82,189.08" fill="#e4e4e4"/>
<polygon points="131.80,183.94 133.29,183.49 133.29,188.11 131.80,188.59" fill="#e4e4e4"/>
<polygon points="132.79,183.49 134.28,183.05 134.28,187.65 132.79,188.11" fill="#e4e4e4"/>
<polygon points="133.78,183.05 135.27,182.63 135.27,187.19 133.78,187.65" fill="#e4e4e4"/>
<polygon points="134.77,182.63 136.25,182.21 136.25,186.73 134.77,187.19" fill="#e3e3e3"/>
<polygon points="135.75,182.21 137.24,181.78 137.24,186.26 135.75,186.73" fill="#e3e3e3"/>
<polygon points="136.74,181.78 138.23,181.37 138.23,185.78 136.74,186.26" fill="#e3e3e3"/>
<polygon points="137.73,181.37 139.22,180.97 139.22,185.29 137.73,185.78" fill="#e2e2e2"/>
<polygon points="138.72,180.97 140.20,180.57 140.20,184.82 138.72,185.29" fill="#e2e2e2"/>
<polygon points="139.70,180.57 141.19,180.16 141.19,184.37 139.70,184.82" fill="#e1e1e1"/>
<polygon points="140.69,180.16 142.18,179.73 142.18,183.93 140.69,184.37" fill="#e1e1e1"/>
<polygon points="141.68,179.73 143.16,179.29 143.16,183.48 141.68,183.93" fill="#e1e1e1"/>
<polygon points="142.66,179.29 144.15,178.85 144.15,183.05 142.66,183.48" fill="#e1e1e1"/>
<polygon points="143.65,178.85 145.14,178.41 145.14,182.63 143.65,183.05" fill="#e1e1e1"/>
<polygon points="144.64,178.41 146.13,177.99 146.13,182.23 144.64,182.63" fill="#e1e1e1"/>
<polygon points="145.63,177.99 147.11,177.60 147.11,181.85 145.63,182.23" fill="#e2e2e2"/>
<polygon points="146.61,177.60 148.10,177.21 148.10,181.48 146.61,181.85" fill="#e2e2e2"/>
<polygon points="147.60,177.21 149.09,176.83 149.09,181.12 147.60,181.48" fill="#e2e2e2"/>
<polygon points="148.59,176.83 150.08,176.45 150.08,180.77 148.59,181.12" fill="#e2e2e2"/>
<polygon points="149.58,176.45 151.06,176.08 151.06,180.44 149.58,180.77" fill="#e2e2e2"/>
<polygon points="150.56,176.08 152.05,175.71 152.05,180.10 150.56,180.44" fill="#e2e2e2"/>
<polygon points="151.55,175.71 153.04,175.36 153.04,179.78 151.55,180.10" fill="#e3e3e3"/>
<polygon points="152.54,175.36 154.02,175.03 154.02,179.47 152.54,179.78" fill="#e3e3e3"/>
<polygon points="153.52,175.03 155.01,174.71 155.01,179.15 153.52,179.47" fill="#e3e3e3"/>
<polygon points="154.51,174.71 156.00,174.40 156.00,178.85 154.51,179.15" fill="#e3e3e3"/>
<polygon points="155.50,174.40 156.99,174.10 156.99,178.53 155.50,178.85" fill="#e3e3e3"/>
<polygon points="156.49,174.10 157.97,173.79 157.97,178.21 156.49,178.53" fill="#e3e3e3"/>
<polygon points="157.47,173.79 158.96,173.50 158.96,177.89 157.47,178.21" fill="#e3e3e3"/>
<polygon points="158.46,173.50 159.95,173.21 159.95,177.57 158.46,177.89" fill="#e2e2e2"/>
<polygon points="159.45,173.21 160.94,172.93 160.94,177.25 159.45,177.57" fill="#e2e2e2"/>
<polygon points="160.44,172.93 161.92,172.66 161.92,176.95 160.44,177.25" fill="#e2e2e2"/>
<polygon points="161.42,172.66 162.91,172.41 162.91,176.65 161.42,176.95" fill="#e2e2e2"/>
<polygon points="162.41,172.41 163.90,172.16 163.90,176.36 162.41,176.65" fill="#e1e1e1"/>
<polygon points="163.40,172.16 164.89,171.95 164.89,176.09 163.40,176.36" fill="#e1e1e1"/>
<polygon points="164.39,171.95 165.87,171.76 165.87,175.83 164.39,176.09" fill="#e1e1e1"/>
<polygon points="165.37,171.76 166.86,171.58 166.86,175.57 165.37,175.83" fill="#e0e0e0"/>
<polygon points="166.36,171.58 167.85,171.39 167.85,175.31 166.36,175.57" fill="#dfdfdf"/>
<polygon points="167.35,171.39 168.83,171.17 168.83,175.04 167.35,175.31" fill="#dfdfdf"/>
<polygon points="168.33,171.17 169.82,170.93 169.82,174.77 168.33,175.04" fill="#dfdfdf"/>
<polygon points="169.32,170.93 170.81,170.70 170.81,174.50 169.32,174.77" fill="#dedede"/>
<polygon points="170.31,170.70 171.80,170.46 171.80,174.23 170.31,174.50" fill="#dedede"/>
<polygon points="171.30,170.46 172.78,170.22 172.78,173.95 171.30,174.23" fill="#dedede"/>
<polygon points="172.28,170.22 173.77,169.98 173.77,173.68 172.28,173.95" fill="#dddddd"/>
<polygon points="173.27,169.98 174.76,169.73 174.76,173.41 173.27,173.68" fill="#dddddd"/>
<polygon points="174.26,169.73 175.75,169.49 175.75,173.13 174.26,173.41" fill="#dddddd"/>
<polygon points="175.25,169.49 176.73,169.24 176.73,172.86 175.25,173.13" fill="#dddddd"/>
<polygon points="176.23,169.24 177.72,168.99 177.72,172.58 176.23,172.86" fill="#dcdcdc"/>
<polygon points="177.22,168.99 178.71,168.74 178.71,172.31 177.22,172.58" fill="#dcdcdc"/>
<polygon points="178.21,168.74 179.69,168.49 179.69,172.04 178.21,172.31" fill="#dcdcdc"/>
<polygon points="179.19,168.49 180.68,168.24 180.68,171.77 179.19,172.04" fill="#dcdcdc"/>
<polygon points="180.18,168.24 181.67,167.99 181.67,171.51 180.18,171.77" fill="#dcdcdc"/>
<polygon points="181.17,167.99 182.66,167.73 182.66,171.25 181.17,171.51" fill="#dcdcdc"/>
<polygon points="182.16,167.73 183.64,167.48 183.64,171.00 182.16,171.25" fill="#dcdcdc"/>
<polygon points="183.14,167.48 184.63,167.22 184.63,170.75 183.14,171.00" fill="#dcdcdc"/>
<polygon points="184.13,167.22 185.62,166.96 185.62,170.49 184.13,170.75" fill="#dcdcdc"/>
<polygon points="185.12,166.96 186.61,166.71 186.61,170.24 185.12,170.49" fill="#dcdcdc"/>
<polygon points="186.11,166.71 187.59,166.45 187.59,169.98 186.11,170.24" fill="#dcdcdc"/>
<polygon points="187.09,166.45 188.58,166.19 188.58,169.72 187.09,169.98" fill="#dcdcdc"/>
<polygon points="188.08,166.19 189.57,165.92 189.57,169.45 188.08,169.72" fill="#dcdcdc"/>
<polygon points="189.07,165.92 190.55,165.66 190.55,169.17 189.07,169.45" fill="#dbdbdb"/>
<polygon points="190.05,165.66 191.54,165.39 191.54,168.88 190.05,169.17" fill="#dbdbdb"/>
<polygon points="191.04,165.39 192.53,165.12 192.53,168.57 191.04,168.88" fill="#dbdbdb"/>
<polygon points="192.03,165.12 193.52,164.84 193.52,168.23 192.03,168.57" fill="#dadada"/>
<polygon points="193.02,164.84 194.50,164.56 194.50,167.88 193.02,168.23" fill="#dadada"/>
<polygon points="194.00,164.56 195.49,164.28 195.49,167.51 194.00,167.88" fill="#d9d9d9"/>
<polygon points="194.99,164.28 196.48,163.99 196.48,167.14 194.99,167.51" fill="#d8d8d8"/>
<polygon points="195.98,163.99 197.47,163.71 197.47,166.76 195.98,167.14" fill="#d7d7d7"/>
<polygon points="196.97,163.71 198.45,163.43 198.45,166.39 196.97,166.76" fill="#d5d5d5"/>
<polygon points="197.95,163.43 199.44,163.16 199.44,166.03 197.95,166.39" fill="#d4d4d4"/>
<polygon points="198.94,163.16 200.43,162.89 200.43,165.68 198.94,166.03" fill="#d3d3d3"/>
<polygon points="199.93,162.89 201.41,162.63 201.41,165.35 199.93,165.68" fill="#d2d2d2"/>
<polygon points="200.91,162.63 202.40,162.39 202.40,165.04 200.91,165.35" fill="#d0d0d0"/>
<polygon points="201.90,162.39 203.39,162.16 203.39,164.77 201.90,165.04" fill="#d0d0d0"/>
<polygon points="202.89,162.16 204.38,161.96 204.38,164.52 202.89,164.77" fill="#cfcfcf"/>
<polygon points="203.88,161.96 205.36,161.77 205.36,164.27 203.88,164.52" fill="#cecece"/>
<polygon points="204.86,161.77 206.35,161.57 206.35,164.03 204.86,164.27" fill="#cdcdcd"/>
<polygon points="205.85,161.57 207.34,161.34 207.34,163.77 205.85,164.03" fill="#cccccc"/>
<polygon points="206.84,161.34 208.33,161.08 208.33,163.48 206.84,163.77" fill="#cbcbcb"/>
<polygon points="207.83,161.08 209.31,160.76 209.31,163.13 207.83,163.48" fill="#cbcbcb"/>
<polygon points="208.81,160.76 210.30,160.40 210.30,162.73 208.81,163.13" fill="#cacaca"/>
<polygon points="209.80,160.40 211.29,160.02 211.29,162.31 209.80,162.73" fill="#c9c9c9"/>
<polygon points="210.79,160.02 212.28,159.66 212.28,161.92 210.79,162.31" fill="#c8c8c8"/>
<polygon points="211.78,159.66 213.26,159.33 213.26,161.58 211.78,161.92" fill="#c8c8c8"/>
<polygon points="212.76,159.33 214.25,159.04 214.25,161.29 212.76,161.58" fill="#c7c7c7"/>
<polygon points="213.75,159.04 215.24,158.78 215.24,161.02 213.75,161.29" fill="#c7c7c7"/>
<polygon points="214.74,158.78 216.22,158.54 216.22,160.76 214.74,161.02" fill="#c7c7c7"/>
<polygon points="215.72,158.54 217.21,158.31 217.21,160.52 215.72,160.76" fill="#c7c7c7"/>
<polygon points="216.71,158.31 218.20,158.09 218.20,160.29 216.71,160.52" fill="#c6c6c6"/>
<polygon points="217.70,158.09 219.19,157.88 219.19,160.06 217.70,160.29" fill="#c6c6c6"/>
<polygon points="218.69,157.88 220.17,157.68 220.17,159.84 218.69,160.06" fill="#c6c6c6"/>
<polygon points="219.67,157.68 221.16,157.47 221.16,159.63 219.67,159.84" fill="#c5c5c5"/>
<polygon points="220.66,157.47 222.15,157.26 222.15,159.41 220.66,159.63" fill="#c5c5c5"/>
<polygon points="221.65,157.26 223.14,157.05 223.14,159.18 221.65,159.41" fill="#c5c5c5"/>
<polygon points="222.64,157.05 224.12,156.84 224.12,158.96 222.64,159.18" fill="#c4c4c4"/>
<polygon points="223.62,156.84 225.11,156.64 225.11,158.74 223.62,158.96" fill="#c4c4c4"/>
<polygon points="224.61,156.64 226.10,156.45 226.10,158.52 224.61,158.74" fill="#c3c3c3"/>
<polygon points="225.60,156.45 227.08,156.26 227.08,158.30 225.60,158.52" fill="#c2c2c2"/>
<polygon points="226.58,156.26 228.07,156.07 228.07,158.08 226.58,158.30" fill="#c1c1c1"/>
<polygon points="227.57,156.07 229.06,155.89 229.06,157.86 227.57,158.08" fill="#c0c0c0"/>
<polygon points="228.56,155.89 230.05,155.70 230.05,157.64 228.56,157.86" fill="#bfbfbf"/>
<polygon points="229.55,155.70 231.03,155.52 231.03,157.42 229.55,157.64" fill="#bebebe"/>
<polygon points="230.53,155.52 232.02,155.34 232.02,157.20 230.53,157.42" fill="#bcbcbc"/>
<polygon points="231.52,155.34 233.01,155.16 233.01,156.98 231.52,157.20" fill="#bbbbbb"/>
<polygon points="232.51,155.16 234.00,154.98 234.00,156.77 232.51,156.98" fill="#bababa"/>
<polygon points="233.50,154.98 234.98,154.80 234.98,156.55 233.50,156.77" fill="#b8b8b8"/>
<polygon points="234.48,154.80 235.97,154.62 235.97,156.34 234.48,156.55" fill="#b7b7b7"/>
<polygon points="235.47,154.62 236.96,154.43 236.96,156.13 235.47,156.34" fill="#b6b6b6"/>
<polygon points="236.46,154.43 237.94,154.24 237.94,155.92 236.46,156.13" fill="#b5b5b5"/>
<polygon points="237.44,154.24 238.93,154.06 238.93,155.71 237.44,155.92" fill="#b4b4b4"/>
<polygon points="238.43,154.06 239.92,153.88 239.92,155.50 238.43,155.71" fill="#b3b3b3"/>
<polygon points="239.42,153.88 240.91,153.70 240.91,155.29 239.42,155.50" fill="#b1b1b1"/>
<polygon points="240.41,153.70 241.89,153.51 241.89,155.08 240.41,155.29" fill="#b0b0b0"/>
<polygon points="241.39,153.51 242.88,153.33 242.88,154.88 241.39,155.08" fill="#afafaf"/>
<polygon points="242.38,153.33 243.87,153.15 243.87,154.67 242.38,154.88" fill="#adadad"/>
<polygon points="243.37,153.15 244.86,152.97 244.86,154.47 243.37,154.67" fill="#acacac"/>
<polygon points="244.36,152.97 245.84,152.79 245.84,154.27 244.36,154.47" fill="#ababab"/>
<polygon points="245.34,152.79 246.83,152.61 246.83,154.06 245.34,154.27" fill="#aaaaaa"/>
<polygon points="246.33,152.61 247.82,152.43 247.82,153.87 246.33,154.06" fill="#a9a9a9"/>
<polygon points="247.32,152.43 248.80,152.25 248.80,153.67 247.32,153.87" fill="#a8a8a8"/>
<polygon points="248.30,152.25 249.79,152.07 249.79,153.48 248.30,153.67" fill="#a7a7a7"/>
<polygon points="249.29,152.07 250.78,151.90 250.78,153.30 249.29,153.48" fill="#a6a6a6"/>
<polygon points="250.28,151.90 251.77,151.72 251.77,153.11 250.28,153.30" fill="#a5a5a5"/>
<polygon points="251.27,151.72 252.75,151.55 252.75,152.92 251.27,153.11" fill="#a5a5a5"/>
<polygon points="252.25,151.55 253.74,151.37 253.74,152.72 252.25,152.92" fill="#a5a5a5"/>
<polygon points="253.24,151.37 254.73,151.18 254.73,152.52 253.24,152.72" fill="#a5a5a5"/>
<polygon points="254.23,151.18 255.72,150.99 255.72,152.32 254.23,152.52" fill="#a5a5a5"/>
<polygon points="255.22,150.99 256.70,150.79 256.70,152.10 255.22,152.32" fill="#a5a5a5"/>
<polygon points="256.20,150.79 257.69,150.58 257.69,151.87 256.20,152.10" fill="#a5a5a5"/>
<polygon points="257.19,150.58 258.68,150.38 258.68,151.65 257.19,151.87" fill="#a5a5a5"/>
<polygon points="258.18,150.38 259.67,150.18 259.67,151.41 258.18,151.65" fill="#a5a5a5"/>
<polygon points="259.17,150.18 260.65,149.93 260.65,151.14 259.17,151.41" fill="#a5a5a5"/>
<polygon points="260.15,149.93 261.64,149.60 261.64,150.80 260.15,151.14" fill="#a5a5a5"/>
<polygon points="261.14,149.60 262.63,149.00 262.63,150.31 261.14,150.80" fill="#a5a5a5"/>
<polygon points="262.13,149.00 263.61,148.07 263.61,149.64 262.13,150.31" fill="#a8a8a8"/>
<polygon points="263.11,148.07 264.60,146.99 264.60,148.89 263.11,149.64" fill="#b7b7b7"/>
<polygon points="264.10,146.99 265.59,145.97 265.59,148.15 264.10,148.89" fill="#c2c2c2"/>
<polygon points="265.09,145.97 266.58,145.13 266.58,147.49 265.09,148.15" fill="#c8c8c8"/>
<polygon points="266.08,145.13 267.56,144.34 267.56,146.85 266.08,147.49" fill="#cccccc"/>
<polygon points="267.06,144.34 268.55,143.57 268.55,146.23 267.06,146.85" fill="#cfcfcf"/>
<polygon points="268.05,143.57 269.54,142.83 269.54,145.61 268.05,146.23" fill="#d1d1d1"/>
<polygon points="269.04,142.83 270.53,142.09 270.53,144.98 269.04,145.61" fill="#d3d3d3"/>
<polygon points="270.03,142.09 271.51,141.35 271.51,144.34 270.03,144.98" fill="#d4d4d4"/>
<polygon points="271.01,141.35 272.50,140.61 272.50,143.68 271.01,144.34" fill="#d6d6d6"/>
<polygon points="272.00,140.61 273.49,139.86 273.49,143.01 272.00,143.68" fill="#d7d7d7"/>
<polygon points="272.99,139.86 274.47,139.11 274.47,142.33 272.99,143.01" fill="#d8d8d8"/>
<polygon points="273.97,139.11 275.46,138.35 275.46,141.65 273.97,142.33" fill="#d9d9d9"/>
<polygon points="274.96,138.35 276.45,137.60 276.45,140.96 274.96,141.65" fill="#d9d9d9"/>
<polygon points="275.95,137.60 277.44,136.87 277.44,140.28 275.95,140.96" fill="#dadada"/>
<polygon points="276.94,136.87 278.42,136.15 278.42,139.61 276.94,140.28" fill="#dbdbdb"/>
<polygon points="277.92,136.15 279.41,135.46 279.41,138.96 277.92,139.61" fill="#dbdbdb"/>
<polygon points="278.91,135.46 280.40,134.80 280.40,138.31 278.91,138.96" fill="#dbdbdb"/>
<polygon points="279.90,134.80 281.39,134.15 281.39,137.68 279.90,138.31" fill="#dbdbdb"/>
<polygon points="280.89,134.15 282.37,133.52 282.37,137.04 280.89,137.68" fill="#dcdcdc"/>
<polygon points="281.87,133.52 283.36,132.90 283.36,136.41 281.87,137.04" fill="#dbdbdb"/>
<polygon points="282.86,132.90 284.35,132.30 284.35,135.79 282.86,136.41" fill="#dbdbdb"/>
<polygon points="283.85,132.30 285.33,131.71 285.33,135.18 283.85,135.79" fill="#dbdbdb"/>
<polygon points="284.83,131.71 286.32,131.12 286.32,134.56 284.83,135.18" fill="#dbdbdb"/>
<polygon points="285.82,131.12 287.31,130.55 287.31,133.96 285.82,134.56" fill="#dadada"/>
<polygon points="286.81,130.55 288.30,129.99 288.30,133.36 286.81,133.96" fill="#dadada"/>
<polygon points="287.80,129.99 289.28,129.44 289.28,132.76 287.80,133.36" fill="#dadada"/>
<polygon points="288.78,129.44 290.27,128.89 290.27,132.17 288.78,132.76" fill="#d9d9d9"/>
<polygon points="289.77,128.89 291.26,128.34 291.26,131.59 289.77,132.17" fill="#d9d9d9"/>
<polygon points="290.76,128.34 292.25,127.81 292.25,131.00 290.76,131.59" fill="#d8d8d8"/>
<polygon points="291.75,127.81 293.23,127.29 293.23,130.42 291.75,131.00" fill="#d7d7d7"/>
<polygon points="292.73,127.29 294.22,126.79 294.22,129.84 292.73,130.42" fill="#d7d7d7"/>
<polygon points="293.72,126.79 295.21,126.29 295.21,129.25 293.72,129.84" fill="#d5d5d5"/>
<polygon points="294.71,126.29 296.19,125.81 296.19,128.65 294.71,129.25" fill="#d4d4d4"/>
<polygon points="295.69,125.81 297.18,125.32 297.18,128.06 295.69,128.65" fill="#d2d2d2"/>
<polygon points="296.68,125.32 298.17,124.84 298.17,127.46 296.68,128.06" fill="#d0d0d0"/>
<polygon points="297.67,124.84 299.16,124.35 299.16,126.85 297.67,127.46" fill="#cecece"/>
<polygon points="298.66,124.35 300.14,123.85 300.14,126.23 298.66,126.85" fill="#cccccc"/>
<polygon points="299.64,123.85 301.13,123.35 301.13,125.61 299.64,126.23" fill="#c9c9c9"/>
<polygon points="300.63,123.35 302.12,122.83 302.12,124.98 300.63,125.61" fill="#c6c6c6"/>
<polygon points="301.62,122.83 303.11,122.30 303.11,124.33 301.62,124.98" fill="#c3c3c3"/>
<polygon points="302.61,122.30 304.09,121.76 304.09,123.63 302.61,124.33" fill="#bfbfbf"/>
<polygon points="303.59,121.76 305.08,121.21 305.08,122.91 303.59,123.63" fill="#b9b9b9"/>
<polygon points="304.58,121.21 306.07,120.66 306.07,122.22 304.58,122.91" fill="#b2b2b2"/>
<polygon points="305.57,120.66 307.06,120.10 307.06,121.60 305.57,122.22" fill="#adadad"/>
<polygon points="306.56,120.10 308.04,119.52 308.04,121.07 306.56,121.60" fill="#adadad"/>
<polygon points="307.54,119.52 309.03,118.92 309.03,120.57 307.54,121.07" fill="#b1b1b1"/>
<polygon points="308.53,118.92 310.02,118.33 310.02,120.11 308.53,120.57" fill="#b6b6b6"/>
<polygon points="309.52,118.33 311.00,117.79 311.00,119.66 309.52,120.11" fill="#bababa"/>
<polygon points="310.50,117.79 311.99,117.25 311.99,119.22 310.50,119.66" fill="#bebebe"/>
<polygon points="311.49,117.25 312.98,116.72 312.98,118.79 311.49,119.22" fill="#c1c1c1"/>
<polygon points="312.48,116.72 313.97,116.21 313.97,118.38 312.48,118.79" fill="#c4c4c4"/>
<polygon points="313.47,116.21 314.95,115.69 314.95,117.97 313.47,118.38" fill="#c7c7c7"/>
<polygon points="314.45,115.69 315.94,115.19 315.94,117.58 314.45,117.97" fill="#c9c9c9"/>
<polygon points="315.44,115.19 316.93,114.70 316.93,117.19 315.44,117.58" fill="#cccccc"/>
<polygon points="316.43,114.70 317.92,114.21 317.92,116.80 316.43,117.19" fill="#cecece"/>
<polygon points="317.42,114.21 318.90,113.74 318.90,116.42 317.42,116.80" fill="#d0d0d0"/>
<polygon points="318.40,113.74 319.89,113.27 319.89,116.04 318.40,116.42" fill="#d1d1d1"/>
<polygon points="319.39,113.27 320.88,112.81 320.88,115.66 319.39,116.04" fill="#d3d3d3"/>
<polygon points="320.38,112.81 321.86,112.36 321.86,115.28 320.38,115.66" fill="#d4d4d4"/>
<polygon points="321.36,112.36 322.85,111.91 322.85,114.91 321.36,115.28" fill="#d5d5d5"/>
<polygon points="322.35,111.91 323.84,111.47 323.84,114.54 322.35,114.91" fill="#d6d6d6"/>
<polygon points="323.34,111.47 324.83,111.04 324.83,114.17 323.34,114.54" fill="#d7d7d7"/>
<polygon points="324.33,111.04 325.81,110.61 325.81,113.81 324.33,114.17" fill="#d8d8d8"/>
<polygon points="325.31,110.61 326.80,110.19 326.80,113.45 325.31,113.81" fill="#d8d8d8"/>
<polygon points="326.30,110.19 327.79,109.78 327.79,113.09 326.30,113.45" fill="#d9d9d9"/>
<polygon points="327.29,109.78 328.78,109.38 328.78,112.74 327.29,113.09" fill="#dadada"/>
<polygon points="328.28,109.38 329.76,108.99 329.76,112.39 328.28,112.74" fill="#dadada"/>
<polygon points="329.26,108.99 330.75,108.60 330.75,112.05 329.26,112.39" fill="#dbdbdb"/>
<polyline points="35.30,273.81 36.29,273.07 37.27,272.35 38.26,271.67 39.25,271.00 40.24,270.35 41.22,269.72 42.21,269.15 43.20,268.65 44.19,268.22 45.17,267.83 46.16,267.45 47.15,267.06 48.13,266.63 49.12,266.12 50.11,265.51 51.10,264.65 52.08,263.43 53.07,262.02 54.06,260.58 55.05,259.27 56.03,258.20 57.02,257.15 58.01,256.11 58.99,255.09 59.98,254.10 60.97,253.16 61.96,252.29 62.94,251.46 63.93,250.66 64.92,249.88 65.91,249.12 66.89,248.38 67.88,247.64 68.87,246.98 69.86,246.51 70.84,246.16 71.83,245.83 72.82,245.45 73.80,244.92 74.79,244.17 75.78,243.08 76.77,241.69 77.75,240.11 78.74,238.45 79.73,236.82 80.72,235.33 81.70,234.05 82.69,232.83 83.68,231.60 84.66,230.34 85.65,229.04 86.64,227.68 87.63,226.36 88.61,225.06 89.60,223.69 90.59,222.21 91.58,220.67 92.56,219.10 93.55,217.50 94.54,215.80 95.52,214.08 96.51,212.42 97.50,210.89 98.49,209.59 99.47,208.42 100.46,207.34 101.45,206.32 102.44,205.34 103.42,204.38 104.41,203.40 105.40,202.44 106.38,201.49 107.37,200.55 108.36,199.62 109.35,198.72 110.33,197.82 111.32,196.93 112.31,196.02 113.30,195.12 114.28,194.23 115.27,193.36 116.26,192.50 117.25,191.66 118.23,190.81 119.22,189.96 120.21,189.14 121.19,188.34 122.18,187.57 123.17,186.84 124.16,186.20 125.14,185.65 126.13,185.16 127.12,184.70 128.11,184.25 129.09,183.79 130.08,183.28 131.07,182.80 132.05,182.34 133.04,181.90 134.03,181.47 135.02,181.05 136.00,180.63 136.99,180.21 137.98,179.79 138.97,179.39 139.95,178.99 140.94,178.58 141.93,178.12 142.91,177.65 143.90,177.17 144.89,176.69 145.88,176.22 146.86,175.79 147.85,175.35 148.84,174.90 149.83,174.45 150.81,174.01 151.80,173.58 152.79,173.18 153.77,172.80 154.76,172.46 155.75,172.15 156.74,171.86 157.72,171.57 158.71,171.30 159.70,171.04 160.69,170.80 161.67,170.56 162.66,170.34 163.65,170.14 164.64,169.97 165.62,169.84 166.61,169.72 167.60,169.58 168.58,169.38 169.57,169.17 170.56,168.96 171.55,168.73 172.53,168.51 173.52,168.28 174.51,168.04 175.50,167.81 176.48,167.57 177.47,167.34 178.46,167.10 179.44,166.87 180.43,166.64 181.42,166.41 182.41,166.18 183.39,165.95 184.38,165.71 185.37,165.48 186.36,165.25 187.34,165.01 188.33,164.78 189.32,164.54 190.30,164.30 191.29,164.05 192.28,163.80 193.27,163.54 194.25,163.28 195.24,163.01 196.23,162.75 197.22,162.49 198.20,162.22 199.19,161.97 200.18,161.72 201.16,161.48 202.15,161.26 203.14,161.06 204.13,160.88 205.11,160.72 206.10,160.55 207.09,160.35 208.08,160.09 209.06,159.77 210.05,159.41 211.04,159.03 212.03,158.67 213.01,158.34 214.00,158.06 214.99,157.81 215.97,157.59 216.96,157.39 217.95,157.20 218.94,157.02 219.92,156.84 220.91,156.65 221.90,156.45 222.89,156.24 223.87,156.04 224.86,155.85 225.85,155.66 226.83,155.47 227.82,155.28 228.81,155.10 229.80,154.92 230.78,154.74 231.77,154.56 232.76,154.38 233.75,154.21 234.73,154.03 235.72,153.85 236.71,153.67 237.69,153.48 238.68,153.31 239.67,153.13 240.66,152.96 241.64,152.79 242.63,152.62 243.62,152.45 244.61,152.28 245.59,152.10 246.58,151.93 247.57,151.76 248.55,151.59 249.54,151.42 250.53,151.26 251.52,151.09 252.50,150.92 253.49,150.75 254.48,150.57 255.47,150.39 256.45,150.20 257.44,150.00 258.43,149.82 259.42,149.62 260.40,149.39 261.39,149.06 262.38,148.40 263.36,147.32 264.35,146.07 265.34,144.89 266.33,143.94 267.31,143.06 268.30,142.20 269.29,141.38 270.28,140.57 271.26,139.78 272.25,139.00 273.24,138.21 274.22,137.42 275.21,136.63 276.20,135.85 277.19,135.09 278.17,134.36 279.16,133.66 280.15,133.00 281.14,132.37 282.12,131.76 283.11,131.18 284.10,130.62 285.08,130.08 286.07,129.55 287.06,129.03 288.05,128.51 289.03,128.01 290.02,127.50 291.01,126.99 292.00,126.49 292.98,126.01 293.97,125.53 294.96,125.06 295.94,124.60 296.93,124.15 297.92,123.69 298.91,123.23 299.89,122.77 300.88,122.30 301.87,121.82 302.86,121.34 303.84,120.88 304.83,120.43 305.82,119.95 306.81,119.43 307.79,118.82 308.78,118.13 309.77,117.45 310.75,116.82 311.74,116.20 312.73,115.57 313.72,114.95 314.70,114.34 315.69,113.73 316.68,113.13 317.67,112.54 318.65,111.97 319.64,111.41 320.63,110.86 321.61,110.33 322.60,109.80 323.59,109.28 324.58,108.77 325.56,108.27 326.55,107.77 327.54,107.29 328.53,106.82 329.51,106.35 330.50,105.90" fill="none" stroke="#d2d2d2" stroke-width="0.5"/>
<polyline points="35.30,274.39 36.29,274.17 37.27,273.94 38.26,273.68 39.25,273.44 40.24,273.19 41.22,272.91 42.21,272.54 43.20,272.05 44.19,271.48 45.17,270.86 46.16,270.20 47.15,269.51 48.13,268.81 49.12,268.11 50.11,267.41 51.10,266.82 52.08,266.40 53.07,266.05 54.06,265.66 55.05,265.15 56.03,264.44 57.02,263.68 58.01,262.88 58.99,262.06 59.98,261.23 60.97,260.37 61.96,259.51 62.94,258.65 63.93,257.79 64.92,256.93 65.91,256.07 66.89,255.20 67.88,254.32 68.87,253.39 69.86,252.32 70.84,251.17 71.83,249.97 72.82,248.79 73.80,247.66 74.79,246.64 75.78,245.78 76.77,245.09 77.75,244.46 78.74,243.81 79.73,243.05 80.72,242.09 81.70,240.88 82.69,239.54 83.68,238.12 84.66,236.60 85.65,234.97 86.64,233.20 87.63,230.90 88.61,228.37 89.60,226.11 90.59,224.57 91.58,223.53 92.56,222.64 93.55,221.61 94.54,220.51 95.52,219.40 96.51,218.31 97.50,217.30 98.49,216.38 99.47,215.55 100.46,214.77 101.45,214.03 102.44,213.29 103.42,212.54 104.41,211.74 105.40,210.93 106.38,210.12 107.37,209.31 108.36,208.50 109.35,207.69 110.33,206.88 111.32,206.07 112.31,205.27 113.30,204.47 114.28,203.66 115.27,202.84 116.26,202.00 117.25,201.16 118.23,200.33 119.22,199.51 120.21,198.70 121.19,197.92 122.18,197.16 123.17,196.43 124.16,195.74 125.14,195.09 126.13,194.47 127.12,193.87 128.11,193.30 129.09,192.74 130.08,192.20 131.07,191.68 132.05,191.18 133.04,190.68 134.03,190.20 135.02,189.71 136.00,189.22 136.99,188.72 137.98,188.17 138.97,187.61 139.95,187.07 140.94,186.58 141.93,186.10 142.91,185.62 143.90,185.16 144.89,184.71 145.88,184.28 146.86,183.87 147.85,183.46 148.84,183.06 149.83,182.67 150.81,182.29 151.80,181.92 152.79,181.57 153.77,181.23 154.76,180.91 155.75,180.60 156.74,180.29 157.72,179.97 158.71,179.65 159.70,179.33 160.69,179.01 161.67,178.70 162.66,178.40 163.65,178.12 164.64,177.85 165.62,177.57 166.61,177.30 167.60,177.02 168.58,176.74 169.57,176.46 170.56,176.18 171.55,175.89 172.53,175.60 173.52,175.31 174.51,175.02 175.50,174.73 176.48,174.45 177.47,174.16 178.46,173.89 179.44,173.61 180.43,173.35 181.42,173.10 182.41,172.87 183.39,172.64 184.38,172.41 185.37,172.19 186.36,171.96 187.34,171.73 188.33,171.49 189.32,171.24 190.30,170.97 191.29,170.68 192.28,170.35 193.27,169.98 194.25,169.58 195.24,169.16 196.23,168.73 197.22,168.29 198.20,167.85 199.19,167.42 200.18,167.02 201.16,166.65 202.15,166.31 203.14,166.01 204.13,165.74 205.11,165.49 206.10,165.23 207.09,164.95 208.08,164.64 209.06,164.27 210.05,163.83 211.04,163.39 212.03,162.97 213.01,162.61 214.00,162.33 214.99,162.06 215.97,161.82 216.96,161.59 217.95,161.38 218.94,161.17 219.92,160.96 220.91,160.75 221.90,160.53 222.89,160.30 223.87,160.07 224.86,159.83 225.85,159.59 226.83,159.34 227.82,159.09 228.81,158.84 229.80,158.59 230.78,158.34 231.77,158.09 232.76,157.84 233.75,157.60 234.73,157.36 235.72,157.12 236.71,156.89 237.69,156.66 238.68,156.44 239.67,156.21 240.66,155.99 241.64,155.77 242.63,155.55 243.62,155.33 244.61,155.12 245.59,154.91 246.58,154.70 247.57,154.49 248.55,154.29 249.54,154.10 250.53,153.91 251.52,153.72 252.50,153.52 253.49,153.33 254.48,153.12 255.47,152.91 256.45,152.69 257.44,152.45 258.43,152.22 259.42,151.97 260.40,151.69 261.39,151.34 262.38,150.89 263.36,150.31 264.35,149.67 265.34,149.03 266.33,148.42 267.31,147.83 268.30,147.25 269.29,146.66 270.28,146.07 271.26,145.46 272.25,144.84 273.24,144.20 274.22,143.55 275.21,142.89 276.20,142.23 277.19,141.58 278.17,140.93 279.16,140.30 280.15,139.68 281.14,139.07 282.12,138.46 283.11,137.86 284.10,137.26 285.08,136.67 286.07,136.08 287.06,135.49 288.05,134.91 289.03,134.33 290.02,133.74 291.01,133.16 292.00,132.57 292.98,131.95 293.97,131.32 294.96,130.68 295.94,130.02 296.93,129.35 297.92,128.67 298.91,127.98 299.89,127.29 300.88,126.60 301.87,125.90 302.86,125.20 303.84,124.43 304.83,123.65 305.82,122.92 306.81,122.28 307.79,121.75 308.78,121.28 309.77,120.83 310.75,120.38 311.74,119.93 312.73,119.50 313.72,119.08 314.70,118.67 315.69,118.26 316.68,117.86 317.67,117.46 318.65,117.06 319.64,116.67 320.63,116.28 321.61,115.89 322.60,115.50 323.59,115.11 324.58,114.72 325.56,114.34 326.55,113.96 327.54,113.58 328.53,113.20 329.51,112.82 330.50,112.45" fill="none" stroke="#d2d2d2" stroke-width="0.5"/>
<polyline points="35.30,274.10 36.29,273.62 37.27,273.15 38.26,272.68 39.25,272.22 40.24,271.77 41.22,271.32 42.21,270.84 43.20,270.35 44.19,269.85 45.17,269.35 46.16,268.83 47.15,268.29 48.13,267.72 49.12,267.11 50.11,266.46 51.10,265.74 52.08,264.91 53.07,264.03 54.06,263.12 55.05,262.21 56.03,261.32 57.02,260.42 58.01,259.50 58.99,258.58 59.98,257.66 60.97,256.77 61.96,255.90 62.94,255.06 63.93,254.23 64.92,253.41 65.91,252.60 66.89,251.79 67.88,250.98 68.87,250.18 69.86,249.42 70.84,248.66 71.83,247.90 72.82,247.12 73.80,246.29 74.79,245.40 75.78,244.43 76.77,243.39 77.75,242.29 78.74,241.13 79.73,239.93 80.72,238.71 81.70,237.46 82.69,236.18 83.68,234.86 84.66,233.47 85.65,232.01 86.64,230.44 87.63,228.63 88.61,226.71 89.60,224.90 90.59,223.39 91.58,222.10 92.56,220.87 93.55,219.55 94.54,218.16 95.52,216.75 96.51,215.38 97.50,214.11 98.49,212.97 99.47,211.95 100.46,211.00 101.45,210.09 102.44,209.21 103.42,208.33 104.41,207.42 105.40,206.52 106.38,205.63 107.37,204.75 108.36,203.87 109.35,202.99 110.33,202.10 111.32,201.20 112.31,200.30 113.30,199.40 114.28,198.51 115.27,197.63 116.26,196.78 117.25,195.94 118.23,195.10 119.22,194.28 120.21,193.48 121.19,192.69 122.18,191.93 123.17,191.20 124.16,190.49 125.14,189.79 126.13,189.11 127.12,188.45 128.11,187.83 129.09,187.24 130.08,186.70 131.07,186.19 132.05,185.71 133.04,185.25 134.03,184.81 135.02,184.38 136.00,183.96 136.99,183.53 137.98,183.12 138.97,182.72 139.95,182.32 140.94,181.92 141.93,181.51 142.91,181.11 143.90,180.71 144.89,180.33 145.88,179.96 146.86,179.61 147.85,179.28 148.84,178.97 149.83,178.67 150.81,178.37 151.80,178.08 152.79,177.79 153.77,177.50 154.76,177.20 155.75,176.90 156.74,176.58 157.72,176.26 158.71,175.94 159.70,175.62 160.69,175.30 161.67,175.00 162.66,174.70 163.65,174.41 164.64,174.15 165.62,173.90 166.61,173.65 167.60,173.40 168.58,173.15 169.57,172.89 170.56,172.64 171.55,172.38 172.53,172.13 173.52,171.87 174.51,171.61 175.50,171.35 176.48,171.09 177.47,170.82 178.46,170.56 179.44,170.29 180.43,170.02 181.42,169.74 182.41,169.46 183.39,169.18 184.38,168.90 185.37,168.61 186.36,168.33 187.34,168.04 188.33,167.75 189.32,167.46 190.30,167.17 191.29,166.88 192.28,166.59 193.27,166.29 194.25,165.99 195.24,165.68 196.23,165.38 197.22,165.07 198.20,164.77 199.19,164.48 200.18,164.19 201.16,163.91 202.15,163.64 203.14,163.39 204.13,163.15 205.11,162.93 206.10,162.70 207.09,162.45 208.08,162.18 209.06,161.86 210.05,161.50 211.04,161.12 212.03,160.76 213.01,160.43 214.00,160.13 214.99,159.86 215.97,159.59 216.96,159.33 217.95,159.08 218.94,158.84 219.92,158.61 220.91,158.38 221.90,158.16 222.89,157.94 223.87,157.73 224.86,157.53 225.85,157.33 226.83,157.14 227.82,156.95 228.81,156.76 229.80,156.57 230.78,156.39 231.77,156.21 232.76,156.03 233.75,155.84 234.73,155.66 235.72,155.47 236.71,155.28 237.69,155.09 238.68,154.90 239.67,154.70 240.66,154.51 241.64,154.32 242.63,154.13 243.62,153.94 244.61,153.75 245.59,153.55 246.58,153.36 247.57,153.17 248.55,152.98 249.54,152.80 250.53,152.61 251.52,152.43 252.50,152.24 253.49,152.05 254.48,151.86 255.47,151.66 256.45,151.44 257.44,151.22 258.43,151.02 259.42,150.80 260.40,150.54 261.39,150.20 262.38,149.67 263.36,148.89 264.35,148.02 265.34,147.18 266.33,146.45 267.31,145.77 268.30,145.10 269.29,144.44 270.28,143.77 271.26,143.10 272.25,142.40 273.24,141.70 274.22,140.98 275.21,140.27 276.20,139.55 277.19,138.84 278.17,138.15 279.16,137.46 280.15,136.79 281.14,136.13 282.12,135.47 283.11,134.81 284.10,134.16 285.08,133.51 286.07,132.88 287.06,132.25 288.05,131.63 289.03,131.02 290.02,130.42 291.01,129.84 292.00,129.27 292.98,128.72 293.97,128.18 294.96,127.66 295.94,127.14 296.93,126.63 297.92,126.11 298.91,125.59 299.89,125.06 300.88,124.51 301.87,123.95 302.86,123.36 303.84,122.73 304.83,122.08 305.82,121.45 306.81,120.85 307.79,120.31 308.78,119.79 309.77,119.31 310.75,118.86 311.74,118.42 312.73,118.00 313.72,117.60 314.70,117.20 315.69,116.82 316.68,116.44 317.67,116.07 318.65,115.70 319.64,115.33 320.63,114.97 321.61,114.61 322.60,114.25 323.59,113.90 324.58,113.56 325.56,113.22 326.55,112.88 327.54,112.55 328.53,112.23 329.51,111.91 330.50,111.60" fill="none" stroke="#ee9aa2" stroke-width="0.6"/>
<polygon points="50.00,263.10 49.96,263.45 49.81,263.79 49.69,264.14 49.58,264.48 49.49,264.83 49.40,265.18 49.32,265.52 49.25,265.87 49.17,266.21 49.11,266.56 49.14,266.90 49.19,267.25 49.24,267.60 49.30,267.94 49.35,268.29 49.41,268.63 49.48,268.98 49.54,269.32 49.62,269.67 49.69,270.02 49.78,270.36 49.89,270.71 50.00,271.05 50.00,271.40 50.60,271.40 50.60,271.05 50.71,270.71 50.82,270.36 50.91,270.02 50.98,269.67 51.06,269.32 51.12,268.98 51.19,268.63 51.25,268.29 51.30,267.94 51.36,267.60 51.41,267.25 51.46,266.90 51.49,266.56 51.43,266.21 51.35,265.87 51.28,265.52 51.20,265.18 51.11,264.83 51.02,264.48 50.91,264.14 50.79,263.79 50.64,263.45 50.60,263.10" fill="#3c3cff" fill-opacity="0.52"/>
<polygon points="46.20,265.50 46.55,265.50 46.90,265.44 47.25,265.35 47.60,265.27 47.95,265.21 48.30,265.14 48.65,265.08 49.00,265.03 49.35,264.98 49.70,264.93 50.05,264.88 50.40,264.86 50.75,264.91 51.10,264.95 51.45,265.00 51.80,265.05 52.15,265.10 52.50,265.16 52.85,265.22 53.20,265.29 53.55,265.36 53.90,265.45 54.25,265.50 54.60,265.50 54.60,266.10 54.25,266.10 53.90,266.15 53.55,266.24 53.20,266.31 52.85,266.38 52.50,266.44 52.15,266.50 51.80,266.55 51.45,266.60 51.10,266.65 50.75,266.69 50.40,266.74 50.05,266.72 49.70,266.67 49.35,266.62 49.00,266.57 48.65,266.52 48.30,266.46 47.95,266.39 47.60,266.33 47.25,266.25 46.90,266.16 46.55,266.10 46.20,266.10" fill="#3c3cff" fill-opacity="0.52"/>
<polygon points="74.40,241.60 74.24,241.94 73.97,242.28 73.77,242.61 73.59,242.95 73.43,243.29 73.29,243.62 73.15,243.96 73.03,244.30 72.91,244.64 72.80,244.97 72.69,245.31 72.61,245.65 72.72,245.99 72.82,246.32 72.93,246.66 73.05,247.00 73.18,247.34 73.31,247.67 73.45,248.01 73.61,248.35 73.78,248.69 73.98,249.02 74.24,249.36 74.40,249.70 75.20,249.70 75.36,249.36 75.62,249.02 75.82,248.69 75.99,248.35 76.15,248.01 76.29,247.67 76.42,247.34 76.55,247.00 76.67,246.66 76.78,246.32 76.88,245.99 76.99,245.65 76.91,245.31 76.80,244.97 76.69,244.64 76.57,244.30 76.45,243.96 76.31,243.62 76.17,243.29 76.01,242.95 75.83,242.61 75.63,242.28 75.36,241.94 75.20,241.60" fill="#3c3cff" fill-opacity="0.52"/>
<polygon points="85.90,223.50 86.24,223.50 86.58,223.49 86.93,223.39 87.27,223.30 87.61,223.22 87.95,223.15 88.29,223.08 88.63,223.02 88.97,222.96 89.32,222.90 89.66,222.85 90.00,222.80 90.34,222.85 90.68,222.90 91.03,222.96 91.37,223.02 91.71,223.08 92.05,223.15 92.39,223.22 92.73,223.30 93.07,223.39 93.42,223.49 93.76,223.50 94.10,223.50 94.10,224.30 93.76,224.30 93.42,224.31 93.07,224.41 92.73,224.50 92.39,224.58 92.05,224.65 91.71,224.72 91.37,224.78 91.03,224.84 90.68,224.90 90.34,224.95 90.00,225.00 89.66,224.95 89.32,224.90 88.97,224.84 88.63,224.78 88.29,224.72 87.95,224.65 87.61,224.58 87.27,224.50 86.93,224.41 86.58,224.31 86.24,224.30 85.90,224.30" fill="#3c3cff" fill-opacity="0.52"/>
<polygon points="89.60,221.10 89.60,221.32 89.56,221.53 89.45,221.75 89.36,221.97 89.27,222.18 89.20,222.40 89.13,222.62 89.06,222.83 89.00,223.05 88.94,223.27 88.88,223.48 88.82,223.70 88.83,223.92 88.89,224.13 88.95,224.35 89.02,224.57 89.09,224.78 89.16,225.00 89.24,225.22 89.33,225.43 89.43,225.65 89.54,225.87 89.60,226.08 89.60,226.30 90.40,226.30 90.40,226.08 90.46,225.87 90.57,225.65 90.67,225.43 90.76,225.22 90.84,225.00 90.91,224.78 90.98,224.57 91.05,224.35 91.11,224.13 91.17,223.92 91.18,223.70 91.12,223.48 91.06,223.27 91.00,223.05 90.94,222.83 90.87,222.62 90.80,222.40 90.73,222.18 90.64,221.97 90.55,221.75 90.44,221.53 90.40,221.32 90.40,221.10" fill="#3c3cff" fill-opacity="0.52"/>
<line x1="111.5" y1="122.50" x2="111.5" y2="143.20" stroke="#3c3cff" stroke-opacity="0.52" stroke-width="1.4" stroke-linecap="round"/>
<polygon points="130.90,170.70 130.90,171.19 130.72,171.68 130.58,172.17 130.45,172.67 130.34,173.16 130.24,173.65 130.15,174.14 130.06,174.63 129.98,175.12 129.98,175.62 130.04,176.11 130.09,176.60 130.15,177.09 130.21,177.58 130.27,178.07 130.33,178.57 130.40,179.06 130.47,179.55 130.55,180.04 130.64,180.53 130.74,181.03 130.85,181.52 130.90,182.01 130.90,182.50 131.70,182.50 131.70,182.01 131.75,181.52 131.86,181.03 131.96,180.53 132.05,180.04 132.13,179.55 132.20,179.06 132.27,178.57 132.33,178.07 132.39,177.58 132.45,177.09 132.51,176.60 132.56,176.11 132.62,175.62 132.62,175.12 132.54,174.63 132.45,174.14 132.36,173.65 132.26,173.16 132.15,172.67 132.02,172.17 131.88,171.68 131.70,171.19 131.70,170.70" fill="#3c3cff" fill-opacity="0.52"/>
<polygon points="142.40,167.00 142.40,167.63 142.40,168.26 142.32,168.89 142.22,169.52 142.13,170.15 142.05,170.78 141.97,171.40 141.90,172.03 141.86,172.66 141.90,173.29 141.94,173.92 141.98,174.55 142.02,175.18 142.07,175.81 142.11,176.44 142.16,177.07 142.22,177.70 142.27,178.32 142.33,178.95 142.40,179.58 142.40,180.21 142.40,180.84 142.40,181.47 142.40,182.10 143.40,182.10 143.40,181.47 143.40,180.84 143.40,180.21 143.40,179.58 143.47,178.95 143.53,178.32 143.58,177.70 143.64,177.07 143.69,176.44 143.73,175.81 143.78,175.18 143.82,174.55 143.86,173.92 143.90,173.29 143.94,172.66 143.90,172.03 143.83,171.40 143.75,170.78 143.67,170.15 143.58,169.52 143.48,168.89 143.40,168.26 143.40,167.63 143.40,167.00" fill="#3c3cff" fill-opacity="0.52"/>
<polygon points="159.70,140.40 159.70,141.04 159.67,141.68 159.56,142.33 159.47,142.97 159.38,143.61 159.31,144.25 159.24,144.89 159.17,145.53 159.11,146.18 159.05,146.82 159.00,147.46 158.96,148.10 159.01,148.74 159.07,149.38 159.13,150.03 159.19,150.67 159.25,151.31 159.32,151.95 159.39,152.59 159.48,153.23 159.57,153.88 159.67,154.52 159.70,155.16 159.70,155.80 160.50,155.80 160.50,155.16 160.53,154.52 160.63,153.88 160.72,153.23 160.81,152.59 160.88,151.95 160.95,151.31 161.01,150.67 161.07,150.03 161.13,149.38 161.19,148.74 161.24,148.10 161.20,147.46 161.15,146.82 161.09,146.18 161.03,145.53 160.96,144.89 160.89,144.25 160.82,143.61 160.73,142.97 160.64,142.33 160.53,141.68 160.50,141.04 160.50,140.40" fill="#3c3cff" fill-opacity="0.52"/>
<polygon points="178.75,197.10 178.75,197.75 178.70,198.40 178.60,199.05 178.51,199.70 178.43,200.35 178.36,201.00 178.30,201.65 178.24,202.30 178.18,202.95 178.13,203.60 178.07,204.25 178.02,204.90 178.03,205.55 178.08,206.20 178.14,206.85 178.20,207.50 178.26,208.15 178.33,208.80 178.41,209.45 178.49,210.10 178.58,210.75 178.68,211.40 178.75,212.05 178.75,212.70 179.45,212.70 179.45,212.05 179.52,211.40 179.62,210.75 179.71,210.10 179.79,209.45 179.87,208.80 179.94,208.15 180.00,207.50 180.06,206.85 180.12,206.20 180.17,205.55 180.18,204.90 180.13,204.25 180.07,203.60 180.02,202.95 179.96,202.30 179.90,201.65 179.84,201.00 179.77,200.35 179.69,199.70 179.60,199.05 179.50,198.40 179.45,197.75 179.45,197.10" fill="#3c3cff" fill-opacity="0.52"/>
<polygon points="207.40,147.00 207.40,147.64 207.40,148.28 207.33,148.91 207.23,149.55 207.14,150.19 207.07,150.82 206.99,151.46 206.92,152.10 206.86,152.74 206.79,153.38 206.73,154.01 206.72,154.65 206.78,155.29 206.83,155.93 206.89,156.56 206.96,157.20 207.02,157.84 207.09,158.48 207.17,159.11 207.26,159.75 207.35,160.39 207.40,161.03 207.40,161.66 207.40,162.30 208.40,162.30 208.40,161.66 208.40,161.03 208.45,160.39 208.54,159.75 208.63,159.11 208.71,158.48 208.78,157.84 208.84,157.20 208.91,156.56 208.97,155.93 209.02,155.29 209.08,154.65 209.07,154.01 209.01,153.38 208.94,152.74 208.88,152.10 208.81,151.46 208.73,150.82 208.66,150.19 208.57,149.55 208.47,148.91 208.40,148.28 208.40,147.64 208.40,147.00" fill="#3c3cff" fill-opacity="0.52"/>
<polygon points="207.70,158.30 208.02,158.30 208.35,158.30 208.67,158.30 209.00,158.30 209.32,158.30 209.65,158.25 209.97,158.20 210.30,158.15 210.62,158.11 210.95,158.07 211.28,158.03 211.60,158.01 211.92,158.05 212.25,158.09 212.57,158.13 212.90,158.17 213.22,158.21 213.55,158.26 213.88,158.30 214.20,158.30 214.53,158.30 214.85,158.30 215.18,158.30 215.50,158.30 215.50,159.30 215.18,159.30 214.85,159.30 214.53,159.30 214.20,159.30 213.88,159.30 213.55,159.34 213.22,159.39 212.90,159.43 212.57,159.47 212.25,159.51 211.92,159.55 211.60,159.59 211.28,159.57 210.95,159.53 210.62,159.49 210.30,159.45 209.97,159.40 209.65,159.35 209.32,159.30 209.00,159.30 208.67,159.30 208.35,159.30 208.02,159.30 207.70,159.30" fill="#3c3cff" fill-opacity="0.52"/>
<line x1="211.2" y1="156.85" x2="211.2" y2="162.05" stroke="#3c3cff" stroke-opacity="0.52" stroke-width="1.3" stroke-linecap="round"/>
<line x1="224.9" y1="111.70" x2="224.9" y2="137.80" stroke="#3c3cff" stroke-opacity="0.52" stroke-width="1.8" stroke-linecap="round"/>
<line x1="231.3" y1="112.20" x2="231.3" y2="134.40" stroke="#3c3cff" stroke-opacity="0.52" stroke-width="1.4" stroke-linecap="round"/>
<line x1="271.9" y1="93.80" x2="271.9" y2="115.90" stroke="#3c3cff" stroke-opacity="0.52" stroke-width="1.8" stroke-linecap="round"/>
<line x1="290.5" y1="94.45" x2="290.5" y2="121.35" stroke="#3c3cff" stroke-opacity="0.52" stroke-width="1.3" stroke-linecap="round"/>
<polygon points="306.65,116.30 306.65,116.57 306.65,116.83 306.65,117.10 306.65,117.37 306.65,117.63 306.60,117.90 306.56,118.17 306.52,118.43 306.48,118.70 306.44,118.97 306.41,119.23 306.37,119.50 306.34,119.77 306.31,120.03 306.28,120.30 306.25,120.57 306.22,120.83 306.23,121.10 306.31,121.37 306.40,121.63 306.51,121.90 306.62,122.17 306.65,122.43 306.65,122.70 307.55,122.70 307.55,122.43 307.58,122.17 307.69,121.90 307.80,121.63 307.89,121.37 307.97,121.10 307.98,120.83 307.95,120.57 307.92,120.30 307.89,120.03 307.86,119.77 307.83,119.50 307.79,119.23 307.76,118.97 307.72,118.70 307.68,118.43 307.64,118.17 307.60,117.90 307.55,117.63 307.55,117.37 307.55,117.10 307.55,116.83 307.55,116.57 307.55,116.30" fill="#3c3cff" fill-opacity="0.52"/>
<polygon points="304.50,120.65 304.72,120.65 304.93,120.65 305.15,120.63 305.37,120.55 305.58,120.48 305.80,120.42 306.02,120.36 306.23,120.30 306.45,120.25 306.67,120.20 306.88,120.15 307.10,120.10 307.32,120.15 307.53,120.20 307.75,120.25 307.97,120.30 308.18,120.36 308.40,120.42 308.62,120.48 308.83,120.55 309.05,120.63 309.27,120.65 309.48,120.65 309.70,120.65 309.70,121.55 309.48,121.55 309.27,121.55 309.05,121.57 308.83,121.65 308.62,121.72 308.40,121.78 308.18,121.84 307.97,121.90 307.75,121.95 307.53,122.00 307.32,122.05 307.10,122.10 306.88,122.05 306.67,122.00 306.45,121.95 306.23,121.90 306.02,121.84 305.80,121.78 305.58,121.72 305.37,121.65 305.15,121.57 304.93,121.55 304.72,121.55 304.50,121.55" fill="#3c3cff" fill-opacity="0.52"/>
<line x1="31.8" y1="274.4" x2="35.6" y2="274.4" stroke="#b0e8e8" stroke-width="0.9"/>
<line x1="35.6" y1="274.3" x2="38.0" y2="273.2" stroke="#444" stroke-width="0.9" stroke-linecap="round"/>
<polygon points="258,152.9 261.9,150.7 265.8,152.9 261.9,155.1" fill="#ffd6de" stroke="#ff3a5a" stroke-width="0.9"/>
<line x1="20.5" y1="90.7" x2="20.5" y2="276.8" stroke="#555" stroke-width="1"/>
<line x1="20" y1="276.3" x2="345.7" y2="276.3" stroke="#555" stroke-width="1"/>
<line x1="17.2" y1="273.7" x2="20.5" y2="273.7" stroke="#555" stroke-width="0.9"/>
<text transform="translate(15.1,273.7) rotate(-90)" text-anchor="middle" font-size="6.8" fill="#1a1a1a" stroke="#1a1a1a" stroke-width="0.1">0</text>
<line x1="17.2" y1="242.02" x2="20.5" y2="242.02" stroke="#555" stroke-width="0.9"/>
<text transform="translate(15.1,242.02) rotate(-90)" text-anchor="middle" font-size="6.8" fill="#1a1a1a" stroke="#1a1a1a" stroke-width="0.1">2000</text>
<line x1="17.2" y1="210.35" x2="20.5" y2="210.35" stroke="#555" stroke-width="0.9"/>
<text transform="translate(15.1,210.35) rotate(-90)" text-anchor="middle" font-size="6.8" fill="#1a1a1a" stroke="#1a1a1a" stroke-width="0.1">4000</text>
<line x1="17.2" y1="178.67" x2="20.5" y2="178.67" stroke="#555" stroke-width="0.9"/>
<text transform="translate(15.1,178.67) rotate(-90)" text-anchor="middle" font-size="6.8" fill="#1a1a1a" stroke="#1a1a1a" stroke-width="0.1">6000</text>
<line x1="17.2" y1="147" x2="20.5" y2="147" stroke="#555" stroke-width="0.9"/>
<text transform="translate(15.1,147) rotate(-90)" text-anchor="middle" font-size="6.8" fill="#1a1a1a" stroke="#1a1a1a" stroke-width="0.1">8000</text>
<line x1="17.2" y1="115.32" x2="20.5" y2="115.32" stroke="#555" stroke-width="0.9"/>
<text transform="translate(15.1,115.32) rotate(-90)" text-anchor="middle" font-size="6.8" fill="#1a1a1a" stroke="#1a1a1a" stroke-width="0.1">10,000</text>
<line x1="35.1" y1="276.3" x2="35.1" y2="279.6" stroke="#444" stroke-width="0.9"/>
<text x="35.1" y="286.8" text-anchor="middle" font-size="6.8" fill="#1a1a1a" stroke="#1a1a1a" stroke-width="0.1">0</text>
<line x1="108.1" y1="276.3" x2="108.1" y2="279.6" stroke="#444" stroke-width="0.9"/>
<text x="108.1" y="286.8" text-anchor="middle" font-size="6.8" fill="#1a1a1a" stroke="#1a1a1a" stroke-width="0.1">200</text>
<line x1="181.1" y1="276.3" x2="181.1" y2="279.6" stroke="#444" stroke-width="0.9"/>
<text x="181.1" y="286.8" text-anchor="middle" font-size="6.8" fill="#1a1a1a" stroke="#1a1a1a" stroke-width="0.1">400</text>
<line x1="254.1" y1="276.3" x2="254.1" y2="279.6" stroke="#444" stroke-width="0.9"/>
<text x="254.1" y="286.8" text-anchor="middle" font-size="6.8" fill="#1a1a1a" stroke="#1a1a1a" stroke-width="0.1">600</text>
<line x1="327.1" y1="276.3" x2="327.1" y2="279.6" stroke="#444" stroke-width="0.9"/>
<text x="327.1" y="286.8" text-anchor="middle" font-size="6.8" fill="#1a1a1a" stroke="#1a1a1a" stroke-width="0.1">800</text>
<text x="181.3" y="295.2" text-anchor="middle" font-size="7.7" fill="#1a1a1a" stroke="#1a1a1a" stroke-width="0.1">Composite Depth (cm)</text>
<text transform="translate(5.5,181.6) rotate(-90)" text-anchor="middle" font-size="7.7" fill="#1a1a1a" stroke="#1a1a1a" stroke-width="0.1">Age (cal yr BP)</text>
<text x="28.9" y="98.7" font-size="9.3" textLength="61.2" lengthAdjust="spacingAndGlyphs" fill="#111" stroke="#111" stroke-width="0.1">YNP4-GOS18</text>
<text x="26.2" y="107.1" font-size="7.8" textLength="67.6" lengthAdjust="spacingAndGlyphs" fill="#1a1a1a" stroke="#1a1a1a" stroke-width="0.12">Goose Lake, WY</text>
<text x="41.1" y="246.1" text-anchor="middle" font-size="7.9" fill="#1a1a1a" stroke="#1a1a1a" stroke-width="0.1">Core top</text>
<path d="M38.8,247.4 C42.3,250.2 43.2,253.8 41.2,257.6 C39,261.5 35.4,265 34.4,269.6" fill="none" stroke="#1a1a1a" stroke-width="0.9"/>
<polygon points="33.0,269.4 35.4,269.9 33.9,272.2" fill="#111" stroke="#111" stroke-width="0.4"/>
<text x="279.4" y="166.7" font-size="7.5" fill="#1a1a1a" stroke="#1a1a1a" stroke-width="0.1">Mazama ash</text>
<path d="M268.4,156.2 L270.6,157.8 C271.3,158.4 271.3,159.5 271.3,160.5 L271.3,162.3 C271.3,163.6 272.4,164.2 274,164.2 L278.8,164.2" fill="none" stroke="#222" stroke-width="0.75"/>
<polygon points="266.8,154.9 269.6,155.8 268,157.6" fill="#111" stroke="#111" stroke-width="0.15"/>
</svg>
</body></html>
